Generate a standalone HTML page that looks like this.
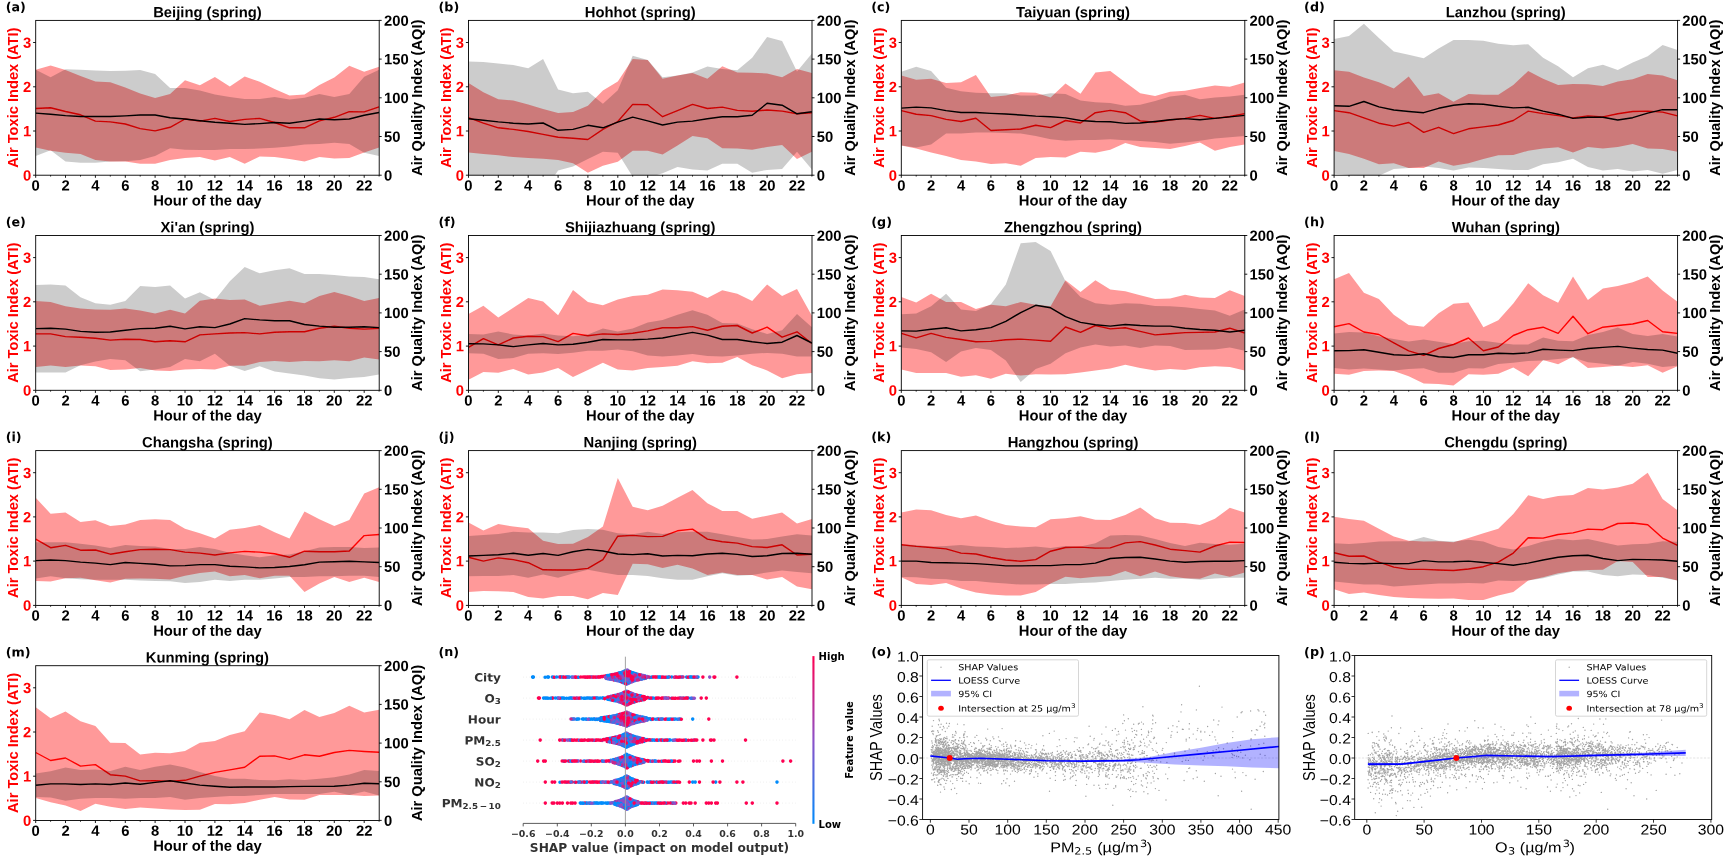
<!DOCTYPE html><html><head><meta charset="utf-8"><title>Figure</title><style>
html,body{margin:0;padding:0;background:#fff}svg{display:block}
.b{font-family:"Liberation Sans",Arial,sans-serif;font-weight:bold}
.r{font-family:"Liberation Sans",Arial,sans-serif}
.d{font-family:"DejaVu Sans",sans-serif}
.db{font-family:"DejaVu Sans",sans-serif;font-weight:bold}
</style></head><body>
<svg width="1731" height="862" viewBox="0 0 1731 862">
<rect width="1731" height="862" fill="#fff"/>
<filter id="soft" x="0" y="0" width="100%" height="100%"><feGaussianBlur stdDeviation="0.4"/></filter>
<g filter="url(#soft)">
<rect width="1731" height="862" fill="#fff"/>
<clipPath id="ca"><rect x="35.7" y="20.4" width="343.5" height="154.8"/></clipPath>
<g clip-path="url(#ca)">
<polygon points="35.7,69.7 50.6,65.5 65.5,70.1 80.5,76 95.4,81.4 110.3,82.2 125.3,87.5 140.2,93.5 155.1,98.1 170.1,93.9 185,80.2 199.9,85.2 214.9,77 229.8,86.4 244.7,76.6 259.7,81.8 274.6,89.1 289.5,95.6 304.5,94.4 319.4,85 334.3,77.6 349.3,65.7 364.2,71.8 379.1,66.8 379.1,147.6 364.2,152.4 349.3,158 334.3,158.5 319.4,157 304.5,161.6 289.5,159.1 274.6,157 259.7,156.4 244.7,163.7 229.8,157 214.9,160.5 199.9,157 185,158 170.1,160.1 155.1,163.7 140.2,163.7 125.3,161.6 110.3,161.6 95.4,160.1 80.5,153.9 65.5,152.8 50.6,150.7 35.7,147.6" fill="#f00" fill-opacity="0.4"/>
<polyline points="35.7,108.5 50.6,107.7 65.5,111.5 80.5,114.8 95.4,121.1 110.3,121.9 125.3,124 140.2,128.6 155.1,130.9 170.1,127.3 185,119 199.9,121.1 214.9,118.4 229.8,121.5 244.7,119.4 259.7,118.4 274.6,122.5 289.5,127.8 304.5,127.8 319.4,120.9 334.3,117.3 349.3,111.7 364.2,111.9 379.1,106.9" fill="none" stroke="#f00" stroke-width="1.4" stroke-linejoin="round"/>
<polygon points="35.7,69.7 50.6,77.2 65.5,69.3 80.5,69.7 95.4,70.5 110.3,71 125.3,70.8 140.2,69.9 155.1,74.1 170.1,88.1 185,88.1 199.9,90.6 214.9,94.4 229.8,96.9 244.7,98.9 259.7,98.9 274.6,96.9 289.5,99.6 304.5,97.7 319.4,93.9 334.3,96.9 349.3,93.9 364.2,76.8 379.1,69.7 379.1,156 364.2,152.8 349.3,144 334.3,142.8 319.4,144 304.5,144.5 289.5,146.6 274.6,147.8 259.7,148.6 244.7,149.1 229.8,149.1 214.9,149.9 199.9,149.9 185,149.7 170.1,148.2 155.1,156 140.2,160.1 125.3,161.2 110.3,161.6 95.4,162.8 80.5,162.8 65.5,161.6 50.6,150.3 35.7,156" fill="#000" fill-opacity="0.2"/>
<polyline points="35.7,113.1 50.6,114.2 65.5,115.6 80.5,116.5 95.4,116.5 110.3,116.5 125.3,115.9 140.2,115 155.1,115 170.1,117.7 185,119 199.9,120.7 214.9,122.3 229.8,123.2 244.7,124.4 259.7,123.6 274.6,122.5 289.5,123.2 304.5,121.1 319.4,119 334.3,119.8 349.3,119 364.2,115.2 379.1,112.5" fill="none" stroke="#000" stroke-width="1.4" stroke-linejoin="round"/>
</g>
<rect x="35.7" y="20.4" width="343.5" height="154.8" fill="none" stroke="#000" stroke-width="0.9"/>
<path d="M35.7,175.2v2.6M50.6,175.2v1.3M65.5,175.2v2.6M80.5,175.2v1.3M95.4,175.2v2.6M110.3,175.2v1.3M125.3,175.2v2.6M140.2,175.2v1.3M155.1,175.2v2.6M170.1,175.2v1.3M185,175.2v2.6M199.9,175.2v1.3M214.9,175.2v2.6M229.8,175.2v1.3M244.7,175.2v2.6M259.7,175.2v1.3M274.6,175.2v2.6M289.5,175.2v1.3M304.5,175.2v2.6M319.4,175.2v1.3M334.3,175.2v2.6M349.3,175.2v1.3M364.2,175.2v2.6M379.1,175.2v1.3M35.7,175.2h-2.6M35.7,131h-2.6M35.7,86.8h-2.6M35.7,42.5h-2.6M379.1,175.2h2.6M379.1,136.5h2.6M379.1,97.8h2.6M379.1,59.1h2.6M379.1,20.4h2.6" stroke="#000" stroke-width="0.9" fill="none"/>
<g class="b" font-size="14.8">
<text transform="translate(35.66,190.4) rotate(0.03)" text-anchor="middle">0</text>
<text transform="translate(65.53,190.4) rotate(0.03)" text-anchor="middle">2</text>
<text transform="translate(95.4,190.4) rotate(0.03)" text-anchor="middle">4</text>
<text transform="translate(125.26,190.4) rotate(0.03)" text-anchor="middle">6</text>
<text transform="translate(155.13,190.4) rotate(0.03)" text-anchor="middle">8</text>
<text transform="translate(185,190.4) rotate(0.03)" text-anchor="middle">10</text>
<text transform="translate(214.87,190.4) rotate(0.03)" text-anchor="middle">12</text>
<text transform="translate(244.73,190.4) rotate(0.03)" text-anchor="middle">14</text>
<text transform="translate(274.6,190.4) rotate(0.03)" text-anchor="middle">16</text>
<text transform="translate(304.47,190.4) rotate(0.03)" text-anchor="middle">18</text>
<text transform="translate(334.34,190.4) rotate(0.03)" text-anchor="middle">20</text>
<text transform="translate(364.21,190.4) rotate(0.03)" text-anchor="middle">22</text>
<text transform="translate(31.26,180.4) rotate(0.03)" text-anchor="end" fill="#f00">0</text>
<text transform="translate(31.26,136.18) rotate(0.03)" text-anchor="end" fill="#f00">1</text>
<text transform="translate(31.26,91.97) rotate(0.03)" text-anchor="end" fill="#f00">2</text>
<text transform="translate(31.26,47.75) rotate(0.03)" text-anchor="end" fill="#f00">3</text>
<text transform="translate(383.94,180.4) rotate(0.03)" text-anchor="start">0</text>
<text transform="translate(383.94,141.71) rotate(0.03)" text-anchor="start">50</text>
<text transform="translate(383.94,103.02) rotate(0.03)" text-anchor="start">100</text>
<text transform="translate(383.94,64.33) rotate(0.03)" text-anchor="start">150</text>
<text transform="translate(383.94,25.64) rotate(0.03)" text-anchor="start">200</text>
<text transform="translate(207.4,205.5) rotate(0.03)" text-anchor="middle">Hour of the day</text>
<text transform="translate(207.4,17.24) rotate(0.03)" text-anchor="middle" font-size="14.8">Beijing (spring)</text>
<text transform="translate(18.1,97.6) rotate(-90)" text-anchor="middle" fill="#f00" font-size="14.65">Air Toxic Index (ATI)</text>
<text transform="translate(421.7,97.7) rotate(-90)" text-anchor="middle" font-size="14.65">Air Quality Index (AQI)</text>
<text transform="translate(5.7,11.2) rotate(0.03)" text-anchor="start" font-size="12.7" class="db">(a)</text>
</g>
<clipPath id="cb"><rect x="468.5" y="20.4" width="343.5" height="154.8"/></clipPath>
<g clip-path="url(#cb)">
<polygon points="468.5,82.9 483.4,92.3 498.3,99.2 513.3,100.6 528.2,104.4 543.1,109 558.1,113.1 573,112.1 587.9,105.8 602.9,90.6 617.8,81.4 632.7,58.9 647.7,59.9 662.6,78.7 677.5,75.6 692.5,73.1 707.4,78.7 722.3,66.2 737.3,72.4 752.2,72.8 767.1,73.5 782.1,77.2 797,68.9 811.9,73.1 811.9,151.8 797,159.1 782.1,144.9 767.1,147 752.2,149.7 737.3,148.6 722.3,148.2 707.4,138.2 692.5,136.1 677.5,145.5 662.6,154.5 647.7,150.7 632.7,150.7 617.8,161.8 602.9,165.8 587.9,172.7 573,163.3 558.1,160.1 543.1,158.7 528.2,158 513.3,157 498.3,155.3 483.4,153.9 468.5,152.4" fill="#f00" fill-opacity="0.4"/>
<polyline points="468.5,117.7 483.4,123.2 498.3,127.8 513.3,129.4 528.2,131.5 543.1,134.4 558.1,137.2 573,138.2 587.9,139.5 602.9,129.4 617.8,121.5 632.7,104.4 647.7,104.8 662.6,116.7 677.5,110.6 692.5,104.4 707.4,108.5 722.3,107.1 737.3,110.4 752.2,111.3 767.1,110 782.1,111.1 797,113.8 811.9,112.7" fill="none" stroke="#f00" stroke-width="1.4" stroke-linejoin="round"/>
<polygon points="468.5,61.4 483.4,62 498.3,63.4 513.3,65.1 528.2,68.2 543.1,58.9 558.1,89.5 573,93.3 587.9,91.8 602.9,103.7 617.8,90.2 632.7,55.7 647.7,59.9 662.6,77.2 677.5,75.6 692.5,72.4 707.4,66.6 722.3,68.9 737.3,70.3 752.2,57.8 767.1,36.9 782.1,41.1 797,71.4 811.9,53.6 811.9,169.5 797,151.8 782.1,169.1 767.1,169.9 752.2,172.7 737.3,163.7 722.3,163.7 707.4,170.6 692.5,169.5 677.5,167 662.6,173.3 647.7,177.9 632.7,176.8 617.8,152.8 602.9,151.8 587.9,159.1 573,166.4 558.1,170.6 543.1,192.5 528.2,190.4 513.3,188.3 498.3,186.2 483.4,184.1 468.5,182.1" fill="#000" fill-opacity="0.2"/>
<polyline points="468.5,118.8 483.4,120.2 498.3,121.9 513.3,123.2 528.2,124 543.1,123 558.1,130.3 573,129.4 587.9,125.3 602.9,127.8 617.8,122.1 632.7,117.1 647.7,120.9 662.6,125 677.5,122.1 692.5,121.1 707.4,118.8 722.3,116.7 737.3,116.7 752.2,115.2 767.1,103.3 782.1,105.2 797,113.8 811.9,111.7" fill="none" stroke="#000" stroke-width="1.4" stroke-linejoin="round"/>
</g>
<rect x="468.5" y="20.4" width="343.5" height="154.8" fill="none" stroke="#000" stroke-width="0.9"/>
<path d="M468.5,175.2v2.6M483.4,175.2v1.3M498.3,175.2v2.6M513.3,175.2v1.3M528.2,175.2v2.6M543.1,175.2v1.3M558.1,175.2v2.6M573,175.2v1.3M587.9,175.2v2.6M602.9,175.2v1.3M617.8,175.2v2.6M632.7,175.2v1.3M647.7,175.2v2.6M662.6,175.2v1.3M677.5,175.2v2.6M692.5,175.2v1.3M707.4,175.2v2.6M722.3,175.2v1.3M737.3,175.2v2.6M752.2,175.2v1.3M767.1,175.2v2.6M782.1,175.2v1.3M797,175.2v2.6M811.9,175.2v1.3M468.5,175.2h-2.6M468.5,131h-2.6M468.5,86.8h-2.6M468.5,42.5h-2.6M811.9,175.2h2.6M811.9,136.5h2.6M811.9,97.8h2.6M811.9,59.1h2.6M811.9,20.4h2.6" stroke="#000" stroke-width="0.9" fill="none"/>
<g class="b" font-size="14.8">
<text transform="translate(468.46,190.4) rotate(0.03)" text-anchor="middle">0</text>
<text transform="translate(498.33,190.4) rotate(0.03)" text-anchor="middle">2</text>
<text transform="translate(528.2,190.4) rotate(0.03)" text-anchor="middle">4</text>
<text transform="translate(558.06,190.4) rotate(0.03)" text-anchor="middle">6</text>
<text transform="translate(587.93,190.4) rotate(0.03)" text-anchor="middle">8</text>
<text transform="translate(617.8,190.4) rotate(0.03)" text-anchor="middle">10</text>
<text transform="translate(647.67,190.4) rotate(0.03)" text-anchor="middle">12</text>
<text transform="translate(677.53,190.4) rotate(0.03)" text-anchor="middle">14</text>
<text transform="translate(707.4,190.4) rotate(0.03)" text-anchor="middle">16</text>
<text transform="translate(737.27,190.4) rotate(0.03)" text-anchor="middle">18</text>
<text transform="translate(767.14,190.4) rotate(0.03)" text-anchor="middle">20</text>
<text transform="translate(797.01,190.4) rotate(0.03)" text-anchor="middle">22</text>
<text transform="translate(464.06,180.4) rotate(0.03)" text-anchor="end" fill="#f00">0</text>
<text transform="translate(464.06,136.18) rotate(0.03)" text-anchor="end" fill="#f00">1</text>
<text transform="translate(464.06,91.97) rotate(0.03)" text-anchor="end" fill="#f00">2</text>
<text transform="translate(464.06,47.75) rotate(0.03)" text-anchor="end" fill="#f00">3</text>
<text transform="translate(816.74,180.4) rotate(0.03)" text-anchor="start">0</text>
<text transform="translate(816.74,141.71) rotate(0.03)" text-anchor="start">50</text>
<text transform="translate(816.74,103.02) rotate(0.03)" text-anchor="start">100</text>
<text transform="translate(816.74,64.33) rotate(0.03)" text-anchor="start">150</text>
<text transform="translate(816.74,25.64) rotate(0.03)" text-anchor="start">200</text>
<text transform="translate(640.2,205.5) rotate(0.03)" text-anchor="middle">Hour of the day</text>
<text transform="translate(640.2,17.24) rotate(0.03)" text-anchor="middle" font-size="14.8">Hohhot (spring)</text>
<text transform="translate(450.9,97.6) rotate(-90)" text-anchor="middle" fill="#f00" font-size="14.65">Air Toxic Index (ATI)</text>
<text transform="translate(854.5,97.7) rotate(-90)" text-anchor="middle" font-size="14.65">Air Quality Index (AQI)</text>
<text transform="translate(438.5,11.2) rotate(0.03)" text-anchor="start" font-size="12.7" class="db">(b)</text>
</g>
<clipPath id="cc"><rect x="901.3" y="20.4" width="343.5" height="154.8"/></clipPath>
<g clip-path="url(#cc)">
<polygon points="901.3,75.6 916.2,79.7 931.1,78.7 946.1,82.9 961,82.2 975.9,74.9 990.9,96.9 1005.8,95.4 1020.7,92.3 1035.7,92.7 1050.6,97.5 1065.5,83.5 1080.5,93.7 1095.4,72.4 1110.3,71 1125.3,82.2 1140.2,93.3 1155.1,96 1170.1,91.8 1185,90.8 1199.9,88.1 1214.9,85.6 1229.8,86.8 1244.7,82.4 1244.7,144.5 1229.8,147 1214.9,150.7 1199.9,142.4 1185,146.1 1170.1,149.1 1155.1,148 1140.2,147 1125.3,143 1110.3,149.7 1095.4,152.8 1080.5,151.8 1065.5,157.6 1050.6,157 1035.7,158 1020.7,165.8 1005.8,163.3 990.9,164.1 975.9,161.6 961,160.1 946.1,156 931.1,152.4 916.2,148.6 901.3,145.5" fill="#f00" fill-opacity="0.4"/>
<polyline points="901.3,110.6 916.2,114.2 931.1,115.6 946.1,119.4 961,121.5 975.9,118.2 990.9,130.5 1005.8,129.8 1020.7,129 1035.7,125.3 1050.6,127.6 1065.5,120.5 1080.5,123 1095.4,112.7 1110.3,110.4 1125.3,112.7 1140.2,120.9 1155.1,122.1 1170.1,120 1185,118.4 1199.9,115.4 1214.9,118.4 1229.8,116.5 1244.7,113.6" fill="none" stroke="#f00" stroke-width="1.4" stroke-linejoin="round"/>
<polygon points="901.3,71.8 916.2,66.8 931.1,71 946.1,87.7 961,91.2 975.9,92.7 990.9,93.3 1005.8,93.3 1020.7,95.4 1035.7,95.4 1050.6,93.3 1065.5,93.9 1080.5,100.6 1095.4,102.3 1110.3,103.1 1125.3,105.8 1140.2,104.8 1155.1,101 1170.1,96.4 1185,94.8 1199.9,99.2 1214.9,97.5 1229.8,96.4 1244.7,94.8 1244.7,136.1 1229.8,137.2 1214.9,138.6 1199.9,140.7 1185,142.4 1170.1,143.8 1155.1,142 1140.2,140.9 1125.3,140.3 1110.3,139.2 1095.4,139.9 1080.5,139.9 1065.5,140.7 1050.6,139.2 1035.7,136.1 1020.7,133.6 1005.8,133 990.9,132.6 975.9,132.6 961,133.6 946.1,133.6 931.1,144.5 916.2,147.6 901.3,145.5" fill="#000" fill-opacity="0.2"/>
<polyline points="901.3,108.1 916.2,107.1 931.1,107.9 946.1,110.6 961,112.5 975.9,112.5 990.9,113.4 1005.8,114 1020.7,115 1035.7,116.1 1050.6,116.7 1065.5,117.9 1080.5,120.5 1095.4,121.5 1110.3,121.7 1125.3,123.4 1140.2,123 1155.1,121.5 1170.1,119.8 1185,118.6 1199.9,119.8 1214.9,118.4 1229.8,116.9 1244.7,115.4" fill="none" stroke="#000" stroke-width="1.4" stroke-linejoin="round"/>
</g>
<rect x="901.3" y="20.4" width="343.5" height="154.8" fill="none" stroke="#000" stroke-width="0.9"/>
<path d="M901.3,175.2v2.6M916.2,175.2v1.3M931.1,175.2v2.6M946.1,175.2v1.3M961,175.2v2.6M975.9,175.2v1.3M990.9,175.2v2.6M1005.8,175.2v1.3M1020.7,175.2v2.6M1035.7,175.2v1.3M1050.6,175.2v2.6M1065.5,175.2v1.3M1080.5,175.2v2.6M1095.4,175.2v1.3M1110.3,175.2v2.6M1125.3,175.2v1.3M1140.2,175.2v2.6M1155.1,175.2v1.3M1170.1,175.2v2.6M1185,175.2v1.3M1199.9,175.2v2.6M1214.9,175.2v1.3M1229.8,175.2v2.6M1244.7,175.2v1.3M901.3,175.2h-2.6M901.3,131h-2.6M901.3,86.8h-2.6M901.3,42.5h-2.6M1244.7,175.2h2.6M1244.7,136.5h2.6M1244.7,97.8h2.6M1244.7,59.1h2.6M1244.7,20.4h2.6" stroke="#000" stroke-width="0.9" fill="none"/>
<g class="b" font-size="14.8">
<text transform="translate(901.26,190.4) rotate(0.03)" text-anchor="middle">0</text>
<text transform="translate(931.13,190.4) rotate(0.03)" text-anchor="middle">2</text>
<text transform="translate(961,190.4) rotate(0.03)" text-anchor="middle">4</text>
<text transform="translate(990.86,190.4) rotate(0.03)" text-anchor="middle">6</text>
<text transform="translate(1020.73,190.4) rotate(0.03)" text-anchor="middle">8</text>
<text transform="translate(1050.6,190.4) rotate(0.03)" text-anchor="middle">10</text>
<text transform="translate(1080.47,190.4) rotate(0.03)" text-anchor="middle">12</text>
<text transform="translate(1110.33,190.4) rotate(0.03)" text-anchor="middle">14</text>
<text transform="translate(1140.2,190.4) rotate(0.03)" text-anchor="middle">16</text>
<text transform="translate(1170.07,190.4) rotate(0.03)" text-anchor="middle">18</text>
<text transform="translate(1199.94,190.4) rotate(0.03)" text-anchor="middle">20</text>
<text transform="translate(1229.81,190.4) rotate(0.03)" text-anchor="middle">22</text>
<text transform="translate(896.86,180.4) rotate(0.03)" text-anchor="end" fill="#f00">0</text>
<text transform="translate(896.86,136.18) rotate(0.03)" text-anchor="end" fill="#f00">1</text>
<text transform="translate(896.86,91.97) rotate(0.03)" text-anchor="end" fill="#f00">2</text>
<text transform="translate(896.86,47.75) rotate(0.03)" text-anchor="end" fill="#f00">3</text>
<text transform="translate(1249.54,180.4) rotate(0.03)" text-anchor="start">0</text>
<text transform="translate(1249.54,141.71) rotate(0.03)" text-anchor="start">50</text>
<text transform="translate(1249.54,103.02) rotate(0.03)" text-anchor="start">100</text>
<text transform="translate(1249.54,64.33) rotate(0.03)" text-anchor="start">150</text>
<text transform="translate(1249.54,25.64) rotate(0.03)" text-anchor="start">200</text>
<text transform="translate(1073,205.5) rotate(0.03)" text-anchor="middle">Hour of the day</text>
<text transform="translate(1073,17.24) rotate(0.03)" text-anchor="middle" font-size="14.8">Taiyuan (spring)</text>
<text transform="translate(883.7,97.6) rotate(-90)" text-anchor="middle" fill="#f00" font-size="14.65">Air Toxic Index (ATI)</text>
<text transform="translate(1287.3,97.7) rotate(-90)" text-anchor="middle" font-size="14.65">Air Quality Index (AQI)</text>
<text transform="translate(871.3,11.2) rotate(0.03)" text-anchor="start" font-size="12.7" class="db">(c)</text>
</g>
<clipPath id="cd"><rect x="1334.1" y="20.4" width="343.5" height="154.8"/></clipPath>
<g clip-path="url(#cd)">
<polygon points="1334.1,70.3 1349,71.8 1363.9,77.6 1378.9,82.2 1393.8,88.5 1408.7,76.6 1423.7,96 1438.6,93.3 1453.5,101.7 1468.5,93.9 1483.4,94.8 1498.3,94.8 1513.3,85 1528.2,71 1543.1,78.7 1558.1,85 1573,83.9 1587.9,84.3 1602.9,86 1617.8,81.4 1632.7,79.3 1647.7,73.9 1662.6,75.6 1677.5,80.2 1677.5,151.8 1662.6,149.1 1647.7,148.6 1632.7,144 1617.8,147 1602.9,148.6 1587.9,147 1573,152.4 1558.1,147.2 1543.1,148.6 1528.2,150.7 1513.3,154.9 1498.3,155.3 1483.4,159.1 1468.5,163.3 1453.5,165.8 1438.6,161.6 1423.7,168.1 1408.7,168.1 1393.8,163.3 1378.9,164.3 1363.9,158.7 1349,153.9 1334.1,151.1" fill="#f00" fill-opacity="0.4"/>
<polyline points="1334.1,110.6 1349,112.7 1363.9,117.9 1378.9,123.2 1393.8,126.1 1408.7,122.5 1423.7,132.4 1438.6,127.3 1453.5,133.6 1468.5,128.8 1483.4,126.9 1498.3,125 1513.3,120.5 1528.2,111.1 1543.1,113.6 1558.1,115.6 1573,117.9 1587.9,115.9 1602.9,116.9 1617.8,113.8 1632.7,111.5 1647.7,111.1 1662.6,112.1 1677.5,115.9" fill="none" stroke="#f00" stroke-width="1.4" stroke-linejoin="round"/>
<polygon points="1334.1,39 1349,35.9 1363.9,23.8 1378.9,38 1393.8,51.5 1408.7,54.7 1423.7,58.2 1438.6,48.4 1453.5,40.1 1468.5,40.1 1483.4,40.7 1498.3,43.8 1513.3,45.3 1528.2,44.2 1543.1,57.8 1558.1,66.2 1573,77.2 1587.9,68.2 1602.9,64.7 1617.8,69.9 1632.7,62.6 1647.7,56.3 1662.6,44.9 1677.5,50.1 1677.5,169.9 1662.6,173.7 1647.7,169.9 1632.7,171.6 1617.8,169.1 1602.9,170.6 1587.9,167 1573,158.7 1558.1,162.2 1543.1,164.3 1528.2,169.9 1513.3,169.9 1498.3,169.1 1483.4,168.1 1468.5,167.4 1453.5,170.6 1438.6,168.1 1423.7,166.4 1408.7,167.9 1393.8,168.9 1378.9,175.8 1363.9,176.8 1349,174.7 1334.1,173.7" fill="#000" fill-opacity="0.2"/>
<polyline points="1334.1,105.8 1349,106.3 1363.9,101.5 1378.9,106.9 1393.8,110 1408.7,111.5 1423.7,112.7 1438.6,108.3 1453.5,105.2 1468.5,103.7 1483.4,104.2 1498.3,106.3 1513.3,107.9 1528.2,107.3 1543.1,111.1 1558.1,114.2 1573,118.4 1587.9,117.3 1602.9,117.3 1617.8,120 1632.7,117.7 1647.7,113.1 1662.6,109.6 1677.5,109.8" fill="none" stroke="#000" stroke-width="1.4" stroke-linejoin="round"/>
</g>
<rect x="1334.1" y="20.4" width="343.5" height="154.8" fill="none" stroke="#000" stroke-width="0.9"/>
<path d="M1334.1,175.2v2.6M1349,175.2v1.3M1363.9,175.2v2.6M1378.9,175.2v1.3M1393.8,175.2v2.6M1408.7,175.2v1.3M1423.7,175.2v2.6M1438.6,175.2v1.3M1453.5,175.2v2.6M1468.5,175.2v1.3M1483.4,175.2v2.6M1498.3,175.2v1.3M1513.3,175.2v2.6M1528.2,175.2v1.3M1543.1,175.2v2.6M1558.1,175.2v1.3M1573,175.2v2.6M1587.9,175.2v1.3M1602.9,175.2v2.6M1617.8,175.2v1.3M1632.7,175.2v2.6M1647.7,175.2v1.3M1662.6,175.2v2.6M1677.5,175.2v1.3M1334.1,175.2h-2.6M1334.1,131h-2.6M1334.1,86.8h-2.6M1334.1,42.5h-2.6M1677.5,175.2h2.6M1677.5,136.5h2.6M1677.5,97.8h2.6M1677.5,59.1h2.6M1677.5,20.4h2.6" stroke="#000" stroke-width="0.9" fill="none"/>
<g class="b" font-size="14.8">
<text transform="translate(1334.06,190.4) rotate(0.03)" text-anchor="middle">0</text>
<text transform="translate(1363.93,190.4) rotate(0.03)" text-anchor="middle">2</text>
<text transform="translate(1393.8,190.4) rotate(0.03)" text-anchor="middle">4</text>
<text transform="translate(1423.66,190.4) rotate(0.03)" text-anchor="middle">6</text>
<text transform="translate(1453.53,190.4) rotate(0.03)" text-anchor="middle">8</text>
<text transform="translate(1483.4,190.4) rotate(0.03)" text-anchor="middle">10</text>
<text transform="translate(1513.27,190.4) rotate(0.03)" text-anchor="middle">12</text>
<text transform="translate(1543.13,190.4) rotate(0.03)" text-anchor="middle">14</text>
<text transform="translate(1573,190.4) rotate(0.03)" text-anchor="middle">16</text>
<text transform="translate(1602.87,190.4) rotate(0.03)" text-anchor="middle">18</text>
<text transform="translate(1632.74,190.4) rotate(0.03)" text-anchor="middle">20</text>
<text transform="translate(1662.61,190.4) rotate(0.03)" text-anchor="middle">22</text>
<text transform="translate(1329.66,180.4) rotate(0.03)" text-anchor="end" fill="#f00">0</text>
<text transform="translate(1329.66,136.18) rotate(0.03)" text-anchor="end" fill="#f00">1</text>
<text transform="translate(1329.66,91.97) rotate(0.03)" text-anchor="end" fill="#f00">2</text>
<text transform="translate(1329.66,47.75) rotate(0.03)" text-anchor="end" fill="#f00">3</text>
<text transform="translate(1682.34,180.4) rotate(0.03)" text-anchor="start">0</text>
<text transform="translate(1682.34,141.71) rotate(0.03)" text-anchor="start">50</text>
<text transform="translate(1682.34,103.02) rotate(0.03)" text-anchor="start">100</text>
<text transform="translate(1682.34,64.33) rotate(0.03)" text-anchor="start">150</text>
<text transform="translate(1682.34,25.64) rotate(0.03)" text-anchor="start">200</text>
<text transform="translate(1505.8,205.5) rotate(0.03)" text-anchor="middle">Hour of the day</text>
<text transform="translate(1505.8,17.24) rotate(0.03)" text-anchor="middle" font-size="14.8">Lanzhou (spring)</text>
<text transform="translate(1316.5,97.6) rotate(-90)" text-anchor="middle" fill="#f00" font-size="14.65">Air Toxic Index (ATI)</text>
<text transform="translate(1720.1,97.7) rotate(-90)" text-anchor="middle" font-size="14.65">Air Quality Index (AQI)</text>
<text transform="translate(1304.1,11.2) rotate(0.03)" text-anchor="start" font-size="12.7" class="db">(d)</text>
</g>
<clipPath id="ce"><rect x="35.7" y="235.5" width="343.5" height="154.8"/></clipPath>
<g clip-path="url(#ce)">
<polygon points="35.7,301.1 50.6,302.1 65.5,306.3 80.5,308.4 95.4,309.4 110.3,309.8 125.3,308.4 140.2,310.5 155.1,313.6 170.1,309.8 185,313.6 199.9,300.7 214.9,298.6 229.8,300 244.7,299.4 259.7,305.7 274.6,303.2 289.5,300.7 304.5,303.2 319.4,295.9 334.3,292.1 349.3,295.9 364.2,301.1 379.1,297.9 379.1,359.5 364.2,357.5 349.3,361.2 334.3,360.2 319.4,361.2 304.5,361 289.5,362.1 274.6,361 259.7,362.1 244.7,365.8 229.8,365.8 214.9,369.4 199.9,368.9 185,369.6 170.1,371 155.1,370.4 140.2,367.9 125.3,369.6 110.3,370 95.4,366.2 80.5,365.4 65.5,366.9 50.6,365.4 35.7,366.9" fill="#f00" fill-opacity="0.4"/>
<polyline points="35.7,333.9 50.6,333.9 65.5,336.6 80.5,337.2 95.4,338.2 110.3,340.1 125.3,339.3 140.2,339.5 155.1,341.8 170.1,340.8 185,341.8 199.9,334.9 214.9,333.9 229.8,333 244.7,332.6 259.7,333.9 274.6,332.2 289.5,331.8 304.5,331.8 319.4,328.2 334.3,326.3 349.3,328.2 364.2,329.1 379.1,328.4" fill="none" stroke="#f00" stroke-width="1.4" stroke-linejoin="round"/>
<polygon points="35.7,285 50.6,284.4 65.5,285.4 80.5,297.3 95.4,303.2 110.3,304.8 125.3,301.1 140.2,286 155.1,286.9 170.1,285.4 185,298.6 199.9,292.3 214.9,300 229.8,281.2 244.7,267 259.7,273.3 274.6,270.2 289.5,268.3 304.5,273.9 319.4,273.9 334.3,275 349.3,276.4 364.2,277.1 379.1,279.2 379.1,374.6 364.2,376.9 349.3,377.9 334.3,379.6 319.4,378.3 304.5,375.6 289.5,373.5 274.6,371.4 259.7,366.2 244.7,371 229.8,365.8 214.9,353.7 199.9,361.2 185,358.9 170.1,366.9 155.1,369.6 140.2,371.2 125.3,360.2 110.3,359.1 95.4,361.6 80.5,365.2 65.5,372.5 50.6,372.5 35.7,372.5" fill="#000" fill-opacity="0.2"/>
<polyline points="35.7,328.6 50.6,328.2 65.5,329.1 80.5,331.4 95.4,332.2 110.3,332 125.3,330.3 140.2,328.6 155.1,328.2 170.1,326.3 185,328.9 199.9,326.8 214.9,327.6 229.8,324 244.7,318.6 259.7,319.9 274.6,320.7 289.5,320.7 304.5,324.5 319.4,326.1 334.3,327.2 349.3,327.2 364.2,326.8 379.1,327.6" fill="none" stroke="#000" stroke-width="1.4" stroke-linejoin="round"/>
</g>
<rect x="35.7" y="235.5" width="343.5" height="154.8" fill="none" stroke="#000" stroke-width="0.9"/>
<path d="M35.7,390.3v2.6M50.6,390.3v1.3M65.5,390.3v2.6M80.5,390.3v1.3M95.4,390.3v2.6M110.3,390.3v1.3M125.3,390.3v2.6M140.2,390.3v1.3M155.1,390.3v2.6M170.1,390.3v1.3M185,390.3v2.6M199.9,390.3v1.3M214.9,390.3v2.6M229.8,390.3v1.3M244.7,390.3v2.6M259.7,390.3v1.3M274.6,390.3v2.6M289.5,390.3v1.3M304.5,390.3v2.6M319.4,390.3v1.3M334.3,390.3v2.6M349.3,390.3v1.3M364.2,390.3v2.6M379.1,390.3v1.3M35.7,390.3h-2.6M35.7,346.1h-2.6M35.7,301.8h-2.6M35.7,257.6h-2.6M379.1,390.3h2.6M379.1,351.6h2.6M379.1,312.9h2.6M379.1,274.2h2.6M379.1,235.5h2.6" stroke="#000" stroke-width="0.9" fill="none"/>
<g class="b" font-size="14.8">
<text transform="translate(35.66,405.48) rotate(0.03)" text-anchor="middle">0</text>
<text transform="translate(65.53,405.48) rotate(0.03)" text-anchor="middle">2</text>
<text transform="translate(95.4,405.48) rotate(0.03)" text-anchor="middle">4</text>
<text transform="translate(125.26,405.48) rotate(0.03)" text-anchor="middle">6</text>
<text transform="translate(155.13,405.48) rotate(0.03)" text-anchor="middle">8</text>
<text transform="translate(185,405.48) rotate(0.03)" text-anchor="middle">10</text>
<text transform="translate(214.87,405.48) rotate(0.03)" text-anchor="middle">12</text>
<text transform="translate(244.73,405.48) rotate(0.03)" text-anchor="middle">14</text>
<text transform="translate(274.6,405.48) rotate(0.03)" text-anchor="middle">16</text>
<text transform="translate(304.47,405.48) rotate(0.03)" text-anchor="middle">18</text>
<text transform="translate(334.34,405.48) rotate(0.03)" text-anchor="middle">20</text>
<text transform="translate(364.21,405.48) rotate(0.03)" text-anchor="middle">22</text>
<text transform="translate(31.26,395.48) rotate(0.03)" text-anchor="end" fill="#f00">0</text>
<text transform="translate(31.26,351.26) rotate(0.03)" text-anchor="end" fill="#f00">1</text>
<text transform="translate(31.26,307.05) rotate(0.03)" text-anchor="end" fill="#f00">2</text>
<text transform="translate(31.26,262.83) rotate(0.03)" text-anchor="end" fill="#f00">3</text>
<text transform="translate(383.94,395.48) rotate(0.03)" text-anchor="start">0</text>
<text transform="translate(383.94,356.79) rotate(0.03)" text-anchor="start">50</text>
<text transform="translate(383.94,318.1) rotate(0.03)" text-anchor="start">100</text>
<text transform="translate(383.94,279.41) rotate(0.03)" text-anchor="start">150</text>
<text transform="translate(383.94,240.72) rotate(0.03)" text-anchor="start">200</text>
<text transform="translate(207.4,420.58) rotate(0.03)" text-anchor="middle">Hour of the day</text>
<text transform="translate(207.4,232.32) rotate(0.03)" text-anchor="middle" font-size="14.8">Xi&#39;an (spring)</text>
<text transform="translate(18.1,312.7) rotate(-90)" text-anchor="middle" fill="#f00" font-size="14.65">Air Toxic Index (ATI)</text>
<text transform="translate(421.7,312.8) rotate(-90)" text-anchor="middle" font-size="14.65">Air Quality Index (AQI)</text>
<text transform="translate(5.7,226.28) rotate(0.03)" text-anchor="start" font-size="12.7" class="db">(e)</text>
</g>
<clipPath id="cf"><rect x="468.5" y="235.5" width="343.5" height="154.8"/></clipPath>
<g clip-path="url(#cf)">
<polygon points="468.5,314 483.4,305.7 498.3,317.4 513.3,307.8 528.2,297.9 543.1,301.5 558.1,315.3 573,290 587.9,302.1 602.9,305.3 617.8,299.6 632.7,295.9 647.7,294.8 662.6,289.6 677.5,290.2 692.5,291.7 707.4,297.9 722.3,290.2 737.3,293.8 752.2,301.1 767.1,284.4 782.1,295.9 797,289 811.9,315.7 811.9,373.1 797,374.2 782.1,378.3 767.1,370.4 752.2,365.2 737.3,357 722.3,362.7 707.4,363.3 692.5,361.2 677.5,365.8 662.6,366.9 647.7,367.9 632.7,370.6 617.8,369.6 602.9,362.7 587.9,370 573,376.9 558.1,367.9 543.1,372.5 528.2,374.6 513.3,368.9 498.3,372.7 483.4,372.1 468.5,379.8" fill="#f00" fill-opacity="0.4"/>
<polyline points="468.5,347.4 483.4,338.7 498.3,344.9 513.3,338 528.2,336.2 543.1,336.6 558.1,341.6 573,333.4 587.9,335.7 602.9,333.9 617.8,334.5 632.7,333.2 647.7,330.9 662.6,327.8 677.5,327.8 692.5,326.6 707.4,330.3 722.3,326.3 737.3,325.5 752.2,333 767.1,327.2 782.1,337.2 797,331.8 811.9,343.5" fill="none" stroke="#f00" stroke-width="1.4" stroke-linejoin="round"/>
<polygon points="468.5,334.1 483.4,334.5 498.3,331.4 513.3,334.5 528.2,335.5 543.1,333.4 558.1,335.5 573,336.2 587.9,334.5 602.9,328.6 617.8,331.4 632.7,328.6 647.7,322.4 662.6,319.9 677.5,314.7 692.5,310.3 707.4,314.7 722.3,323 737.3,323.4 752.2,329.3 767.1,333.9 782.1,330.3 797,314 811.9,327.2 811.9,356.4 797,356.4 782.1,353.7 767.1,352.9 752.2,353.7 737.3,355.4 722.3,356.4 707.4,356 692.5,353.9 677.5,355.4 662.6,356.4 647.7,355.4 632.7,351.2 617.8,349.5 602.9,350.8 587.9,350.8 573,352.7 558.1,353.9 543.1,353.3 528.2,353.7 513.3,358.1 498.3,358.9 483.4,353.7 468.5,353.3" fill="#000" fill-opacity="0.2"/>
<polyline points="468.5,343.7 483.4,343.9 498.3,344.9 513.3,346.6 528.2,344.9 543.1,343.5 558.1,344.9 573,344.3 587.9,342.2 602.9,339.5 617.8,339.9 632.7,339.7 647.7,339.1 662.6,338 677.5,335.1 692.5,332.4 707.4,335.1 722.3,339.5 737.3,339.5 752.2,341.8 767.1,343.5 782.1,342.2 797,335.5 811.9,343" fill="none" stroke="#000" stroke-width="1.4" stroke-linejoin="round"/>
</g>
<rect x="468.5" y="235.5" width="343.5" height="154.8" fill="none" stroke="#000" stroke-width="0.9"/>
<path d="M468.5,390.3v2.6M483.4,390.3v1.3M498.3,390.3v2.6M513.3,390.3v1.3M528.2,390.3v2.6M543.1,390.3v1.3M558.1,390.3v2.6M573,390.3v1.3M587.9,390.3v2.6M602.9,390.3v1.3M617.8,390.3v2.6M632.7,390.3v1.3M647.7,390.3v2.6M662.6,390.3v1.3M677.5,390.3v2.6M692.5,390.3v1.3M707.4,390.3v2.6M722.3,390.3v1.3M737.3,390.3v2.6M752.2,390.3v1.3M767.1,390.3v2.6M782.1,390.3v1.3M797,390.3v2.6M811.9,390.3v1.3M468.5,390.3h-2.6M468.5,346.1h-2.6M468.5,301.8h-2.6M468.5,257.6h-2.6M811.9,390.3h2.6M811.9,351.6h2.6M811.9,312.9h2.6M811.9,274.2h2.6M811.9,235.5h2.6" stroke="#000" stroke-width="0.9" fill="none"/>
<g class="b" font-size="14.8">
<text transform="translate(468.46,405.48) rotate(0.03)" text-anchor="middle">0</text>
<text transform="translate(498.33,405.48) rotate(0.03)" text-anchor="middle">2</text>
<text transform="translate(528.2,405.48) rotate(0.03)" text-anchor="middle">4</text>
<text transform="translate(558.06,405.48) rotate(0.03)" text-anchor="middle">6</text>
<text transform="translate(587.93,405.48) rotate(0.03)" text-anchor="middle">8</text>
<text transform="translate(617.8,405.48) rotate(0.03)" text-anchor="middle">10</text>
<text transform="translate(647.67,405.48) rotate(0.03)" text-anchor="middle">12</text>
<text transform="translate(677.53,405.48) rotate(0.03)" text-anchor="middle">14</text>
<text transform="translate(707.4,405.48) rotate(0.03)" text-anchor="middle">16</text>
<text transform="translate(737.27,405.48) rotate(0.03)" text-anchor="middle">18</text>
<text transform="translate(767.14,405.48) rotate(0.03)" text-anchor="middle">20</text>
<text transform="translate(797.01,405.48) rotate(0.03)" text-anchor="middle">22</text>
<text transform="translate(464.06,395.48) rotate(0.03)" text-anchor="end" fill="#f00">0</text>
<text transform="translate(464.06,351.26) rotate(0.03)" text-anchor="end" fill="#f00">1</text>
<text transform="translate(464.06,307.05) rotate(0.03)" text-anchor="end" fill="#f00">2</text>
<text transform="translate(464.06,262.83) rotate(0.03)" text-anchor="end" fill="#f00">3</text>
<text transform="translate(816.74,395.48) rotate(0.03)" text-anchor="start">0</text>
<text transform="translate(816.74,356.79) rotate(0.03)" text-anchor="start">50</text>
<text transform="translate(816.74,318.1) rotate(0.03)" text-anchor="start">100</text>
<text transform="translate(816.74,279.41) rotate(0.03)" text-anchor="start">150</text>
<text transform="translate(816.74,240.72) rotate(0.03)" text-anchor="start">200</text>
<text transform="translate(640.2,420.58) rotate(0.03)" text-anchor="middle">Hour of the day</text>
<text transform="translate(640.2,232.32) rotate(0.03)" text-anchor="middle" font-size="14.8">Shijiazhuang (spring)</text>
<text transform="translate(450.9,312.7) rotate(-90)" text-anchor="middle" fill="#f00" font-size="14.65">Air Toxic Index (ATI)</text>
<text transform="translate(854.5,312.8) rotate(-90)" text-anchor="middle" font-size="14.65">Air Quality Index (AQI)</text>
<text transform="translate(438.5,226.28) rotate(0.03)" text-anchor="start" font-size="12.7" class="db">(f)</text>
</g>
<clipPath id="cg"><rect x="901.3" y="235.5" width="343.5" height="154.8"/></clipPath>
<g clip-path="url(#cg)">
<polygon points="901.3,296.9 916.2,302.5 931.1,293.8 946.1,302.1 961,302.1 975.9,309 990.9,304.8 1005.8,306.3 1020.7,302.1 1035.7,304.8 1050.6,306.3 1065.5,280.2 1080.5,292.1 1095.4,280.2 1110.3,289.6 1125.3,291.3 1140.2,295.2 1155.1,299 1170.1,298.6 1185,294.8 1199.9,297.5 1214.9,297.9 1229.8,290.2 1244.7,295.9 1244.7,370.4 1229.8,366.9 1214.9,366.2 1199.9,367.3 1185,370 1170.1,368.9 1155.1,370.4 1140.2,367.9 1125.3,364.8 1110.3,368.5 1095.4,370.6 1080.5,372.5 1065.5,374.2 1050.6,374.6 1035.7,374.2 1020.7,375.6 1005.8,373.7 990.9,378.8 975.9,375.2 961,376.7 946.1,373.1 931.1,373.1 916.2,373.1 901.3,369.6" fill="#f00" fill-opacity="0.4"/>
<polyline points="901.3,333.4 916.2,337.8 931.1,333.4 946.1,337.4 961,339.5 975.9,341.8 990.9,341.4 1005.8,339.7 1020.7,339.1 1035.7,340.1 1050.6,341.2 1065.5,327 1080.5,332.4 1095.4,325.5 1110.3,328.9 1125.3,327.8 1140.2,331.4 1155.1,334.9 1170.1,333.7 1185,332.6 1199.9,332.4 1214.9,332 1229.8,328.2 1244.7,333" fill="none" stroke="#f00" stroke-width="1.4" stroke-linejoin="round"/>
<polygon points="901.3,314.2 916.2,313.6 931.1,306.3 946.1,293.8 961,309.4 975.9,311.1 990.9,304.2 1005.8,284.4 1020.7,243.2 1035.7,242 1050.6,251 1065.5,281.2 1080.5,296.9 1095.4,303.2 1110.3,304.8 1125.3,303.2 1140.2,303.8 1155.1,305.9 1170.1,306.3 1185,307.3 1199.9,309 1214.9,310.5 1229.8,315.7 1244.7,309.4 1244.7,350.8 1229.8,347.4 1214.9,349.5 1199.9,349.7 1185,350.1 1170.1,346 1155.1,345.6 1140.2,348.1 1125.3,345.6 1110.3,346.6 1095.4,344.5 1080.5,347.6 1065.5,353.3 1050.6,363.7 1035.7,368.9 1020.7,381.9 1005.8,360.6 990.9,350.1 975.9,348.1 961,351.6 946.1,362.1 931.1,352.2 916.2,349.1 901.3,347.6" fill="#000" fill-opacity="0.2"/>
<polyline points="901.3,330.9 916.2,331.1 931.1,329.3 946.1,327.8 961,330.9 975.9,329.7 990.9,327.6 1005.8,321.3 1020.7,312.6 1035.7,305.3 1050.6,307.8 1065.5,316.7 1080.5,322.4 1095.4,324.7 1110.3,326.1 1125.3,324.5 1140.2,325.5 1155.1,326.1 1170.1,326.1 1185,328.2 1199.9,329.5 1214.9,330.3 1229.8,332 1244.7,330.3" fill="none" stroke="#000" stroke-width="1.4" stroke-linejoin="round"/>
</g>
<rect x="901.3" y="235.5" width="343.5" height="154.8" fill="none" stroke="#000" stroke-width="0.9"/>
<path d="M901.3,390.3v2.6M916.2,390.3v1.3M931.1,390.3v2.6M946.1,390.3v1.3M961,390.3v2.6M975.9,390.3v1.3M990.9,390.3v2.6M1005.8,390.3v1.3M1020.7,390.3v2.6M1035.7,390.3v1.3M1050.6,390.3v2.6M1065.5,390.3v1.3M1080.5,390.3v2.6M1095.4,390.3v1.3M1110.3,390.3v2.6M1125.3,390.3v1.3M1140.2,390.3v2.6M1155.1,390.3v1.3M1170.1,390.3v2.6M1185,390.3v1.3M1199.9,390.3v2.6M1214.9,390.3v1.3M1229.8,390.3v2.6M1244.7,390.3v1.3M901.3,390.3h-2.6M901.3,346.1h-2.6M901.3,301.8h-2.6M901.3,257.6h-2.6M1244.7,390.3h2.6M1244.7,351.6h2.6M1244.7,312.9h2.6M1244.7,274.2h2.6M1244.7,235.5h2.6" stroke="#000" stroke-width="0.9" fill="none"/>
<g class="b" font-size="14.8">
<text transform="translate(901.26,405.48) rotate(0.03)" text-anchor="middle">0</text>
<text transform="translate(931.13,405.48) rotate(0.03)" text-anchor="middle">2</text>
<text transform="translate(961,405.48) rotate(0.03)" text-anchor="middle">4</text>
<text transform="translate(990.86,405.48) rotate(0.03)" text-anchor="middle">6</text>
<text transform="translate(1020.73,405.48) rotate(0.03)" text-anchor="middle">8</text>
<text transform="translate(1050.6,405.48) rotate(0.03)" text-anchor="middle">10</text>
<text transform="translate(1080.47,405.48) rotate(0.03)" text-anchor="middle">12</text>
<text transform="translate(1110.33,405.48) rotate(0.03)" text-anchor="middle">14</text>
<text transform="translate(1140.2,405.48) rotate(0.03)" text-anchor="middle">16</text>
<text transform="translate(1170.07,405.48) rotate(0.03)" text-anchor="middle">18</text>
<text transform="translate(1199.94,405.48) rotate(0.03)" text-anchor="middle">20</text>
<text transform="translate(1229.81,405.48) rotate(0.03)" text-anchor="middle">22</text>
<text transform="translate(896.86,395.48) rotate(0.03)" text-anchor="end" fill="#f00">0</text>
<text transform="translate(896.86,351.26) rotate(0.03)" text-anchor="end" fill="#f00">1</text>
<text transform="translate(896.86,307.05) rotate(0.03)" text-anchor="end" fill="#f00">2</text>
<text transform="translate(896.86,262.83) rotate(0.03)" text-anchor="end" fill="#f00">3</text>
<text transform="translate(1249.54,395.48) rotate(0.03)" text-anchor="start">0</text>
<text transform="translate(1249.54,356.79) rotate(0.03)" text-anchor="start">50</text>
<text transform="translate(1249.54,318.1) rotate(0.03)" text-anchor="start">100</text>
<text transform="translate(1249.54,279.41) rotate(0.03)" text-anchor="start">150</text>
<text transform="translate(1249.54,240.72) rotate(0.03)" text-anchor="start">200</text>
<text transform="translate(1073,420.58) rotate(0.03)" text-anchor="middle">Hour of the day</text>
<text transform="translate(1073,232.32) rotate(0.03)" text-anchor="middle" font-size="14.8">Zhengzhou (spring)</text>
<text transform="translate(883.7,312.7) rotate(-90)" text-anchor="middle" fill="#f00" font-size="14.65">Air Toxic Index (ATI)</text>
<text transform="translate(1287.3,312.8) rotate(-90)" text-anchor="middle" font-size="14.65">Air Quality Index (AQI)</text>
<text transform="translate(871.3,226.28) rotate(0.03)" text-anchor="start" font-size="12.7" class="db">(g)</text>
</g>
<clipPath id="ch"><rect x="1334.1" y="235.5" width="343.5" height="154.8"/></clipPath>
<g clip-path="url(#ch)">
<polygon points="1334.1,279.2 1349,272.9 1363.9,292.7 1378.9,299 1393.8,314.7 1408.7,325.1 1423.7,326.8 1438.6,313.2 1453.5,303.8 1468.5,302.5 1483.4,327.2 1498.3,320.3 1513.3,303.6 1528.2,283.3 1543.1,295.2 1558.1,302.7 1573,276.4 1587.9,300 1602.9,288.5 1617.8,286 1632.7,282.3 1647.7,276.6 1662.6,290.6 1677.5,301.7 1677.5,366.2 1662.6,372.7 1647.7,365.2 1632.7,366.9 1617.8,365.8 1602.9,366.9 1587.9,367.9 1573,356.8 1558.1,364.3 1543.1,360 1528.2,376.3 1513.3,367.5 1498.3,373.7 1483.4,374.8 1468.5,374.2 1453.5,385.6 1438.6,384 1423.7,383.6 1408.7,376.3 1393.8,371 1378.9,370.4 1363.9,371 1349,374.8 1334.1,373.7" fill="#f00" fill-opacity="0.4"/>
<polyline points="1334.1,326.8 1349,323.6 1363.9,332 1378.9,334.5 1393.8,342.8 1408.7,350.8 1423.7,355.4 1438.6,348.5 1453.5,344.5 1468.5,338 1483.4,350.8 1498.3,347 1513.3,335.5 1528.2,329.7 1543.1,327.2 1558.1,333.4 1573,316.3 1587.9,333.7 1602.9,327.2 1617.8,325.5 1632.7,324 1647.7,320.5 1662.6,331.8 1677.5,333.4" fill="none" stroke="#f00" stroke-width="1.4" stroke-linejoin="round"/>
<polygon points="1334.1,333.4 1349,332 1363.9,332.4 1378.9,336.2 1393.8,339.1 1408.7,341.4 1423.7,339.5 1438.6,341.8 1453.5,343.9 1468.5,341.2 1483.4,340.8 1498.3,342.8 1513.3,344.5 1528.2,344.5 1543.1,337.6 1558.1,340.8 1573,341.2 1587.9,335.1 1602.9,332 1617.8,327.6 1632.7,333.9 1647.7,336 1662.6,333.9 1677.5,336.6 1677.5,365.8 1662.6,366.9 1647.7,363.7 1632.7,362.1 1617.8,365.8 1602.9,363.7 1587.9,362.3 1573,357.5 1558.1,359.1 1543.1,360.6 1528.2,361 1513.3,362.7 1498.3,364.1 1483.4,368.5 1468.5,368.3 1453.5,372.7 1438.6,372.7 1423.7,368.3 1408.7,368.9 1393.8,370.4 1378.9,369.6 1363.9,368.5 1349,369.4 1334.1,367.9" fill="#000" fill-opacity="0.2"/>
<polyline points="1334.1,350.8 1349,350.6 1363.9,349.7 1378.9,352.2 1393.8,354.7 1408.7,355.4 1423.7,353.7 1438.6,356.8 1453.5,357.5 1468.5,354.7 1483.4,354.7 1498.3,353.3 1513.3,353.7 1528.2,352.9 1543.1,349.3 1558.1,350.1 1573,350.6 1587.9,348.5 1602.9,347.4 1617.8,346.4 1632.7,348.1 1647.7,349.5 1662.6,350.1 1677.5,353.3" fill="none" stroke="#000" stroke-width="1.4" stroke-linejoin="round"/>
</g>
<rect x="1334.1" y="235.5" width="343.5" height="154.8" fill="none" stroke="#000" stroke-width="0.9"/>
<path d="M1334.1,390.3v2.6M1349,390.3v1.3M1363.9,390.3v2.6M1378.9,390.3v1.3M1393.8,390.3v2.6M1408.7,390.3v1.3M1423.7,390.3v2.6M1438.6,390.3v1.3M1453.5,390.3v2.6M1468.5,390.3v1.3M1483.4,390.3v2.6M1498.3,390.3v1.3M1513.3,390.3v2.6M1528.2,390.3v1.3M1543.1,390.3v2.6M1558.1,390.3v1.3M1573,390.3v2.6M1587.9,390.3v1.3M1602.9,390.3v2.6M1617.8,390.3v1.3M1632.7,390.3v2.6M1647.7,390.3v1.3M1662.6,390.3v2.6M1677.5,390.3v1.3M1334.1,390.3h-2.6M1334.1,346.1h-2.6M1334.1,301.8h-2.6M1334.1,257.6h-2.6M1677.5,390.3h2.6M1677.5,351.6h2.6M1677.5,312.9h2.6M1677.5,274.2h2.6M1677.5,235.5h2.6" stroke="#000" stroke-width="0.9" fill="none"/>
<g class="b" font-size="14.8">
<text transform="translate(1334.06,405.48) rotate(0.03)" text-anchor="middle">0</text>
<text transform="translate(1363.93,405.48) rotate(0.03)" text-anchor="middle">2</text>
<text transform="translate(1393.8,405.48) rotate(0.03)" text-anchor="middle">4</text>
<text transform="translate(1423.66,405.48) rotate(0.03)" text-anchor="middle">6</text>
<text transform="translate(1453.53,405.48) rotate(0.03)" text-anchor="middle">8</text>
<text transform="translate(1483.4,405.48) rotate(0.03)" text-anchor="middle">10</text>
<text transform="translate(1513.27,405.48) rotate(0.03)" text-anchor="middle">12</text>
<text transform="translate(1543.13,405.48) rotate(0.03)" text-anchor="middle">14</text>
<text transform="translate(1573,405.48) rotate(0.03)" text-anchor="middle">16</text>
<text transform="translate(1602.87,405.48) rotate(0.03)" text-anchor="middle">18</text>
<text transform="translate(1632.74,405.48) rotate(0.03)" text-anchor="middle">20</text>
<text transform="translate(1662.61,405.48) rotate(0.03)" text-anchor="middle">22</text>
<text transform="translate(1329.66,395.48) rotate(0.03)" text-anchor="end" fill="#f00">0</text>
<text transform="translate(1329.66,351.26) rotate(0.03)" text-anchor="end" fill="#f00">1</text>
<text transform="translate(1329.66,307.05) rotate(0.03)" text-anchor="end" fill="#f00">2</text>
<text transform="translate(1329.66,262.83) rotate(0.03)" text-anchor="end" fill="#f00">3</text>
<text transform="translate(1682.34,395.48) rotate(0.03)" text-anchor="start">0</text>
<text transform="translate(1682.34,356.79) rotate(0.03)" text-anchor="start">50</text>
<text transform="translate(1682.34,318.1) rotate(0.03)" text-anchor="start">100</text>
<text transform="translate(1682.34,279.41) rotate(0.03)" text-anchor="start">150</text>
<text transform="translate(1682.34,240.72) rotate(0.03)" text-anchor="start">200</text>
<text transform="translate(1505.8,420.58) rotate(0.03)" text-anchor="middle">Hour of the day</text>
<text transform="translate(1505.8,232.32) rotate(0.03)" text-anchor="middle" font-size="14.8">Wuhan (spring)</text>
<text transform="translate(1316.5,312.7) rotate(-90)" text-anchor="middle" fill="#f00" font-size="14.65">Air Toxic Index (ATI)</text>
<text transform="translate(1720.1,312.8) rotate(-90)" text-anchor="middle" font-size="14.65">Air Quality Index (AQI)</text>
<text transform="translate(1304.1,226.28) rotate(0.03)" text-anchor="start" font-size="12.7" class="db">(h)</text>
</g>
<clipPath id="ci"><rect x="35.7" y="450.6" width="343.5" height="154.8"/></clipPath>
<g clip-path="url(#ci)">
<polygon points="35.7,497.8 50.6,513.7 65.5,512.6 80.5,522 95.4,520.3 110.3,526 125.3,524.5 140.2,519.9 155.1,519.3 170.1,519.9 185,528.7 199.9,533.3 214.9,538.5 229.8,529.7 244.7,528.1 259.7,525.1 274.6,532.2 289.5,538.5 304.5,511.4 319.4,519.3 334.3,526 349.3,519.9 364.2,493.6 379.1,487.3 379.1,581.9 364.2,577.8 349.3,581.9 334.3,577.1 319.4,583.4 304.5,592 289.5,575.7 274.6,575.7 259.7,578.2 244.7,575 229.8,576.3 214.9,571.5 199.9,573 185,575.7 170.1,579.4 155.1,578.8 140.2,578.4 125.3,578.8 110.3,582.6 95.4,580.3 80.5,577.8 65.5,578.2 50.6,581.5 35.7,580.9" fill="#f00" fill-opacity="0.4"/>
<polyline points="35.7,539.1 50.6,547.7 65.5,545.4 80.5,550.2 95.4,550 110.3,554.2 125.3,551.7 140.2,549.6 155.1,549.2 170.1,549.6 185,552.1 199.9,553.1 214.9,555 229.8,552.9 244.7,551.4 259.7,552.1 274.6,553.7 289.5,557.3 304.5,551.2 319.4,551.7 334.3,551.7 349.3,551 364.2,535.6 379.1,534.5" fill="none" stroke="#f00" stroke-width="1.4" stroke-linejoin="round"/>
<polygon points="35.7,542.3 50.6,542.3 65.5,542.3 80.5,543.7 95.4,545.4 110.3,547.9 125.3,545 140.2,546 155.1,546.4 170.1,548.9 185,548.9 199.9,546.9 214.9,548.9 229.8,552.7 244.7,555.2 259.7,557.3 274.6,555.2 289.5,554.4 304.5,551.2 319.4,547.5 334.3,546.9 349.3,547.1 364.2,547.9 379.1,547.5 379.1,577.1 364.2,575.7 349.3,575.7 334.3,576.3 319.4,576.3 304.5,577.1 289.5,577.1 274.6,578.4 259.7,579.8 244.7,579.8 229.8,580.9 214.9,579.8 199.9,581.9 185,583 170.1,581.3 155.1,580.9 140.2,580.5 125.3,579.8 110.3,579.8 95.4,579.8 80.5,579.2 65.5,578.2 50.6,576.3 35.7,578.4" fill="#000" fill-opacity="0.2"/>
<polyline points="35.7,560.6 50.6,560 65.5,560.6 80.5,562.1 95.4,563.1 110.3,564.6 125.3,562.5 140.2,563.4 155.1,564.2 170.1,565.9 185,565.6 199.9,564.6 214.9,564.6 229.8,566.3 244.7,566.9 259.7,567.9 274.6,567.5 289.5,566.5 304.5,564.8 319.4,562.1 334.3,561.7 349.3,561.3 364.2,561.9 379.1,562.5" fill="none" stroke="#000" stroke-width="1.4" stroke-linejoin="round"/>
</g>
<rect x="35.7" y="450.6" width="343.5" height="154.8" fill="none" stroke="#000" stroke-width="0.9"/>
<path d="M35.7,605.4v2.6M50.6,605.4v1.3M65.5,605.4v2.6M80.5,605.4v1.3M95.4,605.4v2.6M110.3,605.4v1.3M125.3,605.4v2.6M140.2,605.4v1.3M155.1,605.4v2.6M170.1,605.4v1.3M185,605.4v2.6M199.9,605.4v1.3M214.9,605.4v2.6M229.8,605.4v1.3M244.7,605.4v2.6M259.7,605.4v1.3M274.6,605.4v2.6M289.5,605.4v1.3M304.5,605.4v2.6M319.4,605.4v1.3M334.3,605.4v2.6M349.3,605.4v1.3M364.2,605.4v2.6M379.1,605.4v1.3M35.7,605.4h-2.6M35.7,561.1h-2.6M35.7,516.9h-2.6M35.7,472.7h-2.6M379.1,605.4h2.6M379.1,566.7h2.6M379.1,528h2.6M379.1,489.3h2.6M379.1,450.6h2.6" stroke="#000" stroke-width="0.9" fill="none"/>
<g class="b" font-size="14.8">
<text transform="translate(35.66,620.56) rotate(0.03)" text-anchor="middle">0</text>
<text transform="translate(65.53,620.56) rotate(0.03)" text-anchor="middle">2</text>
<text transform="translate(95.4,620.56) rotate(0.03)" text-anchor="middle">4</text>
<text transform="translate(125.26,620.56) rotate(0.03)" text-anchor="middle">6</text>
<text transform="translate(155.13,620.56) rotate(0.03)" text-anchor="middle">8</text>
<text transform="translate(185,620.56) rotate(0.03)" text-anchor="middle">10</text>
<text transform="translate(214.87,620.56) rotate(0.03)" text-anchor="middle">12</text>
<text transform="translate(244.73,620.56) rotate(0.03)" text-anchor="middle">14</text>
<text transform="translate(274.6,620.56) rotate(0.03)" text-anchor="middle">16</text>
<text transform="translate(304.47,620.56) rotate(0.03)" text-anchor="middle">18</text>
<text transform="translate(334.34,620.56) rotate(0.03)" text-anchor="middle">20</text>
<text transform="translate(364.21,620.56) rotate(0.03)" text-anchor="middle">22</text>
<text transform="translate(31.26,610.56) rotate(0.03)" text-anchor="end" fill="#f00">0</text>
<text transform="translate(31.26,566.34) rotate(0.03)" text-anchor="end" fill="#f00">1</text>
<text transform="translate(31.26,522.13) rotate(0.03)" text-anchor="end" fill="#f00">2</text>
<text transform="translate(31.26,477.91) rotate(0.03)" text-anchor="end" fill="#f00">3</text>
<text transform="translate(383.94,610.56) rotate(0.03)" text-anchor="start">0</text>
<text transform="translate(383.94,571.87) rotate(0.03)" text-anchor="start">50</text>
<text transform="translate(383.94,533.18) rotate(0.03)" text-anchor="start">100</text>
<text transform="translate(383.94,494.49) rotate(0.03)" text-anchor="start">150</text>
<text transform="translate(383.94,455.8) rotate(0.03)" text-anchor="start">200</text>
<text transform="translate(207.4,635.66) rotate(0.03)" text-anchor="middle">Hour of the day</text>
<text transform="translate(207.4,447.4) rotate(0.03)" text-anchor="middle" font-size="14.8">Changsha (spring)</text>
<text transform="translate(18.1,527.8) rotate(-90)" text-anchor="middle" fill="#f00" font-size="14.65">Air Toxic Index (ATI)</text>
<text transform="translate(421.7,527.9) rotate(-90)" text-anchor="middle" font-size="14.65">Air Quality Index (AQI)</text>
<text transform="translate(5.7,441.36) rotate(0.03)" text-anchor="start" font-size="12.7" class="db">(i)</text>
</g>
<clipPath id="cj"><rect x="468.5" y="450.6" width="343.5" height="154.8"/></clipPath>
<g clip-path="url(#cj)">
<polygon points="468.5,522.4 483.4,530.4 498.3,524.1 513.3,526.6 528.2,528.3 543.1,540.8 558.1,543.9 573,543.7 587.9,537 602.9,526.6 617.8,477.9 632.7,506.8 647.7,510.3 662.6,505.7 677.5,497.8 692.5,490.1 707.4,503.2 722.3,510.9 737.3,510.9 752.2,518.7 767.1,515.7 782.1,512.6 797,523.5 811.9,518.9 811.9,589.2 797,586.5 782.1,577.1 767.1,579.4 752.2,575 737.3,575 722.3,572.5 707.4,575 692.5,568.4 677.5,564.8 662.6,567.9 647.7,564.2 632.7,563.8 617.8,594.9 602.9,593 587.9,599.3 573,595.9 558.1,596.1 543.1,598.6 528.2,597 513.3,592 498.3,591.3 483.4,590.9 468.5,592" fill="#f00" fill-opacity="0.4"/>
<polyline points="468.5,557.3 483.4,561.1 498.3,557.9 513.3,559.6 528.2,562.7 543.1,569.8 558.1,570 573,570 587.9,568.4 602.9,559.6 617.8,536.2 632.7,535.4 647.7,536.6 662.6,536.4 677.5,530.8 692.5,529.1 707.4,539.1 722.3,541.8 737.3,543.1 752.2,546.6 767.1,547.5 782.1,544.8 797,555 811.9,554.2" fill="none" stroke="#f00" stroke-width="1.4" stroke-linejoin="round"/>
<polygon points="468.5,536 483.4,535 498.3,533.9 513.3,531.8 528.2,532.4 543.1,532.4 558.1,533.3 573,530.1 587.9,529.1 602.9,529.7 617.8,533.3 632.7,534.3 647.7,531.8 662.6,533.9 677.5,532.2 692.5,531.8 707.4,531.8 722.3,534.3 737.3,537 752.2,539.5 767.1,539.1 782.1,536.4 797,534.3 811.9,535.4 811.9,573.2 797,571.9 782.1,570.5 767.1,572.5 752.2,575 737.3,575.7 722.3,573.2 707.4,576.3 692.5,579.8 677.5,579.8 662.6,578.2 647.7,576.1 632.7,575 617.8,575 602.9,572.5 587.9,569.8 573,573.6 558.1,577.8 543.1,574.6 528.2,577.8 513.3,575 498.3,576.1 483.4,576.1 468.5,576.3" fill="#000" fill-opacity="0.2"/>
<polyline points="468.5,556 483.4,555.4 498.3,554.8 513.3,553.3 528.2,555.2 543.1,553.5 558.1,555.4 573,551.7 587.9,549.4 602.9,551 617.8,554 632.7,554.6 647.7,553.7 662.6,556 677.5,555.4 692.5,555.8 707.4,554 722.3,553.3 737.3,554.4 752.2,556.5 767.1,555.8 782.1,553.5 797,553.3 811.9,554.2" fill="none" stroke="#000" stroke-width="1.4" stroke-linejoin="round"/>
</g>
<rect x="468.5" y="450.6" width="343.5" height="154.8" fill="none" stroke="#000" stroke-width="0.9"/>
<path d="M468.5,605.4v2.6M483.4,605.4v1.3M498.3,605.4v2.6M513.3,605.4v1.3M528.2,605.4v2.6M543.1,605.4v1.3M558.1,605.4v2.6M573,605.4v1.3M587.9,605.4v2.6M602.9,605.4v1.3M617.8,605.4v2.6M632.7,605.4v1.3M647.7,605.4v2.6M662.6,605.4v1.3M677.5,605.4v2.6M692.5,605.4v1.3M707.4,605.4v2.6M722.3,605.4v1.3M737.3,605.4v2.6M752.2,605.4v1.3M767.1,605.4v2.6M782.1,605.4v1.3M797,605.4v2.6M811.9,605.4v1.3M468.5,605.4h-2.6M468.5,561.1h-2.6M468.5,516.9h-2.6M468.5,472.7h-2.6M811.9,605.4h2.6M811.9,566.7h2.6M811.9,528h2.6M811.9,489.3h2.6M811.9,450.6h2.6" stroke="#000" stroke-width="0.9" fill="none"/>
<g class="b" font-size="14.8">
<text transform="translate(468.46,620.56) rotate(0.03)" text-anchor="middle">0</text>
<text transform="translate(498.33,620.56) rotate(0.03)" text-anchor="middle">2</text>
<text transform="translate(528.2,620.56) rotate(0.03)" text-anchor="middle">4</text>
<text transform="translate(558.06,620.56) rotate(0.03)" text-anchor="middle">6</text>
<text transform="translate(587.93,620.56) rotate(0.03)" text-anchor="middle">8</text>
<text transform="translate(617.8,620.56) rotate(0.03)" text-anchor="middle">10</text>
<text transform="translate(647.67,620.56) rotate(0.03)" text-anchor="middle">12</text>
<text transform="translate(677.53,620.56) rotate(0.03)" text-anchor="middle">14</text>
<text transform="translate(707.4,620.56) rotate(0.03)" text-anchor="middle">16</text>
<text transform="translate(737.27,620.56) rotate(0.03)" text-anchor="middle">18</text>
<text transform="translate(767.14,620.56) rotate(0.03)" text-anchor="middle">20</text>
<text transform="translate(797.01,620.56) rotate(0.03)" text-anchor="middle">22</text>
<text transform="translate(464.06,610.56) rotate(0.03)" text-anchor="end" fill="#f00">0</text>
<text transform="translate(464.06,566.34) rotate(0.03)" text-anchor="end" fill="#f00">1</text>
<text transform="translate(464.06,522.13) rotate(0.03)" text-anchor="end" fill="#f00">2</text>
<text transform="translate(464.06,477.91) rotate(0.03)" text-anchor="end" fill="#f00">3</text>
<text transform="translate(816.74,610.56) rotate(0.03)" text-anchor="start">0</text>
<text transform="translate(816.74,571.87) rotate(0.03)" text-anchor="start">50</text>
<text transform="translate(816.74,533.18) rotate(0.03)" text-anchor="start">100</text>
<text transform="translate(816.74,494.49) rotate(0.03)" text-anchor="start">150</text>
<text transform="translate(816.74,455.8) rotate(0.03)" text-anchor="start">200</text>
<text transform="translate(640.2,635.66) rotate(0.03)" text-anchor="middle">Hour of the day</text>
<text transform="translate(640.2,447.4) rotate(0.03)" text-anchor="middle" font-size="14.8">Nanjing (spring)</text>
<text transform="translate(450.9,527.8) rotate(-90)" text-anchor="middle" fill="#f00" font-size="14.65">Air Toxic Index (ATI)</text>
<text transform="translate(854.5,527.9) rotate(-90)" text-anchor="middle" font-size="14.65">Air Quality Index (AQI)</text>
<text transform="translate(438.5,441.36) rotate(0.03)" text-anchor="start" font-size="12.7" class="db">(j)</text>
</g>
<clipPath id="ck"><rect x="901.3" y="450.6" width="343.5" height="154.8"/></clipPath>
<g clip-path="url(#ck)">
<polygon points="901.3,512.4 916.2,509.5 931.1,510.3 946.1,515.1 961,518.2 975.9,515.5 990.9,520.8 1005.8,524.9 1020.7,526.6 1035.7,527.2 1050.6,519.3 1065.5,518.2 1080.5,516.2 1095.4,519.7 1110.3,519.9 1125.3,515.1 1140.2,507.4 1155.1,518.2 1170.1,522.8 1185,523 1199.9,524.9 1214.9,518.7 1229.8,507.8 1244.7,512.6 1244.7,572.5 1229.8,576.7 1214.9,573.6 1199.9,578.8 1185,578.2 1170.1,576.3 1155.1,571.5 1140.2,576.3 1125.3,571.1 1110.3,576.1 1095.4,576.7 1080.5,578.2 1065.5,576.7 1050.6,583.4 1035.7,592 1020.7,595.5 1005.8,595.5 990.9,594.5 975.9,592.4 961,588.6 946.1,583 931.1,585.1 916.2,584 901.3,577.3" fill="#f00" fill-opacity="0.4"/>
<polyline points="901.3,544.8 916.2,546.4 931.1,547.5 946.1,548.9 961,553.1 975.9,554 990.9,557.5 1005.8,560 1020.7,561.3 1035.7,559.6 1050.6,551.2 1065.5,547.5 1080.5,547.1 1095.4,548.1 1110.3,547.9 1125.3,542.9 1140.2,541.6 1155.1,545 1170.1,549.2 1185,550.6 1199.9,552.1 1214.9,546 1229.8,542.1 1244.7,542.5" fill="none" stroke="#f00" stroke-width="1.4" stroke-linejoin="round"/>
<polygon points="901.3,544.3 916.2,545 931.1,546.4 946.1,546 961,545 975.9,546.4 990.9,546.9 1005.8,547.9 1020.7,547.5 1035.7,546.4 1050.6,547.9 1065.5,546 1080.5,546.4 1095.4,543.3 1110.3,535.4 1125.3,535 1140.2,535.4 1155.1,539.1 1170.1,542.9 1185,546 1199.9,542.7 1214.9,543.9 1229.8,544.8 1244.7,543.7 1244.7,577.8 1229.8,577.8 1214.9,578.4 1199.9,579.8 1185,578.4 1170.1,578.8 1155.1,577.8 1140.2,578.8 1125.3,579.8 1110.3,580.9 1095.4,582.6 1080.5,583 1065.5,584 1050.6,584 1035.7,584.6 1020.7,584.6 1005.8,583.6 990.9,582.4 975.9,580.9 961,580.9 946.1,579.2 931.1,578.8 916.2,577.3 901.3,577.1" fill="#000" fill-opacity="0.2"/>
<polyline points="901.3,561.1 916.2,561.1 931.1,562.5 946.1,562.7 961,563.1 975.9,563.6 990.9,564.6 1005.8,565.9 1020.7,565.9 1035.7,565.6 1050.6,565.6 1065.5,564.6 1080.5,564.6 1095.4,563.1 1110.3,558.5 1125.3,557.5 1140.2,557.3 1155.1,559 1170.1,561.1 1185,562.3 1199.9,561.5 1214.9,561.3 1229.8,561.3 1244.7,560.6" fill="none" stroke="#000" stroke-width="1.4" stroke-linejoin="round"/>
</g>
<rect x="901.3" y="450.6" width="343.5" height="154.8" fill="none" stroke="#000" stroke-width="0.9"/>
<path d="M901.3,605.4v2.6M916.2,605.4v1.3M931.1,605.4v2.6M946.1,605.4v1.3M961,605.4v2.6M975.9,605.4v1.3M990.9,605.4v2.6M1005.8,605.4v1.3M1020.7,605.4v2.6M1035.7,605.4v1.3M1050.6,605.4v2.6M1065.5,605.4v1.3M1080.5,605.4v2.6M1095.4,605.4v1.3M1110.3,605.4v2.6M1125.3,605.4v1.3M1140.2,605.4v2.6M1155.1,605.4v1.3M1170.1,605.4v2.6M1185,605.4v1.3M1199.9,605.4v2.6M1214.9,605.4v1.3M1229.8,605.4v2.6M1244.7,605.4v1.3M901.3,605.4h-2.6M901.3,561.1h-2.6M901.3,516.9h-2.6M901.3,472.7h-2.6M1244.7,605.4h2.6M1244.7,566.7h2.6M1244.7,528h2.6M1244.7,489.3h2.6M1244.7,450.6h2.6" stroke="#000" stroke-width="0.9" fill="none"/>
<g class="b" font-size="14.8">
<text transform="translate(901.26,620.56) rotate(0.03)" text-anchor="middle">0</text>
<text transform="translate(931.13,620.56) rotate(0.03)" text-anchor="middle">2</text>
<text transform="translate(961,620.56) rotate(0.03)" text-anchor="middle">4</text>
<text transform="translate(990.86,620.56) rotate(0.03)" text-anchor="middle">6</text>
<text transform="translate(1020.73,620.56) rotate(0.03)" text-anchor="middle">8</text>
<text transform="translate(1050.6,620.56) rotate(0.03)" text-anchor="middle">10</text>
<text transform="translate(1080.47,620.56) rotate(0.03)" text-anchor="middle">12</text>
<text transform="translate(1110.33,620.56) rotate(0.03)" text-anchor="middle">14</text>
<text transform="translate(1140.2,620.56) rotate(0.03)" text-anchor="middle">16</text>
<text transform="translate(1170.07,620.56) rotate(0.03)" text-anchor="middle">18</text>
<text transform="translate(1199.94,620.56) rotate(0.03)" text-anchor="middle">20</text>
<text transform="translate(1229.81,620.56) rotate(0.03)" text-anchor="middle">22</text>
<text transform="translate(896.86,610.56) rotate(0.03)" text-anchor="end" fill="#f00">0</text>
<text transform="translate(896.86,566.34) rotate(0.03)" text-anchor="end" fill="#f00">1</text>
<text transform="translate(896.86,522.13) rotate(0.03)" text-anchor="end" fill="#f00">2</text>
<text transform="translate(896.86,477.91) rotate(0.03)" text-anchor="end" fill="#f00">3</text>
<text transform="translate(1249.54,610.56) rotate(0.03)" text-anchor="start">0</text>
<text transform="translate(1249.54,571.87) rotate(0.03)" text-anchor="start">50</text>
<text transform="translate(1249.54,533.18) rotate(0.03)" text-anchor="start">100</text>
<text transform="translate(1249.54,494.49) rotate(0.03)" text-anchor="start">150</text>
<text transform="translate(1249.54,455.8) rotate(0.03)" text-anchor="start">200</text>
<text transform="translate(1073,635.66) rotate(0.03)" text-anchor="middle">Hour of the day</text>
<text transform="translate(1073,447.4) rotate(0.03)" text-anchor="middle" font-size="14.8">Hangzhou (spring)</text>
<text transform="translate(883.7,527.8) rotate(-90)" text-anchor="middle" fill="#f00" font-size="14.65">Air Toxic Index (ATI)</text>
<text transform="translate(1287.3,527.9) rotate(-90)" text-anchor="middle" font-size="14.65">Air Quality Index (AQI)</text>
<text transform="translate(871.3,441.36) rotate(0.03)" text-anchor="start" font-size="12.7" class="db">(k)</text>
</g>
<clipPath id="cl"><rect x="1334.1" y="450.6" width="343.5" height="154.8"/></clipPath>
<g clip-path="url(#cl)">
<polygon points="1334.1,516.8 1349,518.9 1363.9,520.8 1378.9,528.7 1393.8,536.6 1408.7,540.8 1423.7,541.6 1438.6,541.2 1453.5,542.3 1468.5,538.1 1483.4,533.3 1498.3,528.7 1513.3,514.1 1528.2,495.3 1543.1,499 1558.1,495.9 1573,494.9 1587.9,488 1602.9,489.4 1617.8,487.5 1632.7,483.8 1647.7,472.7 1662.6,499 1677.5,510.3 1677.5,580.5 1662.6,577.1 1647.7,577.1 1632.7,562.1 1617.8,561.1 1602.9,569.8 1587.9,570 1573,570.9 1558.1,573.2 1543.1,577.3 1528.2,580.5 1513.3,592 1498.3,595.5 1483.4,600.1 1468.5,600.1 1453.5,598.6 1438.6,598.8 1423.7,598.6 1408.7,598 1393.8,597 1378.9,594.9 1363.9,592.4 1349,594 1334.1,589.2" fill="#f00" fill-opacity="0.4"/>
<polyline points="1334.1,552.7 1349,556.3 1363.9,556 1378.9,562.1 1393.8,567.1 1408.7,569.4 1423.7,569.4 1438.6,570 1453.5,570.5 1468.5,569 1483.4,566.7 1498.3,562.1 1513.3,553.1 1528.2,537.7 1543.1,538.1 1558.1,534.5 1573,532.9 1587.9,529.1 1602.9,529.7 1617.8,523.5 1632.7,523 1647.7,524.7 1662.6,538.1 1677.5,545.4" fill="none" stroke="#f00" stroke-width="1.4" stroke-linejoin="round"/>
<polygon points="1334.1,543.3 1349,543.9 1363.9,542.9 1378.9,541.6 1393.8,541.2 1408.7,541.2 1423.7,537 1438.6,540.8 1453.5,541.6 1468.5,539.8 1483.4,541.6 1498.3,546.9 1513.3,549.6 1528.2,546 1543.1,541.6 1558.1,539.1 1573,540.2 1587.9,539.1 1602.9,542.3 1617.8,545.4 1632.7,544.3 1647.7,543.7 1662.6,541.2 1677.5,541.8 1677.5,580.5 1662.6,577.8 1647.7,575 1632.7,574.6 1617.8,576.3 1602.9,575 1587.9,571.5 1573,571.5 1558.1,574.6 1543.1,578.2 1528.2,580.5 1513.3,580.9 1498.3,580.5 1483.4,583.6 1468.5,583 1453.5,583.4 1438.6,583.6 1423.7,584.6 1408.7,585.5 1393.8,586.5 1378.9,584.6 1363.9,584.4 1349,583 1334.1,581.5" fill="#000" fill-opacity="0.2"/>
<polyline points="1334.1,562.3 1349,563.4 1363.9,563.8 1378.9,563.1 1393.8,563.8 1408.7,563.6 1423.7,560.6 1438.6,561.9 1453.5,561.7 1468.5,561.1 1483.4,562.5 1498.3,563.6 1513.3,565.2 1528.2,563.1 1543.1,560 1558.1,557.3 1573,555.8 1587.9,555.2 1602.9,558.5 1617.8,560.6 1632.7,559.4 1647.7,559.6 1662.6,560 1677.5,561.3" fill="none" stroke="#000" stroke-width="1.4" stroke-linejoin="round"/>
</g>
<rect x="1334.1" y="450.6" width="343.5" height="154.8" fill="none" stroke="#000" stroke-width="0.9"/>
<path d="M1334.1,605.4v2.6M1349,605.4v1.3M1363.9,605.4v2.6M1378.9,605.4v1.3M1393.8,605.4v2.6M1408.7,605.4v1.3M1423.7,605.4v2.6M1438.6,605.4v1.3M1453.5,605.4v2.6M1468.5,605.4v1.3M1483.4,605.4v2.6M1498.3,605.4v1.3M1513.3,605.4v2.6M1528.2,605.4v1.3M1543.1,605.4v2.6M1558.1,605.4v1.3M1573,605.4v2.6M1587.9,605.4v1.3M1602.9,605.4v2.6M1617.8,605.4v1.3M1632.7,605.4v2.6M1647.7,605.4v1.3M1662.6,605.4v2.6M1677.5,605.4v1.3M1334.1,605.4h-2.6M1334.1,561.1h-2.6M1334.1,516.9h-2.6M1334.1,472.7h-2.6M1677.5,605.4h2.6M1677.5,566.7h2.6M1677.5,528h2.6M1677.5,489.3h2.6M1677.5,450.6h2.6" stroke="#000" stroke-width="0.9" fill="none"/>
<g class="b" font-size="14.8">
<text transform="translate(1334.06,620.56) rotate(0.03)" text-anchor="middle">0</text>
<text transform="translate(1363.93,620.56) rotate(0.03)" text-anchor="middle">2</text>
<text transform="translate(1393.8,620.56) rotate(0.03)" text-anchor="middle">4</text>
<text transform="translate(1423.66,620.56) rotate(0.03)" text-anchor="middle">6</text>
<text transform="translate(1453.53,620.56) rotate(0.03)" text-anchor="middle">8</text>
<text transform="translate(1483.4,620.56) rotate(0.03)" text-anchor="middle">10</text>
<text transform="translate(1513.27,620.56) rotate(0.03)" text-anchor="middle">12</text>
<text transform="translate(1543.13,620.56) rotate(0.03)" text-anchor="middle">14</text>
<text transform="translate(1573,620.56) rotate(0.03)" text-anchor="middle">16</text>
<text transform="translate(1602.87,620.56) rotate(0.03)" text-anchor="middle">18</text>
<text transform="translate(1632.74,620.56) rotate(0.03)" text-anchor="middle">20</text>
<text transform="translate(1662.61,620.56) rotate(0.03)" text-anchor="middle">22</text>
<text transform="translate(1329.66,610.56) rotate(0.03)" text-anchor="end" fill="#f00">0</text>
<text transform="translate(1329.66,566.34) rotate(0.03)" text-anchor="end" fill="#f00">1</text>
<text transform="translate(1329.66,522.13) rotate(0.03)" text-anchor="end" fill="#f00">2</text>
<text transform="translate(1329.66,477.91) rotate(0.03)" text-anchor="end" fill="#f00">3</text>
<text transform="translate(1682.34,610.56) rotate(0.03)" text-anchor="start">0</text>
<text transform="translate(1682.34,571.87) rotate(0.03)" text-anchor="start">50</text>
<text transform="translate(1682.34,533.18) rotate(0.03)" text-anchor="start">100</text>
<text transform="translate(1682.34,494.49) rotate(0.03)" text-anchor="start">150</text>
<text transform="translate(1682.34,455.8) rotate(0.03)" text-anchor="start">200</text>
<text transform="translate(1505.8,635.66) rotate(0.03)" text-anchor="middle">Hour of the day</text>
<text transform="translate(1505.8,447.4) rotate(0.03)" text-anchor="middle" font-size="14.8">Chengdu (spring)</text>
<text transform="translate(1316.5,527.8) rotate(-90)" text-anchor="middle" fill="#f00" font-size="14.65">Air Toxic Index (ATI)</text>
<text transform="translate(1720.1,527.9) rotate(-90)" text-anchor="middle" font-size="14.65">Air Quality Index (AQI)</text>
<text transform="translate(1304.1,441.36) rotate(0.03)" text-anchor="start" font-size="12.7" class="db">(l)</text>
</g>
<clipPath id="cm"><rect x="35.7" y="665.7" width="343.5" height="154.8"/></clipPath>
<g clip-path="url(#cm)">
<polygon points="35.7,707.2 50.6,718.3 65.5,711.4 80.5,721.2 95.4,726 110.3,742.7 125.3,743.1 140.2,754.6 155.1,752.7 170.1,753.2 185,751.1 199.9,742.7 214.9,741.1 229.8,735 244.7,731.2 259.7,712.4 274.6,714.9 289.5,719.3 304.5,709.9 319.4,717 334.3,713.1 349.3,705.8 364.2,712.4 379.1,709.7 379.1,795.6 364.2,796 349.3,794.9 334.3,794.9 319.4,794.9 304.5,799.7 289.5,799.5 274.6,797 259.7,799.7 244.7,802.9 229.8,804.3 214.9,803.9 199.9,809.8 185,810 170.1,809.5 155.1,808.5 140.2,807.5 125.3,809.1 110.3,806.8 95.4,803.7 80.5,811 65.5,805.4 50.6,802.2 35.7,798.1" fill="#f00" fill-opacity="0.4"/>
<polyline points="35.7,752.5 50.6,760.5 65.5,758 80.5,766.1 95.4,764.6 110.3,774.7 125.3,776.1 140.2,780.9 155.1,780.7 170.1,781.4 185,780.3 199.9,776.1 214.9,772.4 229.8,769.9 244.7,767.2 259.7,756.3 274.6,755.9 289.5,759.4 304.5,754.8 319.4,756.3 334.3,752.5 349.3,750.4 364.2,751.5 379.1,752.3" fill="none" stroke="#f00" stroke-width="1.4" stroke-linejoin="round"/>
<polygon points="35.7,773.6 50.6,771.3 65.5,767.4 80.5,769.9 95.4,769.5 110.3,770.9 125.3,766.7 140.2,769.9 155.1,766.7 170.1,764.6 185,767.4 199.9,772 214.9,776.1 229.8,778.8 244.7,778.8 259.7,779.9 274.6,780.3 289.5,779.3 304.5,779.9 319.4,778.8 334.3,777.2 349.3,774.5 364.2,769.9 379.1,770.9 379.1,795.6 364.2,791.4 349.3,794.9 334.3,791.8 319.4,793.9 304.5,793.9 289.5,793.9 274.6,793.9 259.7,794.9 244.7,796 229.8,796 214.9,797 199.9,798.1 185,799.7 170.1,797 155.1,798.1 140.2,798.1 125.3,798.7 110.3,798.1 95.4,798.1 80.5,798.7 65.5,800.8 50.6,797.4 35.7,797" fill="#000" fill-opacity="0.2"/>
<polyline points="35.7,785.3 50.6,783.9 65.5,783.9 80.5,784.5 95.4,783.9 110.3,784.5 125.3,783 140.2,784.3 155.1,782.4 170.1,780.7 185,783 199.9,785.1 214.9,786.2 229.8,787.2 244.7,787 259.7,787 274.6,787 289.5,786.6 304.5,786.4 319.4,786.4 334.3,786.2 349.3,785.1 364.2,783.2 379.1,783.7" fill="none" stroke="#000" stroke-width="1.4" stroke-linejoin="round"/>
</g>
<rect x="35.7" y="665.7" width="343.5" height="154.8" fill="none" stroke="#000" stroke-width="0.9"/>
<path d="M35.7,820.4v2.6M50.6,820.4v1.3M65.5,820.4v2.6M80.5,820.4v1.3M95.4,820.4v2.6M110.3,820.4v1.3M125.3,820.4v2.6M140.2,820.4v1.3M155.1,820.4v2.6M170.1,820.4v1.3M185,820.4v2.6M199.9,820.4v1.3M214.9,820.4v2.6M229.8,820.4v1.3M244.7,820.4v2.6M259.7,820.4v1.3M274.6,820.4v2.6M289.5,820.4v1.3M304.5,820.4v2.6M319.4,820.4v1.3M334.3,820.4v2.6M349.3,820.4v1.3M364.2,820.4v2.6M379.1,820.4v1.3M35.7,820.4h-2.6M35.7,776.2h-2.6M35.7,732h-2.6M35.7,687.8h-2.6M379.1,820.4h2.6M379.1,781.8h2.6M379.1,743.1h2.6M379.1,704.4h2.6M379.1,665.7h2.6" stroke="#000" stroke-width="0.9" fill="none"/>
<g class="b" font-size="14.8">
<text transform="translate(35.66,835.64) rotate(0.03)" text-anchor="middle">0</text>
<text transform="translate(65.53,835.64) rotate(0.03)" text-anchor="middle">2</text>
<text transform="translate(95.4,835.64) rotate(0.03)" text-anchor="middle">4</text>
<text transform="translate(125.26,835.64) rotate(0.03)" text-anchor="middle">6</text>
<text transform="translate(155.13,835.64) rotate(0.03)" text-anchor="middle">8</text>
<text transform="translate(185,835.64) rotate(0.03)" text-anchor="middle">10</text>
<text transform="translate(214.87,835.64) rotate(0.03)" text-anchor="middle">12</text>
<text transform="translate(244.73,835.64) rotate(0.03)" text-anchor="middle">14</text>
<text transform="translate(274.6,835.64) rotate(0.03)" text-anchor="middle">16</text>
<text transform="translate(304.47,835.64) rotate(0.03)" text-anchor="middle">18</text>
<text transform="translate(334.34,835.64) rotate(0.03)" text-anchor="middle">20</text>
<text transform="translate(364.21,835.64) rotate(0.03)" text-anchor="middle">22</text>
<text transform="translate(31.26,825.64) rotate(0.03)" text-anchor="end" fill="#f00">0</text>
<text transform="translate(31.26,781.42) rotate(0.03)" text-anchor="end" fill="#f00">1</text>
<text transform="translate(31.26,737.21) rotate(0.03)" text-anchor="end" fill="#f00">2</text>
<text transform="translate(31.26,692.99) rotate(0.03)" text-anchor="end" fill="#f00">3</text>
<text transform="translate(383.94,825.64) rotate(0.03)" text-anchor="start">0</text>
<text transform="translate(383.94,786.95) rotate(0.03)" text-anchor="start">50</text>
<text transform="translate(383.94,748.26) rotate(0.03)" text-anchor="start">100</text>
<text transform="translate(383.94,709.57) rotate(0.03)" text-anchor="start">150</text>
<text transform="translate(383.94,670.88) rotate(0.03)" text-anchor="start">200</text>
<text transform="translate(207.4,850.74) rotate(0.03)" text-anchor="middle">Hour of the day</text>
<text transform="translate(207.4,662.48) rotate(0.03)" text-anchor="middle" font-size="14.8">Kunming (spring)</text>
<text transform="translate(18.1,742.9) rotate(-90)" text-anchor="middle" fill="#f00" font-size="14.65">Air Toxic Index (ATI)</text>
<text transform="translate(421.7,743) rotate(-90)" text-anchor="middle" font-size="14.65">Air Quality Index (AQI)</text>
<text transform="translate(5.7,656.44) rotate(0.03)" text-anchor="start" font-size="12.7" class="db">(m)</text>
</g>
<g class="db">
<text x="438.5" y="656.4" font-size="12.7">(n)</text>
<path d="M523.2,677.1H795.7" stroke="#ccc" stroke-width="0.5" stroke-dasharray="0.6,2.6"/>
<path d="M523.2,698.1H795.7" stroke="#ccc" stroke-width="0.5" stroke-dasharray="0.6,2.6"/>
<path d="M523.2,719.1H795.7" stroke="#ccc" stroke-width="0.5" stroke-dasharray="0.6,2.6"/>
<path d="M523.2,740.1H795.7" stroke="#ccc" stroke-width="0.5" stroke-dasharray="0.6,2.6"/>
<path d="M523.2,761.1H795.7" stroke="#ccc" stroke-width="0.5" stroke-dasharray="0.6,2.6"/>
<path d="M523.2,782.1H795.7" stroke="#ccc" stroke-width="0.5" stroke-dasharray="0.6,2.6"/>
<path d="M523.2,803.1H795.7" stroke="#ccc" stroke-width="0.5" stroke-dasharray="0.6,2.6"/>
<path d="M591.2,676.9h0M628.1,670.8h0M636.4,677.1h0M606.1,677.1h0M692.8,677.2h0M619.9,674.2h0M637.2,675.7h0M629.3,680h0M637.2,678.5h0M620.9,678.7h0M617.5,678.3h0M547.6,676.9h0M651.2,677.3h0M629.5,678.5h0M657.9,677h0M622.4,674.5h0M626.9,671.5h0M569.3,677.1h0M552.4,676.9h0M636.5,675.5h0M610.7,675h0M566.1,677.1h0M686.6,677.1h0M623.3,678.5h0M532.6,677.1h0M609.6,679h0M545.1,677.2h0M645.2,675.9h0M618.8,673.1h0M671.7,676.9h0M618.9,677.1h0M644.5,677.1h0" stroke="#008bfb" stroke-width="3.55" stroke-linecap="round" fill="none"/>
<path d="M612.9,677.1h0M616.9,678.8h0M626.7,684.1h0M634.2,675.8h0M615.7,677.1h0M553.5,677.3h0M634,678.4h0M617.5,679.5h0M641.1,675h0M619.3,679.7h0M625.7,678.4h0M622.3,682.2h0M623.8,679.9h0M615.7,674.1h0" stroke="#466ee2" stroke-width="3.55" stroke-linecap="round" fill="none"/>
<path d="M635.4,678.9h0M633.6,681h0M559.3,676.9h0M628.2,683.4h0M643.3,675.5h0M638.5,675.8h0M609.5,677.1h0M613.2,675.8h0M644.2,675.7h0M606.2,678.4h0M636.1,680.3h0M628.4,674.6h0M628,680.9h0M608.6,677.1h0M627.3,678.5h0M638.4,677.1h0M681,677.1h0M624.9,671h0" stroke="#8c50c8" stroke-width="3.55" stroke-linecap="round" fill="none"/>
<path d="M641.6,679h0M618,673.5h0M614.1,679.9h0M689.3,677h0M613.2,678.4h0M615.5,675.6h0M638.4,679.7h0M626.1,673.1h0" stroke="#c6288c" stroke-width="3.55" stroke-linecap="round" fill="none"/>
<path d="M628.2,682.1h0M622.3,678.4h0M603.9,676.3h0M606,675.8h0M599.1,676.9h0M661.2,677.2h0M607.2,677.1h0M636.2,673.9h0M666.1,677.2h0M646.6,677.4h0M590,677.1h0M630.4,673.2h0M638.2,678.4h0M639.3,679.4h0M596.1,677.3h0M634.8,677.1h0M613.5,679.6h0M641.8,677.1h0M697.3,677.2h0M624.7,675.9h0M655.8,677h0M644.5,678.5h0M625.8,682.4h0M669.3,676.9h0M601.4,676.5h0M617.7,677.1h0M630.4,682.3h0M656.7,676.9h0" stroke="#ff0051" stroke-width="3.55" stroke-linecap="round" fill="none"/>
<path d="M623.5,671.5h0M678.6,677.3h0M634,673.2h0M619.9,675.7h0M614.2,677.1h0M632.4,678.5h0M632.4,681.4h0M663.6,677.3h0M619.2,678.4h0M630.7,671.9h0M625.8,670.5h0M698,676.9h0M561.2,676.9h0M622.6,672h0M652.5,676.9h0M607.7,678.6h0M620.4,681.4h0M567.3,677h0M691.5,676.9h0M660.2,676.9h0M694.8,677.3h0M631.7,674h0M616.9,680.4h0M624.4,677.1h0" stroke="#008bfb" stroke-width="3.55" stroke-linecap="round" fill="none"/>
<path d="M634,679.7h0M621.4,680.2h0M632.5,675.7h0M621.5,672.4h0M635,680.6h0M641,677.1h0M623.3,682.7h0M631.6,680.2h0M624.8,680.7h0M668.5,677.1h0M568.1,677.1h0M629.5,682.8h0M627,681.3h0M645.7,678.3h0M637.4,674.2h0M628.2,679.6h0M630.4,679.7h0M630.5,674.5h0" stroke="#466ee2" stroke-width="3.55" stroke-linecap="round" fill="none"/>
<path d="M574.1,677.1h0M614.2,678.5h0M636,678.7h0M625.9,679.7h0M623.3,675.7h0M624.7,682h0M632.5,674.3h0M621.5,677.1h0M622.6,673.3h0M631.9,675.5h0M631.9,681.8h0M608.9,675.4h0M624.6,674.7h0M625.7,681.1h0M617.6,680.7h0M597,677h0M709.7,677.1h0M625.7,677.1h0M626.9,677.1h0M630.6,678.4h0M696.2,677.1h0M627.3,670.1h0M622.6,679.7h0M608.6,678.8h0M611.1,677.1h0M627.9,672.1h0M639.6,677.1h0" stroke="#8c50c8" stroke-width="3.55" stroke-linecap="round" fill="none"/>
<path d="M630.5,681h0M627.8,673.3h0M615.4,678.6h0M620.2,680h0M633.6,677.1h0M585.6,677.3h0M592.4,677.1h0" stroke="#c6288c" stroke-width="3.55" stroke-linecap="round" fill="none"/>
<path d="M645.1,677.1h0M577.8,677.3h0M587,677h0M594.9,676.9h0M674.4,677.2h0M693.9,676.9h0M714.8,677.1h0M631.9,677.1h0M653.4,677h0M702.9,677.1h0M576.1,677.2h0M622.2,675.8h0M688.1,677.2h0M714,677.1h0M632.6,679.9h0M602.6,676.6h0M593.8,677.1h0M625,679.5h0M554.5,677.3h0M621.5,681.8h0M662.5,677.1h0M560.4,677h0M619.9,678.5h0M654.8,677h0" stroke="#ff0051" stroke-width="3.55" stroke-linecap="round" fill="none"/>
<path d="M617.6,674.7h0M682.2,676.9h0M667.1,677.3h0M633,672.8h0M533.4,677.1h0M578.6,677.2h0M609.5,675.2h0M628.3,678.4h0M571.9,677.1h0M620,672.8h0M625,683.2h0M690.5,676.9h0M607.3,675.6h0M659.1,677.1h0M562.7,677.1h0M622.7,680.9h0M623.7,674.3h0M635.3,673.6h0M556.7,676.9h0M548.5,677.1h0M614.5,675.7h0M649.7,677.5h0M621.2,674h0M619.1,674.5h0M642.8,678.7h0M627,682.7h0M631.9,672.4h0M628.1,677.1h0" stroke="#008bfb" stroke-width="3.55" stroke-linecap="round" fill="none"/>
<path d="M638.2,674.5h0M629.3,681.4h0M623.8,681.3h0M610.7,679.2h0M619.3,681.1h0M637.1,677.1h0M630.4,677.1h0M615.3,680.1h0M641.1,679.2h0M624.4,678.3h0M623.9,672.9h0M621.3,675.5h0" stroke="#466ee2" stroke-width="3.55" stroke-linecap="round" fill="none"/>
<path d="M627,679.9h0M629.1,677.1h0M619.3,675.8h0M627,672.9h0M641.7,675.2h0M623.3,677.1h0M675.1,677h0M605.4,677.3h0M612.9,674.6h0M622.6,677.1h0M612.1,679.4h0M616.9,677.1h0M647.4,676.5h0M634.1,674.5h0M572.8,677.2h0" stroke="#8c50c8" stroke-width="3.55" stroke-linecap="round" fill="none"/>
<path d="M642.9,677.1h0M612.4,677.1h0M649,677h0M619.9,677.1h0M635.4,675.3h0M627,674.3h0M617,675.4h0M637.5,680h0M683.1,677h0M625,672.2h0" stroke="#c6288c" stroke-width="3.55" stroke-linecap="round" fill="none"/>
<path d="M627.9,675.8h0M629.5,671.4h0M629.1,675.7h0M616.9,673.8h0M630.4,675.8h0M587.8,677.3h0M629,672.8h0M736.9,677.1h0M629.3,674.2h0M583.1,677h0M588.8,676.9h0M625.7,675.8h0M614.6,674.3h0M617.8,675.9h0M575.5,677.1h0M631.4,678.7h0M627.3,675.7h0M626.1,671.8h0M584.7,676.9h0M611.7,674.8h0M625.6,674.5h0M600.3,677h0M639.7,674.8h0M625.6,683.7h0M563.8,677.1h0M679.8,676.9h0M565.1,677.2h0M624.8,673.5h0M598.3,676.9h0M677.9,677.3h0M676.2,677.1h0M632.7,677.1h0M664.9,677.3h0M580.8,676.9h0" stroke="#ff0051" stroke-width="3.55" stroke-linecap="round" fill="none"/>
<path d="M603.2,697.9h0M561,698.1h0M561.9,698h0M627.7,692.8h0M624.2,700.9h0M627.3,694.1h0M566.7,698.2h0M628.5,696.9h0M635.3,698.1h0M638.1,696.7h0M597.6,697.9h0M568.9,698.3h0M564.4,698.3h0M623.1,693h0M633.2,700.8h0M545.3,698.1h0M612.7,698.1h0M641,696.1h0M622.8,701.9h0M683.6,697.9h0M600.2,698h0M592.1,698.2h0M598.8,698.2h0M557.6,698.1h0M607.7,699.3h0M626.3,700.9h0M571.3,698h0M649.4,698.2h0M548.1,698.2h0M605.5,697.9h0M655.2,698.3h0M625.2,699.3h0M584.7,698.3h0" stroke="#008bfb" stroke-width="3.55" stroke-linecap="round" fill="none"/>
<path d="M632.3,696.6h0M615,699.4h0M639,695.6h0M671.4,698.2h0M619.6,696.8h0M609.3,696.7h0M596.6,697.9h0M624.1,693.9h0M610.3,698.1h0M591,698.2h0M615.8,695.3h0M626.7,694h0M617.5,695h0M630.7,701.8h0M625.1,693.1h0M619.7,699.4h0" stroke="#466ee2" stroke-width="3.55" stroke-linecap="round" fill="none"/>
<path d="M632.2,698.1h0M624.4,696.7h0M631.2,696.9h0M633.6,702.2h0M623.2,699.4h0M625.3,704.3h0M651.9,698.2h0M636.7,696.6h0M648,697.5h0M611.2,696.3h0M640.5,698.1h0M620.7,695.3h0" stroke="#8c50c8" stroke-width="3.55" stroke-linecap="round" fill="none"/>
<path d="M629.5,700.8h0M627.5,702.1h0M631,695.6h0M629.6,695.4h0M620.8,693.9h0" stroke="#c6288c" stroke-width="3.55" stroke-linecap="round" fill="none"/>
<path d="M626.1,695.3h0M673.7,698.2h0M622.7,698.1h0M626.5,699.5h0M539.4,698.1h0M625.2,703.1h0M627.5,699.4h0M663.2,698.1h0M634.6,701.8h0M625.3,695.6h0M656.1,698.2h0M641.4,700.1h0M626.1,705h0M637.6,695.4h0M637.6,700.8h0M628.6,701.7h0M629.9,698.1h0M675,698.2h0M645.8,698.5h0M635.9,696.4h0M686.1,698h0M685.1,698.3h0M620.5,700.9h0M559.5,698.3h0M666.5,698.1h0M675.6,698.3h0M636.8,695.1h0M642.6,698.1h0M623.8,692.4h0" stroke="#ff0051" stroke-width="3.55" stroke-linecap="round" fill="none"/>
<path d="M602.5,697.9h0M624,695.3h0M641.4,698.1h0M642.8,699.8h0M618.5,701.6h0M546.9,698.1h0M626.5,691.2h0M576.1,698.2h0M609,699.5h0M624.1,698.1h0M640.3,695.9h0M633.1,696.7h0M653,698.1h0M607.1,698h0M635.5,701.4h0M610.6,699.7h0M633.3,699.5h0M634.3,695.6h0M612.8,696h0M624.2,702.3h0M629.7,696.7h0M622.1,695h0M623,696.8h0M608,698.1h0M634.2,700.6h0M592.9,697.9h0M551.9,698.1h0M618.1,698.1h0" stroke="#008bfb" stroke-width="3.55" stroke-linecap="round" fill="none"/>
<path d="M621.7,702.8h0M626.5,692.6h0M588.1,698h0M620.8,699.5h0M615.2,696.8h0M628.7,702.9h0M633.2,698.1h0M617,699.7h0M618.6,696.4h0M688.4,698h0M625,701.8h0M627.6,700.8h0M619.8,701.9h0M609.1,698.1h0M616.4,699.5h0M621.9,693.4h0M626.2,703.6h0M680.6,698h0M625.5,696.9h0" stroke="#466ee2" stroke-width="3.55" stroke-linecap="round" fill="none"/>
<path d="M617.5,701.2h0M622.8,694.3h0M617.5,696.5h0M627.8,703.4h0M628.5,693.3h0M616.4,700.9h0M627.8,691.5h0M636.8,698.1h0M627.3,695.4h0M630.7,698.1h0M622.7,700.7h0M619.7,698.1h0M622.9,703.2h0M636.7,699.6h0M639.2,700.6h0" stroke="#8c50c8" stroke-width="3.55" stroke-linecap="round" fill="none"/>
<path d="M580.2,697.9h0M628.7,700.5h0M679.5,698.1h0M576.9,698h0M628.8,699.3h0M619.4,700.7h0" stroke="#c6288c" stroke-width="3.55" stroke-linecap="round" fill="none"/>
<path d="M538.5,698.1h0M624.9,691.9h0M647.3,697.6h0M632.3,693.6h0M611.5,698.1h0M682.8,698.3h0M644.5,696.8h0M552.8,698.1h0M627.5,696.8h0M644.5,699.4h0M630.9,700.6h0M650.8,698.1h0M692.9,698.3h0M668.7,697.9h0M630.2,692.7h0M630.7,694.4h0M642.3,696.4h0M632,702.6h0M639.9,700.3h0M645.1,698.1h0M636.5,701.1h0M677.9,698.3h0M634.2,696.9h0M635.3,694.8h0M628.6,704.1h0M619.2,695.5h0M701.2,698.1h0" stroke="#ff0051" stroke-width="3.55" stroke-linecap="round" fill="none"/>
<path d="M570.1,698h0M614.6,695.5h0M550.3,698.2h0M634.4,698.1h0M614.9,700.7h0M638.8,699.3h0M583.7,698.3h0M628.9,695.7h0M595.6,698h0M581.4,698h0M543.6,698.1h0M555.4,698h0M586,698.3h0M572.2,698.2h0M613.4,700.4h0M627.8,698.1h0M615,698.1h0M629.5,699.5h0M691,698.2h0M626.4,702.2h0M613.7,698.1h0M589.7,698.1h0M587,698h0M563.2,697.9h0M628.8,694.5h0" stroke="#008bfb" stroke-width="3.55" stroke-linecap="round" fill="none"/>
<path d="M619.7,694.3h0M633,695.4h0M631.2,693.2h0M630,694h0M611.7,699.9h0M618.4,699.8h0M617.2,698.1h0M630.7,703h0M665.6,697.9h0M616,698.1h0M624,699.5h0M621.8,698.1h0M691.7,698.3h0M634.7,694.4h0" stroke="#466ee2" stroke-width="3.55" stroke-linecap="round" fill="none"/>
<path d="M664.6,698h0M630,702.2h0M573.5,698h0M639.1,696.9h0M637.9,698.1h0M633.1,694h0M622.9,695.5h0M667.9,698.3h0M638.1,699.5h0M620.8,696.7h0M694.3,698.2h0M558.6,697.9h0M643.4,698.1h0M625.4,700.6h0M577.9,698.3h0" stroke="#8c50c8" stroke-width="3.55" stroke-linecap="round" fill="none"/>
<path d="M625.3,694.4h0M681.7,698.2h0M625,698.1h0M618,694.6h0M626.7,696.7h0M610.5,696.5h0M620.6,698.1h0M622,701.2h0M639,698.1h0M620.8,702.3h0M627.7,704.7h0M628.6,698.1h0" stroke="#c6288c" stroke-width="3.55" stroke-linecap="round" fill="none"/>
<path d="M621.9,696.5h0M658.7,698.1h0M630.8,699.3h0M607.8,696.9h0M661.2,698.3h0M604.7,698.6h0M628.5,692.1h0M657.2,698.1h0M594.2,698h0M632.4,699.6h0M635.9,699.8h0M632,701.1h0M574.8,698.2h0M632,695.1h0M643.6,696.6h0M615.9,696.7h0M630.2,703.5h0M622,699.7h0M643.9,699.6h0M634.2,699.3h0M626.4,698.1h0M579,698.2h0M613.6,695.8h0M612.7,700.2h0M687.2,698.1h0M672.3,698.2h0M661.8,698.1h0M706.3,698.1h0M623.9,703.8h0" stroke="#ff0051" stroke-width="3.55" stroke-linecap="round" fill="none"/>
<path d="M630.7,720.4h0M622.8,721.9h0M605.4,719.1h0M622.3,715h0M610.2,720.4h0M605.1,720.9h0M614.6,719.1h0M651.1,719.4h0M592.8,719.3h0M582.5,718.9h0M621.2,724.2h0M653.6,718.9h0M677.6,719.2h0M643.5,720.9h0M600.5,720.4h0M658.3,718.9h0M606.5,721.1h0M645.6,719.1h0M586.7,719.3h0M670.8,718.9h0M576.5,719.2h0M621.5,715.2h0M645.7,717.7h0M603.4,719.1h0M624.6,714h0M615.4,721.5h0M607.4,721.3h0M628.1,724.1h0M605.2,717.3h0M631.6,714.4h0M668.8,719.3h0M600.6,719.1h0M655.9,719.2h0M595.2,719.4h0M594.1,718.8h0M606.7,717.1h0M621.3,717.8h0" stroke="#008bfb" stroke-width="3.55" stroke-linecap="round" fill="none"/>
<path d="M617.2,719.1h0M623.7,717.6h0M574.3,719h0M627.4,715h0M637.4,720.6h0M602,717.7h0M606.3,719.1h0M616.7,716.5h0M610.2,717.8h0M632.8,722h0M633.1,717.7h0M627.3,720.5h0M635.2,715.5h0M627.6,716.4h0M630.4,719.1h0M616.7,723h0M628.5,714.1h0" stroke="#466ee2" stroke-width="3.55" stroke-linecap="round" fill="none"/>
<path d="M625.2,725.4h0M624,723.5h0M636.2,720.7h0M631,715.2h0M626,721.8h0M611.1,719.1h0M610.2,719.1h0M614.9,722.5h0M640.9,716.9h0M642.3,721.1h0M630.9,713.9h0M679,719.1h0M640.1,716.6h0M612.1,722h0M612.6,720.6h0M633.2,716.2h0M661.5,719.1h0M623.5,714.7h0M615.9,722.7h0" stroke="#8c50c8" stroke-width="3.55" stroke-linecap="round" fill="none"/>
<path d="M627,712.3h0M632.1,723.8h0M621.5,723h0M620.4,723.9h0M626.9,719.1h0M599.7,718.9h0M648.9,718.7h0" stroke="#c6288c" stroke-width="3.55" stroke-linecap="round" fill="none"/>
<path d="M629.3,720.5h0M640,721.6h0M624.8,715.3h0M644.4,720.7h0M620.1,714.3h0M629.6,723.4h0M632.1,715.9h0M630.9,721.7h0M620.1,719.1h0M666.3,719h0M626.3,717.7h0M635,722.7h0M636.1,719.1h0M620.6,720.3h0M616,720.3h0M638.4,720.5h0M626.2,724.6h0" stroke="#ff0051" stroke-width="3.55" stroke-linecap="round" fill="none"/>
<path d="M640.9,719.1h0M602.2,720.5h0M613.4,717.5h0M591.5,718.9h0M637.4,716.1h0M638.8,721.8h0M611.3,717.7h0M623.8,722.1h0M636.4,715.8h0M602,719.1h0M643.5,719.1h0M626.1,715h0M627.3,723.2h0M624,716.1h0M646.7,719.1h0M680.1,718.9h0M612.2,716.2h0M644.6,719.1h0M634.1,723h0M598.4,718.9h0M608,716.9h0M629.7,724.8h0M608.6,719.1h0M646.7,717.9h0M614.9,720.8h0M674.5,719.2h0M629.6,714.8h0M572.1,719.1h0M619.2,722.1h0M662.8,719h0M613.3,720.7h0M632.7,719.1h0M625.9,719.1h0M590.2,719.2h0M642.4,717.1h0M607.4,719.1h0M620.2,721.5h0M585.8,718.9h0M643.2,717.3h0M675.6,719h0M577.6,719h0M692.7,719.1h0M618.2,720.5h0" stroke="#008bfb" stroke-width="3.55" stroke-linecap="round" fill="none"/>
<path d="M596.3,718.9h0M640.1,719.1h0M617.8,719.1h0M612.4,717.6h0M635.3,719.1h0M629.3,713.4h0M619.2,717.6h0M657.4,719h0M611,721.8h0M615.8,719.1h0M612.5,719.1h0M639.1,717.7h0M633.8,716.5h0M673.5,719h0M629.5,719.1h0M644.5,717.5h0M631.6,722.3h0M621.5,719.1h0M616,715.5h0M617.9,714.9h0M622.4,723.2h0" stroke="#466ee2" stroke-width="3.55" stroke-linecap="round" fill="none"/>
<path d="M621.3,714h0M641.2,721.3h0M619.1,719.1h0M616.1,716.7h0M628.6,725.3h0M611.1,720.5h0M640.1,717.9h0M627.4,717.7h0M637.6,719.1h0M634.2,721.7h0M632.9,720.5h0M623,724.6h0" stroke="#8c50c8" stroke-width="3.55" stroke-linecap="round" fill="none"/>
<path d="M634,719.1h0M627,721.8h0M622.7,719.1h0M625.1,722.9h0M624.1,720.6h0M619.1,723.6h0M609.9,721.6h0M608.8,716.7h0" stroke="#c6288c" stroke-width="3.55" stroke-linecap="round" fill="none"/>
<path d="M629.7,717.7h0M619.3,714.6h0M634.1,720.4h0M634.2,715.2h0M609.6,716.6h0M624.7,720.4h0M624.8,716.6h0M626.3,720.5h0M620.1,715.5h0M626.3,713.6h0M635.2,720.9h0M659.5,719.3h0M632,717.5h0" stroke="#ff0051" stroke-width="3.55" stroke-linecap="round" fill="none"/>
<path d="M616.9,717.8h0M667.7,719.2h0M604,720.8h0M578.9,718.9h0M611,716.4h0M669.5,719.3h0M616.1,717.9h0M617.7,723.3h0M634.9,717.3h0M633.9,717.8h0M597.1,719.5h0M619.2,720.6h0M603.4,720.6h0M628.2,715.4h0M583.8,719.1h0M618,721.9h0M637.4,717.6h0M603.2,717.6h0M617,715.2h0M601,717.8h0M617.7,717.7h0M640,720.3h0M627,725.9h0M650.1,718.7h0M630.3,716.5h0M631.8,720.7h0M589.1,719h0M647.9,718.9h0M609,721.5h0" stroke="#008bfb" stroke-width="3.55" stroke-linecap="round" fill="none"/>
<path d="M636.6,722.4h0M660.8,719.1h0M628.2,716.6h0M616.9,720.4h0M573.4,718.9h0M613.2,722.3h0M647.1,720.3h0M630.9,723h0M636.8,717.5h0M638.8,716.4h0M630.6,717.8h0M614.3,715.7h0M623.9,713.2h0M637.6,722.1h0M622.8,720.5h0M620.6,716.7h0M628.1,721.6h0M613.3,715.9h0" stroke="#466ee2" stroke-width="3.55" stroke-linecap="round" fill="none"/>
<path d="M626.2,712.3h0M588.2,719.3h0M617,721.7h0M628.6,719.1h0M630.4,724.3h0M628.7,712.9h0M625,719.1h0M620.1,722.7h0M613.5,719.1h0M621.5,721.7h0M645.3,720.5h0M626.4,716.4h0M623.5,725h0M629.4,716.3h0M633.3,723.4h0M619.1,716.1h0" stroke="#8c50c8" stroke-width="3.55" stroke-linecap="round" fill="none"/>
<path d="M624.9,724.2h0M626.3,725.9h0M614.5,717.4h0M627.1,713.6h0M621.2,720.4h0M629.8,721.9h0M618.3,716.3h0M631.8,719.1h0M571,718.9h0M622.6,716.3h0" stroke="#c6288c" stroke-width="3.55" stroke-linecap="round" fill="none"/>
<path d="M665,719.2h0M625.1,712.8h0M620.4,717.9h0M623.6,719.1h0M624.8,721.6h0M622.9,717.7h0M632.9,714.8h0M642.5,719.1h0M604.2,719.1h0M624.6,717.8h0M652.5,719.1h0M639.1,719.1h0M622.6,713.6h0M708.8,719.1h0M628.4,720.3h0M681.3,719.3h0M627.4,724.6h0M672.1,719.3h0M626.3,723.2h0M628.1,722.8h0M621.5,716.5h0M628.4,717.9h0M604.2,717.4h0" stroke="#ff0051" stroke-width="3.55" stroke-linecap="round" fill="none"/>
<path d="M644,738.8h0M619.8,740.1h0M627.9,745.3h0M618.3,743.8h0M667.7,740.3h0M610.2,741.9h0M627.6,737.5h0M614.9,741.5h0M605.7,739.3h0M611.8,742.1h0M670.1,740h0M624,743h0M616.2,737h0M613.8,741.4h0M636.7,738.7h0M637.8,740.1h0M627.7,746.6h0M607,740.1h0M626.7,741.5h0M608.3,740.1h0M626.9,738.7h0M625.4,742.6h0M601.1,740.2h0M622.8,745.4h0M625.4,743.9h0M644,741.4h0M625.4,737.6h0M675,740h0M650.4,740.3h0M647,739.6h0M628.6,743h0M625.1,740.1h0M619.6,741.4h0" stroke="#008bfb" stroke-width="3.55" stroke-linecap="round" fill="none"/>
<path d="M629.1,738.6h0M621.6,740.1h0M617.3,743.4h0M628.6,744.5h0M635.9,738.5h0M629.1,746h0M622.7,744.1h0M636.1,737h0M631.1,735.3h0M607.8,741.5h0M622.1,737.7h0M635.4,741.7h0M630.1,745.4h0M629.9,741.4h0M614.1,737.6h0M610.3,738.3h0M634.8,736.6h0M629.8,740.1h0M693.4,740.2h0M635.5,743.2h0M611.8,738.1h0M633.3,742.7h0" stroke="#466ee2" stroke-width="3.55" stroke-linecap="round" fill="none"/>
<path d="M622.1,744.9h0M634.7,740.1h0" stroke="#8c50c8" stroke-width="3.55" stroke-linecap="round" fill="none"/>
<path d="M633.1,737.5h0M662.1,740.1h0M626.7,735.9h0M602.1,740.4h0M584,740.2h0M694.2,739.9h0M627.5,734.9h0M615.1,740.1h0" stroke="#c6288c" stroke-width="3.55" stroke-linecap="round" fill="none"/>
<path d="M562.1,740h0M678.4,740.2h0M714,740.1h0M628.9,741.6h0M609.4,740.1h0M679.6,740.1h0M691,740.3h0M621.1,743h0M603.4,739.5h0M612.4,742.4h0M540.2,740.1h0M643.8,740.1h0M604.7,739.6h0M657.4,740.2h0M607.2,741.4h0M637.9,738.8h0M571.4,740h0M598.8,739.9h0M594.4,740.3h0M682.9,740.3h0M681.6,740.2h0M582.6,740.3h0M569.2,740h0M598,740h0M632.2,741.5h0M641.5,738.4h0M595.6,740.2h0M616.4,740.1h0" stroke="#ff0051" stroke-width="3.55" stroke-linecap="round" fill="none"/>
<path d="M616,738.6h0M617.7,740.1h0M632.6,744.4h0M609.1,738.5h0M624.1,734.3h0M654.4,740.1h0M627.7,736.2h0M617.2,738.4h0M623,737.5h0M639.5,740.1h0M665.7,739.9h0M624.5,735.8h0M626.5,740.1h0M623.9,740.1h0M658.8,740.3h0M618.4,741.3h0M637.2,737.3h0M625.7,733.8h0M628.7,735.7h0M570.4,740.1h0M669.2,740h0M627.9,741.4h0M633.6,744h0M626.7,744.3h0M619.5,737.4h0M659.6,739.9h0M626.3,747.1h0M624.2,745.9h0M627.3,738.8h0M628.8,740.1h0M620.9,744.5h0M620.9,741.6h0M635.4,740.1h0M642.9,740.1h0M633.2,738.8h0M655,740.2h0" stroke="#008bfb" stroke-width="3.55" stroke-linecap="round" fill="none"/>
<path d="M623.4,741.4h0M637,740.1h0M610.5,740.1h0M626.2,733.1h0M618.6,738.9h0M632.4,740.1h0M563.1,740h0M639.3,742.3h0M632.4,735.8h0M589.6,740.3h0M627.9,740.1h0M640.1,738.1h0M618.4,742.5h0M618.6,740.1h0M628.5,734.2h0M593.4,740.2h0" stroke="#466ee2" stroke-width="3.55" stroke-linecap="round" fill="none"/>
<path d="M638.2,742.6h0M622.9,736.1h0M622.2,743.7h0M633.8,740.1h0M565.7,740h0M627.3,733.6h0M612.7,740.1h0M619.6,742.8h0M630,742.7h0" stroke="#8c50c8" stroke-width="3.55" stroke-linecap="round" fill="none"/>
<path d="M640.1,742.1h0M641.7,741.8h0M617,741.8h0M630.8,740.1h0M626.8,737.3h0M624.2,738.7h0M620.6,738.6h0M629.9,734.8h0" stroke="#c6288c" stroke-width="3.55" stroke-linecap="round" fill="none"/>
<path d="M661.1,740.1h0M696.8,740.1h0M615.1,737.3h0M616.4,743.2h0M576.1,740.2h0M573.5,740.3h0M649.5,739.8h0M648.4,739.9h0M695.3,740h0M624.4,737.2h0M686.4,740.3h0M587.4,740.3h0M574.6,739.9h0M745.5,740.1h0M611.4,740.1h0M578.3,740.3h0M651.8,739.9h0M612.9,737.8h0M564.4,740.3h0M577.3,739.9h0M581.6,740.3h0M592.2,740.1h0M591.1,739.9h0M702.9,740.1h0" stroke="#ff0051" stroke-width="3.55" stroke-linecap="round" fill="none"/>
<path d="M638.9,737.9h0M628.9,737.2h0M632.1,737.2h0M619.4,738.8h0M626.8,745.7h0M616.5,741.6h0M626.8,734.5h0M625.6,736.3h0M631.2,744.9h0M631,743.3h0M652.8,740.1h0M622.9,742.7h0M629.7,738.8h0M685.4,740.1h0M672.8,740.2h0M622.2,735.3h0M620.8,740.1h0M627.3,744h0M625.2,746.4h0M622.8,738.8h0M623.2,740.1h0M629.7,736.1h0M663.4,740.3h0M623.2,734.8h0M627.6,742.7h0M632,743h0M633.5,736.2h0M613.9,740.1h0M634.3,743.6h0M630.1,744.1h0M641.2,740.1h0" stroke="#008bfb" stroke-width="3.55" stroke-linecap="round" fill="none"/>
<path d="M638.3,737.6h0M579.5,740.2h0M632.4,738.7h0M613.5,738.8h0M621.6,742.5h0M625.2,745.2h0M615.2,738.7h0M622.2,736.5h0M615,742.9h0M609.2,741.7h0M631.3,738.5h0M620.6,737.2h0M630,737.5h0M620.9,735.7h0M624.4,744.4h0M625.7,735h0" stroke="#466ee2" stroke-width="3.55" stroke-linecap="round" fill="none"/>
<path d="M631.1,741.7h0M619.4,744.1h0M613.6,742.6h0M618.2,736.4h0M622.1,738.9h0M675.9,739.9h0M567.8,740.1h0M673.8,740.3h0M623.9,741.5h0M644.9,740.3h0M617.6,736.8h0M630.8,736.9h0" stroke="#8c50c8" stroke-width="3.55" stroke-linecap="round" fill="none"/>
<path d="M634.2,741.8h0M633.2,741.4h0M634.7,738.4h0M625.6,738.8h0" stroke="#c6288c" stroke-width="3.55" stroke-linecap="round" fill="none"/>
<path d="M637.2,741.5h0M607.8,738.7h0M684,740.2h0M664.6,740.3h0M606.9,738.8h0M572.2,740.3h0M584.9,740h0M637,742.9h0M626.4,742.9h0M588.6,740.1h0M600.4,740.3h0M559.7,740.1h0M596.5,739.9h0M667,740.1h0M625.1,741.4h0M642.3,741.6h0M710.5,740.1h0M656.6,739.9h0M646.1,740.5h0M642.9,738.6h0M688.5,740.3h0M621.7,741.3h0M640.5,740.1h0M692,740.2h0M619.5,736.1h0M580.8,740.2h0M711.4,740.1h0M637.7,741.4h0M677.3,740.3h0M618.4,737.7h0" stroke="#ff0051" stroke-width="3.55" stroke-linecap="round" fill="none"/>
<path d="M630.5,761.1h0M654.7,761h0M585.1,761.3h0M622,763.9h0M623.3,758h0M619.7,761.1h0M639.2,761.1h0M630.5,756.2h0M623.2,761.1h0M624.8,763.8h0M633.7,761.1h0M577.5,760.9h0M670.4,761.3h0M584.5,761.1h0M624.8,765.1h0M632.8,765.1h0M568.3,760.9h0M617.7,763.6h0M629.4,755.6h0M635.7,761.1h0M614.1,759.4h0M620.2,762.7h0M634,757.5h0M621.3,757.4h0M615.4,761.1h0M625.6,762.3h0M632.5,762.4h0" stroke="#008bfb" stroke-width="3.55" stroke-linecap="round" fill="none"/>
<path d="M649.8,760.9h0M623.5,762.7h0M626.6,766.5h0M638.1,763.4h0M652.9,760.9h0M618.6,761.1h0M626.9,755.7h0M587.6,760.9h0M618.9,759.7h0M627.6,755h0M632.7,763.8h0M627.1,758.4h0M631.6,756.6h0M621.3,763.6h0M624.3,758.4h0M633.4,763.5h0M617.8,759.8h0" stroke="#466ee2" stroke-width="3.55" stroke-linecap="round" fill="none"/>
<path d="M625.8,758.7h0M609.7,761.4h0M618.6,758.2h0M604.9,761.3h0M628.9,757h0M629,765.2h0M613,761.1h0M621.1,762.3h0M628.1,764.8h0M640.4,759.3h0" stroke="#8c50c8" stroke-width="3.55" stroke-linecap="round" fill="none"/>
<path d="M665,760.9h0M621.1,764.8h0M628.1,766h0" stroke="#c6288c" stroke-width="3.55" stroke-linecap="round" fill="none"/>
<path d="M782.9,761.1h0M589.7,760.9h0M630,759.9h0M631.7,765.6h0M601.6,760.9h0M661.1,761.3h0M597.2,761.3h0M569.3,761.1h0M637.4,763.7h0M599.1,761.2h0M565.8,760.9h0M628.8,758.4h0M580.6,761h0M667.1,761.3h0M790.6,761.1h0M574,761h0M615.6,759.2h0M665.7,760.9h0M648.3,761.1h0M693.5,761.1h0M679.9,761h0M641.6,762.7h0M636.9,761.1h0" stroke="#ff0051" stroke-width="3.55" stroke-linecap="round" fill="none"/>
<path d="M626.9,763.8h0M617.8,761.1h0M621.9,759.7h0M636.2,762.6h0M651,761.2h0M627.9,763.5h0M662.3,761.3h0M643,761.1h0M625.6,755.1h0M623.4,764.2h0M645.2,760.8h0M655.2,761.1h0M563.7,761.1h0M617.8,758.6h0M629.1,763.8h0M628.2,758.7h0M631.4,759.6h0M614.4,761.1h0M594.5,761.3h0M634.7,762.7h0M622.4,761.1h0M624.6,757.1h0M619.9,759.5h0M616.3,761.1h0M626.5,754.3h0M628.8,761.1h0M624.5,755.8h0M625.9,761.1h0" stroke="#008bfb" stroke-width="3.55" stroke-linecap="round" fill="none"/>
<path d="M623,765.8h0M583.2,761.2h0M656.7,761.3h0M632.3,761.1h0M625.8,767.1h0M625.8,757.5h0M623.6,756.4h0M635.9,764h0M637.4,758.5h0M630.4,758.6h0M628.2,759.9h0M570.7,761h0" stroke="#466ee2" stroke-width="3.55" stroke-linecap="round" fill="none"/>
<path d="M623.5,759.5h0M578.2,760.9h0M627.9,762.3h0M626.5,762.5h0M621.9,762.5h0M626.9,761.1h0M632.7,759.8h0M634.8,759.5h0M634.8,757.8h0M631.6,761.1h0" stroke="#8c50c8" stroke-width="3.55" stroke-linecap="round" fill="none"/>
<path d="M614.4,762.8h0M621.9,765.3h0M633.4,764.7h0" stroke="#c6288c" stroke-width="3.55" stroke-linecap="round" fill="none"/>
<path d="M699.5,761.1h0M543.6,761.1h0M586.3,761.2h0M642.9,762.5h0M644.3,759.9h0M636.2,758.2h0M673.9,761.1h0M618.8,762.5h0M658.8,761.3h0M631.5,758.1h0M668.5,761.2h0M564.6,761.3h0M663.7,760.9h0M592,760.9h0M576.2,761h0M644.1,761.1h0M537.7,761.1h0M646.6,760.8h0M675,761.1h0M711.4,761.1h0M626.8,759.7h0M722.5,761.1h0M630,762.3h0M593.5,761.2h0M627.8,767.2h0M672.8,761.3h0M643.2,759.7h0" stroke="#ff0051" stroke-width="3.55" stroke-linecap="round" fill="none"/>
<path d="M633.4,758.7h0M638.3,761.1h0M628.9,762.5h0M626.5,757h0M642,759.5h0M631.3,762.6h0M619.6,764.4h0M639.2,763.2h0M671.4,760.9h0M632.7,757.1h0M625.7,756.3h0M630.5,763.6h0M628.8,766.6h0M571.8,761.2h0M616.7,763.3h0M630.6,766h0M610.7,760.3h0M634.9,764.4h0M631.1,764.1h0M602.8,761.1h0M621.2,761.1h0M630.3,764.8h0M627.9,756.2h0M613.1,759.7h0" stroke="#008bfb" stroke-width="3.55" stroke-linecap="round" fill="none"/>
<path d="M622.5,758.3h0M625.6,759.9h0M629.3,759.7h0M621.2,758.6h0M626.7,765.2h0M625.9,763.5h0M625.4,765.9h0M633.6,762.3h0M641.9,761.1h0M627.6,761.1h0M616.3,758.9h0M627.6,757.4h0M634.7,761.1h0M636,759.6h0M604,761.2h0M617.9,762.4h0M624.8,766.4h0M643.9,762.3h0M639.1,759h0M624.6,759.8h0M640.6,762.9h0" stroke="#466ee2" stroke-width="3.55" stroke-linecap="round" fill="none"/>
<path d="M620.8,759.9h0M618.5,764h0M632.6,758.4h0M624.3,761.1h0M624.4,762.4h0M612,760.9h0" stroke="#8c50c8" stroke-width="3.55" stroke-linecap="round" fill="none"/>
<path d="M589,761.1h0M652.4,761.2h0M613.1,762.5h0M620.1,757.8h0M633.8,759.9h0M625.6,764.7h0M615.1,763h0" stroke="#c6288c" stroke-width="3.55" stroke-linecap="round" fill="none"/>
<path d="M545.3,761.1h0M627,767.9h0M606.3,761.1h0M572.6,761h0M637.5,759.8h0M608.5,760.7h0M590.8,761.2h0M696.9,761.1h0M597.8,760.9h0M640.7,761.1h0M575,761h0M637.2,762.4h0M669.1,761.2h0M630.2,757.4h0M595.7,761h0M622.1,756.9h0M607,761h0M562.2,761h0M638.2,758.8h0M678.4,761.2h0M647.8,760.6h0" stroke="#ff0051" stroke-width="3.55" stroke-linecap="round" fill="none"/>
<path d="M624.5,777.3h0M715.7,782.1h0M668.9,782.2h0M636.6,782.1h0M628.5,785.7h0M619.6,782.1h0M633.5,779.5h0M620.5,782.1h0M585,782.3h0M650.6,781.9h0M629,777.3h0M621.9,784.5h0M632.4,785.2h0M627.6,782.1h0M636.8,783.6h0M574.9,782.2h0M676.1,782.3h0M654.1,781.9h0M659.9,782.1h0M628.9,778.5h0M631.1,783.9h0M777,782.1h0M618.2,783.3h0" stroke="#008bfb" stroke-width="3.55" stroke-linecap="round" fill="none"/>
<path d="M619.8,779.3h0M626.6,779.6h0M626.2,780.9h0M581.8,782.3h0M621.9,782.1h0M648.1,782.3h0M619.5,783.5h0M649.7,782.1h0M582.9,781.9h0M633.2,783.4h0M623.4,779.3h0" stroke="#466ee2" stroke-width="3.55" stroke-linecap="round" fill="none"/>
<path d="M620.8,783.7h0M634.7,784.3h0M620.5,785.3h0M618.4,784.5h0M626.8,788.3h0M625.2,780.7h0M621.1,778.9h0M622.8,784.9h0M615.9,780.3h0M628.9,784.5h0" stroke="#8c50c8" stroke-width="3.55" stroke-linecap="round" fill="none"/>
<path d="M606.8,782.3h0M627.7,776.5h0M629.6,779.3h0M623.4,782.1h0M614.9,783.6h0M631.1,782.1h0M637.7,782.1h0M616.1,783.9h0" stroke="#c6288c" stroke-width="3.55" stroke-linecap="round" fill="none"/>
<path d="M643.5,782.3h0M625.4,782.1h0M545.3,782.1h0M651.7,782.3h0M597.6,782.3h0M662.4,782h0M572.2,781.9h0M599,782.1h0M564.3,781.9h0M656.4,782.1h0M629.8,784.9h0M629.8,786.3h0M666.9,782.2h0M736.9,782.1h0M600,782.1h0M554.7,782.1h0M699.5,782.1h0M587.3,781.9h0" stroke="#ff0051" stroke-width="3.55" stroke-linecap="round" fill="none"/>
<path d="M625.7,778h0M670.5,781.9h0M671.5,781.9h0M637.7,780.9h0M624.5,778.9h0M601.4,782.3h0M618.6,779.7h0M614,783.4h0M619.9,780.7h0M625.1,776.7h0M623.3,780.7h0M613.7,782.1h0M627.4,784.9h0M622.9,783.5h0M642.5,782.2h0M625.3,784.8h0M621.7,785.8h0M627.9,780.7h0M638.3,783.3h0M631.1,780.3h0M675,782.3h0M621,780.5h0M627.6,783.5h0M619.7,784.9h0M628.7,779.7h0M633.2,782.1h0M631.1,778.5h0M695.2,782.1h0M624.2,783.7h0M628,787.7h0M623.1,777.9h0M668.1,782.2h0M657.3,782.2h0M594.3,781.9h0M630,777.9h0M617.4,780h0" stroke="#008bfb" stroke-width="3.55" stroke-linecap="round" fill="none"/>
<path d="M612.8,782.2h0M628.8,786.9h0M616.2,782.1h0M636,784h0M618.2,780.9h0M566.8,782.3h0M639.3,782.1h0M617,784.2h0M624.2,782.1h0" stroke="#466ee2" stroke-width="3.55" stroke-linecap="round" fill="none"/>
<path d="M614.2,780.8h0M626.3,777.1h0M629.8,780.7h0M633.6,780.8h0M627.6,779.3h0M614.9,780.6h0" stroke="#8c50c8" stroke-width="3.55" stroke-linecap="round" fill="none"/>
<path d="M632,782.1h0M627.4,786.3h0" stroke="#c6288c" stroke-width="3.55" stroke-linecap="round" fill="none"/>
<path d="M661.1,781.9h0M632.4,780.6h0M610.7,782h0M565.7,782h0M635.4,782.1h0M592.1,781.9h0M580.3,781.9h0M591.1,782.2h0M552.2,782.1h0M604.6,782.2h0M634.5,782.1h0M570.1,782.2h0M568.8,782h0M641.3,781.8h0M595.4,782h0M568,782h0" stroke="#ff0051" stroke-width="3.55" stroke-linecap="round" fill="none"/>
<path d="M626.8,782.1h0M630.1,782.1h0M621.9,780.9h0M664.2,782h0M625.3,783.5h0M586.6,782.1h0M578.2,782.1h0M630.3,783.5h0M692.7,782.1h0M560,782.3h0M632.6,779h0M647.2,782h0M626.6,787.1h0M621.6,778.4h0M625.1,787.5h0M626.7,783.3h0M625.3,779.4h0M624.3,785.3h0" stroke="#008bfb" stroke-width="3.55" stroke-linecap="round" fill="none"/>
<path d="M625.5,786.2h0M633.5,784.7h0M571.1,782h0M626.6,784.6h0M618.5,782.1h0M640.1,781.8h0M611.7,781.7h0M634.3,779.9h0M624,780.5h0M605.8,781.9h0M672.6,782.2h0M626.5,775.9h0M626.6,785.8h0M579.6,782h0M622.2,779.7h0M602.4,781.9h0M609.2,782.4h0M626.2,778.4h0M628.8,780.9h0" stroke="#466ee2" stroke-width="3.55" stroke-linecap="round" fill="none"/>
<path d="M622.2,783.3h0M628.6,782.1h0M624.4,786.9h0M614.9,782.1h0M603.2,782h0" stroke="#8c50c8" stroke-width="3.55" stroke-linecap="round" fill="none"/>
<path d="M665.8,782h0M627.4,777.9h0M622.9,786.3h0" stroke="#c6288c" stroke-width="3.55" stroke-linecap="round" fill="none"/>
<path d="M652.9,782.3h0M562.1,782.1h0M593.1,782.1h0M742.9,782.1h0M673.9,781.9h0M678.5,781.9h0M663.1,782.2h0M637.1,780.6h0M596.8,782h0M677.2,781.9h0M584.2,782.1h0M608.2,782.1h0M713.1,782.1h0M628.7,783.3h0M589.8,782h0M617,782.1h0M719.9,782.1h0M679.6,782.3h0M575.9,782.2h0M632,783.6h0M635.7,780.2h0M658.9,782.3h0M631.2,785.7h0M689.3,782.1h0" stroke="#ff0051" stroke-width="3.55" stroke-linecap="round" fill="none"/>
<path d="M634.6,805.4h0M616.9,804.9h0M629.7,806h0M673.4,803h0M617.3,803.1h0M596.5,802.9h0M627.7,806h0M627.7,798.7h0M623.8,800.1h0M633,801.7h0M603.3,803h0M586.2,803.1h0M580.3,803h0M632.3,801.5h0M621.8,806.4h0M629.5,807.4h0M615.8,801.6h0M589.7,803.2h0M594.1,802.9h0M627.5,809h0M621.5,799.8h0" stroke="#008bfb" stroke-width="3.55" stroke-linecap="round" fill="none"/>
<path d="M627.6,804.6h0M651.7,803.2h0M630.6,800.6h0M625.4,797.9h0M635.6,805h0M610.1,803.3h0M629.5,801.7h0M627.5,807.5h0M626.5,806.7h0M631.7,804.7h0M624.2,806.1h0M636.8,801.5h0M609.2,802.9h0M632.8,800.4h0" stroke="#466ee2" stroke-width="3.55" stroke-linecap="round" fill="none"/>
<path d="M623.8,803.1h0M634,800.8h0M617,801.3h0M635.2,803.1h0M626.4,809.1h0M625.1,805.7h0M613.5,802.9h0M628.5,808.1h0M622.6,801.8h0M621.8,801.4h0" stroke="#8c50c8" stroke-width="3.55" stroke-linecap="round" fill="none"/>
<path d="M637.9,801.8h0M628.3,806.9h0M630.9,804.3h0M625.3,807h0" stroke="#c6288c" stroke-width="3.55" stroke-linecap="round" fill="none"/>
<path d="M552.2,803.1h0M545.3,803.1h0M584.7,803h0M619.2,801.9h0M666.6,803.3h0M567.5,803.1h0M643.8,803.3h0M562.4,803.1h0M667.9,802.9h0M572.6,803.1h0M644.8,803.1h0M689.3,803.1h0M685.8,803.1h0M553.9,803.1h0M570.9,803.1h0M559.8,803.1h0M706.3,803.1h0M622.6,803.1h0" stroke="#ff0051" stroke-width="3.55" stroke-linecap="round" fill="none"/>
<path d="M583.4,803.3h0M632.9,803.1h0M627.3,797.2h0M665.1,802.9h0M624.8,801.8h0M652.6,802.9h0M619.3,805.6h0M595.2,803h0M587,803.2h0M648,803.1h0M624.8,800.5h0M633.4,805.8h0M660.5,802.9h0M628.2,803.1h0M628.9,801.8h0M630.7,803.1h0M636.5,803.1h0M582.4,803.1h0M629.5,800.2h0M636.4,804.7h0M650.6,803h0M601.2,803h0M627.1,801.6h0M656.4,803h0M619.6,804.3h0M590.4,802.9h0M607.7,803.1h0M639.8,803h0M628.4,805.6h0M581.1,803.3h0" stroke="#008bfb" stroke-width="3.55" stroke-linecap="round" fill="none"/>
<path d="M626.6,799.5h0M622.7,807h0M592.9,803.3h0M619.1,803.1h0M621.7,803.1h0M620.5,803.1h0M632.2,806.3h0M633.2,804.5h0M635.6,801.2h0M632,803.1h0" stroke="#466ee2" stroke-width="3.55" stroke-linecap="round" fill="none"/>
<path d="M626.6,804.3h0M630.9,806.8h0M625.9,803.1h0M627.2,803.1h0M616.1,803.1h0M622.8,805.7h0M638.7,802.9h0M653.8,803.3h0M591.5,803.3h0" stroke="#8c50c8" stroke-width="3.55" stroke-linecap="round" fill="none"/>
<path d="M645.8,802.9h0M614.9,801.9h0M629.8,803.1h0M624.1,807.6h0M618.5,801h0" stroke="#c6288c" stroke-width="3.55" stroke-linecap="round" fill="none"/>
<path d="M672.5,803.2h0M752.3,803.1h0M711.4,803.1h0M649.4,803.2h0M695.2,803.1h0M683.3,803.1h0M675.8,803.1h0M717.4,803.1h0M575.1,803.1h0M641.2,803.1h0M746.3,803.1h0M557.3,803.1h0" stroke="#ff0051" stroke-width="3.55" stroke-linecap="round" fill="none"/>
<path d="M620.3,804.5h0M614.7,803.1h0M629.8,804.5h0M624.9,804.4h0M626.4,800.7h0M616.2,804.6h0M620.5,801.7h0M626.1,798.3h0M598.6,803.3h0M625.2,808.3h0M605.6,802.9h0M637.5,804.4h0M623,804.4h0M618.2,803.1h0M632.2,799.9h0M599.9,803h0M630.8,805.6h0M620.6,800.2h0M597.4,803.1h0M624.2,804.6h0M630.6,801.9h0M626,807.9h0M654.9,803.1h0M606.8,803.3h0M614.7,804.3h0M601.9,803.1h0" stroke="#008bfb" stroke-width="3.55" stroke-linecap="round" fill="none"/>
<path d="M628.4,799.3h0M627.3,800.2h0M624.9,803.1h0M588.5,802.9h0M618.3,805.2h0M625.2,799.2h0M623.8,798.6h0M657.2,803.3h0M622.8,799.2h0M671.3,802.9h0M628.3,800.6h0M612.2,802.8h0M628.4,798.1h0M626.1,805.5h0" stroke="#466ee2" stroke-width="3.55" stroke-linecap="round" fill="none"/>
<path d="M622.5,800.5h0M621.3,804.8h0M623.8,801.6h0M674.7,803.2h0M626.1,801.9h0M611.1,802.9h0M619.3,800.6h0M637.6,803.1h0M628.6,804.4h0M626.2,797.1h0M631.1,799.4h0M620.3,806h0" stroke="#8c50c8" stroke-width="3.55" stroke-linecap="round" fill="none"/>
<path d="M708.8,803.1h0M661.6,803.3h0M777,803.1h0M630,798.8h0M642.5,802.9h0M646.7,803.3h0M663.1,803.1h0M664.2,802.9h0M715.7,803.1h0M670.1,802.9h0M659.8,803.3h0M658.5,803h0M691,803.1h0M634.2,803.1h0" stroke="#ff0051" stroke-width="3.55" stroke-linecap="round" fill="none"/>
<path d="M625.4,656.7V823.4" stroke="#999" stroke-width="0.9"/>
<path d="M523.2,823.4H795.7" stroke="#333" stroke-width="0.8"/>
<path d="M523.2,823.4v3M557.3,823.4v3M591.3,823.4v3M625.4,823.4v3M659.5,823.4v3M693.5,823.4v3M727.6,823.4v3M761.6,823.4v3M795.7,823.4v3" stroke="#333" stroke-width="0.8"/>
<g font-size="9.4" fill="#333" text-anchor="middle">
<text x="523.2" y="837.2">−0.6</text>
<text x="557.3" y="837.2">−0.4</text>
<text x="591.3" y="837.2">−0.2</text>
<text x="625.4" y="837.2">0.0</text>
<text x="659.5" y="837.2">0.2</text>
<text x="693.5" y="837.2">0.4</text>
<text x="727.6" y="837.2">0.6</text>
<text x="761.6" y="837.2">0.8</text>
<text x="795.7" y="837.2">1.0</text>
</g>
<text x="659.5" y="851.8" font-size="12.2" fill="#333" text-anchor="middle">SHAP value (impact on model output)</text>
<text transform="translate(500.8,681.4) rotate(0.03) scale(1.07,1)" font-size="11.3" fill="#333" text-anchor="end">City</text>
<text transform="translate(500.8,702.4) rotate(0.03) scale(1.07,1)" font-size="11.3" fill="#333" text-anchor="end">O<tspan font-size="8.2" dy="1.7">3</tspan></text>
<text transform="translate(500.8,723.4) rotate(0.03) scale(1.07,1)" font-size="11.3" fill="#333" text-anchor="end">Hour</text>
<text transform="translate(500.8,744.4) rotate(0.03) scale(1.07,1)" font-size="11.3" fill="#333" text-anchor="end">PM<tspan font-size="8.2" dy="1.7">2.5</tspan></text>
<text transform="translate(500.8,765.4) rotate(0.03) scale(1.07,1)" font-size="11.3" fill="#333" text-anchor="end">SO<tspan font-size="8.2" dy="1.7">2</tspan></text>
<text transform="translate(500.8,786.4) rotate(0.03) scale(1.07,1)" font-size="11.3" fill="#333" text-anchor="end">NO<tspan font-size="8.2" dy="1.7">2</tspan></text>
<text transform="translate(500.8,807.4) rotate(0.03) scale(1.07,1)" font-size="11.3" fill="#333" text-anchor="end">PM<tspan font-size="8.2" dy="1.7">2.5<tspan dx="1.5">−</tspan><tspan dx="1.5">10</tspan></tspan></text>
<defs><linearGradient id="cbg" x1="0" y1="0" x2="0" y2="1"><stop offset="0" stop-color="#ff0051"/><stop offset="0.5" stop-color="#8c50c8"/><stop offset="1" stop-color="#008bfb"/></linearGradient></defs>
<rect x="812.4" y="656.1" width="2.1" height="167.7" fill="url(#cbg)"/>
<text x="818.6" y="660.3" font-size="10">High</text>
<text x="818.6" y="828.0" font-size="10">Low</text>
<text transform="translate(853.3,740) rotate(-90)" font-size="10" text-anchor="middle">Feature value</text>
</g>
<clipPath id="cpo"><rect x="922.6" y="655.5" width="356.3" height="164"/></clipPath>
<text class="db" x="871.3" y="656.4" font-size="12.7">(o)</text>
<g clip-path="url(#cpo)">
<path d="M1008.9,765.8h0M946.7,758.6h0M957.5,724.1h0M1017.5,763.1h0M953.3,741.6h0M1082.3,759.7h0M1025.9,745.1h0M1087.3,761.4h0M940,753.6h0M1245.4,755.3h0M934.4,751.8h0M1232.9,731.6h0M948.5,758.8h0M960.5,767.2h0M979.5,765.6h0M958.6,740.5h0M1053.4,759.3h0M973.5,757.7h0M1011,746.6h0M1015.7,740.8h0M1123.6,714.9h0M991.7,765.8h0M1160.7,761.9h0M978.5,761.9h0M938.4,759.3h0M932.2,726.2h0M942.1,778.3h0M1218.9,721h0M945.7,749.2h0M1041.2,759.9h0M948,760.8h0M1117,776.8h0M1112.8,756.2h0M1019.1,769h0M956.1,759.8h0M1067.5,766.1h0M989.9,752.8h0M972.3,757.4h0M943.8,751.1h0M994,750.3h0M969.1,750.6h0M1012.3,771h0M1079.5,756.3h0M944.6,761.3h0M1019.2,753.2h0M1035.8,771.7h0M979.8,760.8h0M1013.8,759.2h0M951.8,753h0M969.2,783.8h0M945.3,759.5h0M1003.5,755.3h0M1060,745.6h0M944.7,761.4h0M1106.1,772.9h0M957.6,757.3h0M985.7,766.7h0M1135.4,767.8h0M944.3,746.8h0M941.2,752.1h0M946.8,751.2h0M1101.6,764.1h0M978.1,767.3h0M980.3,759.8h0M1009.3,754.2h0M969.4,759.8h0M947.9,755.4h0M1005.9,765.2h0M1112.2,754h0M1117.4,753.4h0M968.4,753.3h0M937.6,749.2h0M1018.2,756.1h0M969.1,754.9h0M990.8,754.7h0M1004.7,753.3h0M1013.1,756.2h0M980.6,767.8h0M1251,739.7h0M958.2,755.9h0M943.1,750.2h0M1152.7,720h0M1048.9,760.3h0M933.2,754.1h0M937.3,754.3h0M961.3,760.2h0M1034,777.2h0M968.8,756.6h0M983.5,754.5h0M1014.9,764.9h0M1017.1,760.3h0M1040.1,768.7h0M1085.3,760.4h0M987.8,763.5h0M943.6,755.7h0M982.9,747.6h0M988.2,761.2h0M1130.7,777.6h0M989.5,762.3h0M1001.9,757.9h0M1216.3,749.6h0M983.8,760.4h0M945.3,744.2h0M1004.3,755.5h0M1024.5,761.1h0M938.9,769.5h0M1037.7,760.7h0M1258.9,744.5h0M1121.5,753.2h0M997,759.8h0M960.4,752.2h0M944.3,755.1h0M991.5,747.6h0M1014,760.3h0M1099.2,764.9h0M1009.6,756.9h0M1006.4,749.4h0M982.9,761.7h0M992.1,763h0M954.4,759.3h0M970.3,757.7h0M966.4,760.4h0M943.7,767.5h0M1007.3,771h0M986.1,757.1h0M999,758.4h0M988.7,759.9h0M1039.8,762.3h0M941.8,761.7h0M1151.1,782.9h0M1064.3,770.2h0M1015.5,753.6h0M985.5,756.7h0M1061.2,755.5h0M966.9,759h0M1006.7,758.6h0M1007.1,744.5h0M990,755.2h0M959.6,754.3h0M1050.9,753.3h0M1221,776.2h0M1119.6,760.1h0M1080.9,757h0M1126.3,778.7h0M1102,765h0M1131.5,755h0M937.8,751.4h0M960.3,760h0M944.8,750.7h0M938.6,754.4h0M939.8,767.4h0M975.2,761h0M1007.1,759.4h0M1143,753.1h0M1002.9,761.3h0M945.3,761.2h0M964.9,754h0M1005.4,763.6h0M968.1,755.6h0M991.9,757.2h0M1059.1,753.8h0M947.9,742.2h0M1025.4,756.8h0M1037.3,758.8h0M942.8,757.8h0M1036.1,761.2h0M943.6,761h0M1006.1,762.1h0M1026.8,761.5h0M1129.2,769.7h0M991.2,745.7h0M1004.9,755.6h0M1069.3,760h0M943.2,753.9h0M1023.1,763.4h0M945,754h0M1079.9,755.5h0M1023.7,759.8h0M1058.8,756.8h0M1062.4,754.4h0M963.3,761.4h0M937.7,785.4h0M1033.2,763.8h0M948.6,744.7h0M1154.1,737.1h0M1021.8,765.9h0M949.1,763.8h0M937.2,757.4h0M1027.7,767.4h0M937.7,772h0M1010.3,760.3h0M1022,754.3h0M945.2,757h0M993.1,766.7h0M1004.1,760.2h0M1117.3,757.7h0M1047,758.7h0M1001.2,757.1h0M1004.3,762.2h0M990.1,756.9h0M1042.6,759.4h0M1005.8,742.3h0M940.2,734.5h0M984.8,770.7h0M946.2,756.3h0M1148.6,732.8h0M1032.1,756h0M1155.6,722.7h0M935.3,750.1h0M955.7,774.7h0M940.5,752.3h0M1059.5,758h0M1068.9,764.8h0M976.8,735.4h0M1188.8,768.4h0M977.6,759.4h0M939.9,760.5h0M984.7,745.6h0M1046.7,763.8h0M1022.6,760.2h0M1057.4,757.1h0M1016.3,765.8h0M1099.6,760.1h0M949.4,740.1h0M1037.2,759.5h0M946.1,754.5h0M988.1,764.1h0M1013.9,765.5h0M950.6,758.9h0M939.1,749h0M986.3,760.9h0M1133.3,749.8h0M1130.7,789.1h0M942.8,751h0M958.6,770.1h0M982.8,759.7h0M943.1,770.5h0M1069,754.3h0M988.6,758.3h0M967.6,766h0M938.1,747.8h0M1008.7,760h0M955.4,749.2h0M988.6,758.5h0M985.3,763.7h0M1118.4,731.5h0M987.7,762.4h0M952.6,734.8h0M936.5,762.8h0M962.7,744h0M1080.8,757.8h0M1040.1,757.1h0M1012.1,761.6h0M932.6,752.8h0M1169,767.5h0M1026.8,769.4h0M951.9,752.9h0M1000.5,755.5h0M997.9,759.1h0M991.8,757h0M1063.1,756.4h0M953.8,756.4h0M1012.8,759.9h0M975.4,756.2h0M1017.4,769.8h0M1074.7,767.4h0M991,755.7h0M1098.8,773.1h0M980,756.8h0M954.7,750.6h0M988.7,762.3h0M1009,764.4h0M983.8,760.2h0M965.2,767.9h0M977.7,758.2h0M967,750.8h0M934.2,778.8h0M965.5,756.5h0M939.1,757.8h0M1027.8,763.8h0M1108.3,769.2h0M1074,763.5h0M996.3,760.8h0M932.1,759.9h0M955.2,742.6h0M933.3,763.5h0M941.1,760.7h0M1107.7,755.5h0M1017.9,765.5h0M966.8,754.3h0M999.4,753.4h0M951.6,755.9h0M985.8,738.2h0M955.9,754h0M943.5,776.3h0M976.9,760.5h0M1189.1,729h0M936.9,778.1h0M1047.5,757.7h0M1129,759.8h0M1091.6,756.6h0M1035,754.6h0M942.7,756.1h0M1021.4,756.8h0M941.2,764.7h0M1062.1,760.1h0M941.6,750.6h0M989.7,755.9h0M1026.9,761.3h0M943.3,760.7h0M1115.3,728.7h0M1020.8,758.7h0M1110.5,748.8h0M1010,761.6h0M991.4,763.7h0M1010.8,767.8h0M1014.1,768.2h0M980.4,766.1h0M938.6,749.9h0M1101.3,758h0M1087.9,761.1h0M1047.7,758.9h0M1022.4,762.5h0M1053.4,758.3h0M1062.5,769.8h0M1000.5,758.3h0M1095.7,758.2h0M942.7,741.4h0M951.8,740.6h0M992.7,761.6h0M1015.4,746.2h0M955.6,731.5h0M984.9,751.4h0M1042.7,762.9h0M992,757.6h0M1001.7,760.4h0M977.6,761.7h0M1082.4,755.2h0M1070.6,763.2h0M943.6,759.8h0M973.7,742.8h0M1016.1,764.6h0M1069,752.9h0M942,764.2h0M1097.9,747.1h0M985.3,761.8h0M1263.3,771.5h0M1075.3,758.9h0M989.5,758.9h0M1156.6,765.4h0M989.8,754.6h0M1018.7,757.3h0M995.5,766.1h0M974.8,754.3h0M1005.3,758.9h0M1001.8,758h0M978.5,757h0M952.5,769.7h0M943.2,754.4h0M1070.7,757.4h0M935.4,750.4h0M984,755.5h0M945.9,755.4h0M1001,761.7h0M986,751.6h0M992.7,757.1h0M1007.2,761h0M942.2,757.2h0M943.2,775.2h0M1014.6,764.7h0M1000.6,763.3h0M934.9,751.8h0M1039.6,765.3h0M956.8,763.6h0M1077,737.9h0M984.3,768.7h0M946.8,762.1h0M958.8,757.1h0M1045.6,761.8h0M994.6,766.5h0M935.6,747.7h0M935.6,752.9h0M1005.6,763h0M1050.5,770.4h0M1031.5,758.6h0M949.7,768.7h0M988.1,753.9h0M1012.4,763.2h0M939.3,748.8h0M957.2,746.3h0M999.3,760.8h0M940.4,763.4h0M982.4,764.3h0M1102.6,758.1h0M947.5,768.4h0M1067.7,754.1h0M978.2,761.7h0M1005.7,759.6h0M976.4,756h0M1092.3,772.5h0M1025.5,762.4h0M952.5,757.8h0M1040.9,755.7h0M984,750.3h0M955,735.4h0M960.9,750.9h0M932.9,752.9h0M1099.3,752.4h0M947.2,749.9h0M1041.9,756.1h0M962.6,755.8h0M1153.2,716.1h0M1097.7,766.5h0M1030.7,758.7h0M960,761.5h0M969.4,765.5h0M976.9,767h0M1129.1,768.3h0M961.9,756.1h0M1028.4,758.3h0M939.1,759.4h0M953.1,755.8h0M940.3,759.7h0M1061.1,760.4h0M943.4,761.8h0M1154,766.2h0M1029.6,758.8h0M977.8,766.9h0M946.2,753.3h0M1104.9,745.5h0M1116.4,777.3h0M957,743.8h0M1090.2,753h0M986.4,757.1h0M941.5,759.1h0M947.2,771.9h0M938.3,759.2h0M1125.8,765h0M1128.6,748.4h0M1049.4,733.4h0M961.1,773.8h0M937.1,745.8h0M1054.7,760.7h0M979.5,761.8h0M1018.9,763.1h0M1067.5,766.6h0M1002,760.7h0M957.7,748.6h0M955.1,760.4h0M1126.4,738h0M1020.3,760h0M998.6,760.2h0M969.3,753.8h0M1055.5,771.6h0M998.7,763.1h0M983.4,754.5h0M1255.1,779.2h0M1087.9,759.7h0M1024.1,763h0M1097.9,768.6h0M1136.7,731h0M953.9,760.1h0M1048.9,758.2h0M976.6,754.2h0M1133.6,778.1h0M984.5,756.6h0M1054.3,764.3h0M976.4,762.7h0M1159,790.4h0M1213.7,720h0M1003.8,763.8h0M1060.4,761.2h0M949.4,768.3h0M941.7,762.4h0M945.3,749.4h0M1030.7,767.3h0M1016,768.4h0M1200.9,731.3h0M948.2,748.4h0M1051.6,765.7h0M945.4,753.6h0M939.5,772.8h0M1039.7,758h0M1017.5,759h0M988.4,756.3h0M1246,775.5h0M1144.2,756.9h0M943.3,754.9h0M985.7,765.8h0M1018.9,759.4h0M986.8,763.8h0M1039.4,760.9h0M1125.1,769h0M1024.2,772.8h0M991.1,762.1h0M971.3,755.3h0M949.5,745.6h0M1036.6,763.7h0M1064.4,762.8h0M1146.5,755.6h0M1165.7,774.1h0M1000.3,754h0M1065.4,771.5h0M996.1,769.5h0M979.2,763.3h0M1036.1,764.2h0M942.3,742.3h0M1101,759.2h0M964.5,752h0M1070.9,763.5h0M997.7,766.1h0M1065.8,757.6h0M951.3,758.6h0M992.8,760.3h0M1035.3,763.1h0M1012.1,758.8h0M971.2,751.4h0M933.4,754.9h0M932.5,760.4h0M1026.8,764.1h0M984.7,758h0M980.1,751.8h0M1002.4,753.6h0M1074,763.4h0M988.3,764h0M1005.2,759.4h0M948.7,756.7h0M976.8,761.1h0M989.1,766h0M1255.1,734.7h0M1203.1,760.3h0M1093.8,740.1h0M936.4,736.8h0M1050.2,758.6h0M1082,754.7h0M1006.6,760.2h0M953.3,760.7h0M1028.9,762.4h0M975.4,759.2h0M985.7,757h0M932.9,759.3h0M975.1,768.2h0M1099.1,769.2h0M1037.3,757.3h0M954.2,761h0M1083.5,765.5h0M1037.9,773.7h0M987.7,729.1h0M982.1,756.3h0M1107,775.6h0M973.1,758.6h0M937.5,757h0M984.8,766.5h0M932.8,730.9h0M960.1,750.5h0M937.7,747.4h0M964.1,752.5h0M950.2,759.2h0M1068.5,760.5h0M987.6,761.5h0M939.9,769.5h0M988.6,749.1h0M1112,744.3h0M1011.4,756.2h0M1147.5,782.9h0M962.2,767.7h0M1016.1,762.7h0M1130.8,761h0M1007.8,754.3h0M976.7,751.7h0M945.6,753.8h0M980.9,758.8h0M964.4,765.6h0M990.9,765.2h0M1135.6,762.4h0M944.9,753.9h0M936.8,767h0M1073.2,771h0M1063.3,767.8h0M1082.5,763.6h0M997,751.5h0M1015.2,757.7h0M1029.9,759.6h0M995.5,767.3h0M989.1,752.5h0M1133.9,766.4h0M936.4,755.2h0M978.6,758.3h0M1052.2,759.5h0M982.6,762h0M1015.8,762.8h0M963.5,737.1h0M1125.1,746.7h0M997.3,757.5h0M995.9,752.8h0M1039.5,755.4h0M948,756h0M980.8,758.3h0M1033,764.7h0M935,759.9h0M966.9,762.3h0M956.2,768.5h0M1184.1,780.5h0M990.5,761.5h0M1101.6,754.9h0M1037,760.7h0M965,753.7h0M936.3,757.2h0M945.3,731.5h0M977,770.7h0M968.4,773.4h0M1070.9,777.2h0M949.3,755.6h0M1152,767.4h0M948.4,761.5h0M964.8,749.3h0M997.6,761.3h0M947.4,760.6h0M1105.6,784.4h0M933.5,762.5h0M977.1,756.5h0M1102.2,768.9h0M987.6,759.4h0M1069,766.5h0M945,748.9h0M937.7,730.8h0M965.1,761h0M1104.5,759.8h0M938.5,753.9h0M941.7,756.1h0M997,764.1h0M1036.4,759.7h0M985.1,756.2h0M948.4,752.7h0M1036.4,749.9h0M932.2,760.6h0M937.5,767.1h0M995.1,758.2h0M1120.4,767.9h0M1258,709.8h0M995.7,746.6h0M1080.6,751h0M952,776.9h0M973.8,758.3h0M943.4,755.2h0M945.4,760.9h0M940.2,748.5h0M945.6,764.4h0M935.2,753.9h0M1046.8,755.9h0M1082,772.7h0M1011.7,758.9h0M1073,762.5h0M1099.4,774.7h0M948.7,747.7h0M1024.7,757h0M1114,760.4h0M956.2,743.7h0M945.5,765.1h0M1122.7,777.8h0M959.7,757.5h0M1014.3,752.7h0M938.8,763h0M970.2,755.4h0M963.6,756h0M957.2,763.9h0M1025.9,760.5h0M938.4,750.5h0M1065.2,779.5h0M1107.3,757.9h0M1053,760.6h0M1189.7,767.9h0M1021.6,766.3h0M1102.1,758.4h0M1007.2,748.5h0M973.7,764.7h0M1135.8,734.4h0M1071.8,765h0M955,768.3h0M1016,754.6h0M944.8,774.2h0M1076.3,770.7h0M1131.5,781.4h0M1038.7,765.2h0M1182.4,729.3h0M958.3,770.9h0M1029.8,763.2h0M947.4,768.2h0M999.5,750h0M954.1,748.1h0M1069.7,769.4h0M985.4,759h0M1235.3,777.7h0M1019,747.7h0M954.8,762.4h0M940.3,741.9h0M1120.6,777.4h0M990.8,757.1h0M1103.9,759.2h0M939,735.2h0M994.5,764.7h0M947.2,761.6h0M1053,768.1h0M976.7,763h0M953.7,737.1h0M1018.6,759.7h0M932.8,752h0M1171.1,735.2h0M950.8,775h0M1013.1,756.1h0M936.6,764.9h0M952.1,759.5h0M1032,757.5h0M969.6,759.8h0M952.8,760.7h0M1014.9,759.8h0M1005.7,759.9h0M971.6,759.8h0M955.6,739.7h0M957.9,751.2h0M965.6,758.8h0M952.5,776.9h0M1105.8,776.5h0M963.5,743.2h0M1053,766.2h0M1106.2,759.2h0M961.3,753.7h0M1096.7,748.1h0M1017.7,767.1h0M1197.9,728.5h0M956.1,752.9h0M1048.2,753.3h0M990.2,756.2h0M935.7,747.7h0M1063.2,774.3h0M1080.8,762.4h0M944,758.8h0M951.3,757.2h0M932.8,747.3h0M949.2,758h0M978.1,762.2h0M1082.7,770.1h0M974.9,749h0M933.2,734.6h0M960.4,753.1h0M1107.1,776.9h0M1012.2,766.4h0M973.9,759.1h0M942.1,761.4h0M1015.9,765.4h0M935.8,759.2h0M1011.1,756.2h0M938.4,732.3h0M934.6,769.5h0M998.5,764.1h0M1031.3,771.2h0M1007.3,766h0M992.9,754.5h0M1196.4,709.9h0M987.7,773h0M1056.8,765.1h0M1020.7,762h0M1034.6,761.3h0M965.9,754h0M956.9,748.4h0M944.5,766.5h0M994.6,755.2h0M1007.9,764.8h0M976.3,748.2h0M952.8,752.4h0M991.7,756.2h0M997.6,758.2h0M982.6,746h0M1030.3,761.3h0M989.5,749.6h0M1009,748.2h0M933.7,731.1h0M937.1,755.6h0M940.7,756.2h0M1069,762.9h0M998.4,762.3h0M969.3,759.6h0M938.8,749h0M955.2,768.9h0M1002.1,728.6h0M956.6,761.3h0M963.9,748.8h0M1005.9,758.8h0M993,766.9h0M967.7,754.2h0M1124.3,764.2h0M989.3,752.7h0M1004.1,762.8h0M977.8,761h0M1016.4,760.2h0M950.2,756.5h0M946,776.7h0M1124.4,742.2h0M988.5,753.5h0M958.6,758.6h0M962.7,764.8h0M1063.2,760.4h0M947.1,755.7h0M1022.7,769.6h0M1242.7,757.9h0M1007.8,763.9h0M1007.4,762.6h0M940.4,759.5h0M1020.4,755.5h0M1090,768.4h0M980.5,757h0M1003.4,761.6h0M1146.6,737.1h0M1237.6,751.2h0M940.2,755.8h0M1004.6,755.8h0M1026.7,757.8h0M949.4,749.2h0M978.3,761.3h0M1222,707.1h0M961.1,755h0M997.3,761.5h0M1004.1,760.8h0M1071.8,763.7h0M967.1,736.7h0M987.1,756.3h0M964.7,753.8h0M1249.9,759.7h0M1120.5,778.6h0M942,757h0M999,761.1h0M953.8,752.4h0M980.1,759.9h0M947.6,768.3h0M1031.8,745.6h0M937.2,758.4h0M947.1,750.3h0M936.2,752.6h0M986.6,764.1h0M992.9,736.9h0M1154.5,737.7h0M1070.7,757.4h0M978.5,752.6h0M977.8,759.6h0M947.9,752.1h0M944.1,762.2h0M945.9,741h0M957.1,766.6h0M1128,771.2h0M980.8,759.4h0M1111.2,749.4h0M956,766.1h0M967.2,758.5h0M950,751.8h0M946.5,723.2h0M967.9,768.4h0M995.6,764.6h0M1045.6,754.1h0M1070.5,752.5h0M1004.1,764.2h0M942,772.4h0M943.4,747.5h0M1086.2,754.7h0M978.3,769.8h0M936.7,743.1h0M973.6,760.3h0M1078.2,762.1h0M1055.3,765.9h0M1058.7,759.9h0M1120.9,747.4h0M1039.6,758.1h0M993.6,764h0M981.2,752.9h0M1107.3,754.4h0M978.8,757h0M944.6,774h0M954.8,763.8h0M936.6,758.8h0M975,761.8h0M1042.7,749.3h0M1032.8,767.6h0M961.8,768h0M1143.3,774.8h0M981.1,752.4h0M962.3,767.3h0M1029,744.4h0M1149.7,740.9h0M962.6,762.3h0M934.6,760.2h0M1134.3,749.2h0M1109.3,765.3h0M989.3,762.3h0M991.9,763.2h0M969,762.8h0M946.5,758.2h0M980.3,752.3h0M940,771.1h0M1109.4,752.1h0M1153.5,738.6h0M1021.7,762.9h0M955.6,761.6h0M940.5,761.1h0M949.5,759.4h0M931.6,752h0M944.5,752.7h0M1147.9,793.8h0M1098.2,760.9h0M1031.6,765h0M1016.1,758.9h0M1070.2,762.3h0M1084.6,771.1h0M1025.6,756.7h0M946.3,759.4h0M938,759.6h0M1017.6,759.6h0M1001.7,767.1h0M1065.1,752.8h0M938.5,769.2h0M1068.4,760.1h0M1101.9,763.8h0M1022.6,754.1h0M1142.4,750.7h0M1126.1,750.8h0M937.1,755.1h0M1002.6,757.9h0M1101.3,766.1h0M1100.1,743.1h0M968.1,765h0M937.7,764.6h0M940.6,739.4h0M1215.7,739.9h0M951.1,768.2h0M1146.6,787.2h0M948.6,745.4h0M939.5,755.3h0M1088.6,767.2h0M957.8,761.4h0M984.1,760.8h0M943.6,754.3h0M1012.1,760.1h0M974.5,760.4h0M949.3,758.8h0M1083.9,756.9h0M937.4,750.7h0M932.8,779.6h0M961.8,763.1h0M994.3,756.5h0M938.9,766.9h0M947.9,756h0M1212.7,755.8h0M959.1,747.2h0M1061,762.6h0M1146.3,778.7h0M981.2,753h0M945.5,755.7h0M943.8,770.1h0M1008.4,756.1h0M989.2,759.1h0M966.6,752.3h0M1177,726.8h0M1065.3,764.6h0M1124.4,720.8h0M1010.7,745.3h0M1028.7,765.4h0M991.4,760.4h0M1215.4,773.5h0M943.3,744.3h0M1129.1,761.6h0M943.2,745.1h0M934.6,759.7h0M992.6,764.6h0M1001.7,765.3h0M938.5,761.3h0M991.7,757.4h0M1030.4,764.4h0M940.7,750.5h0M947.7,752.2h0M951.5,750.3h0M1109.2,778.3h0M1133.7,724.3h0M957.5,774.5h0M969.9,763.7h0M1123.7,756.6h0M1041.1,756.8h0M941.9,749.2h0M998.9,759.3h0M978.2,756.5h0M1027.2,759.2h0M945.6,751.7h0M997.9,755.7h0M1015.4,757.9h0M979.2,753.1h0M1042,753.1h0M1086.4,763.2h0M947.4,771.5h0M1011.8,758.6h0M977.8,766.6h0M940.8,744.6h0M1061.5,758.2h0M1060.4,758.6h0M1059.6,758.7h0M1088.5,778.7h0M956.5,743.7h0M936.6,775.1h0M1109.1,756.6h0M1062.6,761.9h0M990.7,763.3h0M957.7,747.4h0M954.1,755.2h0M932.5,755.4h0M1014.2,764.8h0M954.8,750.9h0M1031.7,757.2h0M936.2,764.5h0M1127.4,772.1h0M1197.3,730.6h0M1019.9,766.4h0M1009,756.7h0M994.9,755.7h0M942.2,762.6h0M965.8,763.6h0M990.4,759.4h0M946.1,756.6h0M1073.2,775.6h0M958.3,760.3h0M996.6,750h0M1013.5,765.1h0M976.1,752.9h0M947.7,763.2h0M965.7,762.4h0M1006.6,752.3h0M941.9,763.4h0M1020.1,764.7h0M1080.9,759.3h0M977.1,760.8h0M1009.7,756.4h0M1049.9,762.8h0M1120.6,766h0M935.9,769.7h0M1002.3,763h0M1087,770.7h0M934.6,754.8h0M1167.7,778.8h0M939,756.5h0M949.3,759.6h0M981.6,760.2h0M981.3,754.2h0M939.2,757.4h0M997.8,773.1h0M1043.7,761.5h0M1103.4,768.3h0M948,749.9h0M962.3,756.3h0M1026.7,761.2h0M988.1,768h0M1041.3,760.5h0M960.1,758.2h0M946.2,747.4h0M993.1,759.6h0M941,753.2h0M1163.8,753.7h0M949.8,751.1h0M1170.9,737.2h0M1092.2,760.6h0M1002.2,764.6h0M1025,762.8h0M1031.5,770.6h0M941.1,771.4h0M1078,769.1h0M932.4,767.9h0M990.1,765.2h0M1109.4,769.2h0M979.2,753.5h0M1014.8,757.5h0M1006.9,764.9h0M995.8,761.4h0M955.7,762.5h0M1114.9,764.3h0M978.3,757.3h0M939.3,757.7h0M1006.1,759.8h0M1095.4,751.1h0M1004.9,766.2h0M1038.7,761.4h0M1232.6,737.6h0M979.1,752.7h0M958.4,769h0M1060.4,762.3h0M943.5,743.3h0M1023.7,760.1h0M938.9,782.4h0M964.4,749.3h0M1075.5,775h0M950.9,760.1h0M962.1,758.4h0M1071.1,758h0M1039.4,762.9h0M1057.2,754.7h0M933.2,769.7h0M983.4,756.6h0M938.9,742.8h0M1131.9,728.5h0M1030.3,761.3h0M1111.2,751.7h0M1122.8,769.6h0M1078.7,762.3h0M1140.3,741.2h0M1027.5,766.3h0M1085.4,760.1h0M947.1,775.4h0M985.5,759.4h0M1114.7,755.4h0M1031,747.9h0M947.1,748.7h0M934.1,758.2h0M968.1,759.6h0M1040,767.2h0M1151.8,728.7h0M960.6,760.1h0M953.3,771.4h0M993.4,762h0M1122.8,723.5h0M942.3,757.2h0M962.4,760.6h0M992.6,756.6h0M1089.8,751.7h0M1028.7,760.9h0M1003,767.7h0M1109.1,767.6h0M960.4,766.1h0M956.5,768.3h0M954.6,754.8h0M944.5,758.6h0M1005.7,770.3h0M955.6,748.2h0M946.9,754.9h0M1036.3,759.4h0M935.9,754.9h0M945.5,762h0M979.3,758.5h0M1021.1,748.5h0M1083.4,763.5h0M937.7,757h0M1060.7,763.5h0M1038,758.9h0M1000.6,756.4h0M949.5,764.6h0M939.3,751.5h0M936.3,758.5h0M1010.3,751.9h0M977.1,755.1h0M1060.6,758.7h0M1020.2,754.5h0M968.1,758.6h0M954.8,735.1h0M1018.9,756.7h0M993.5,755h0M938,755.6h0M1156.7,765.5h0M1000.4,763.3h0M966.6,772.2h0M1044.1,757.7h0M975,763h0M1053.2,766.9h0M1024.4,754.9h0M966,747.1h0M999.5,753.8h0M966.9,754.2h0M1260.2,754.2h0M977,759.8h0M976.6,765.2h0M946.6,764.5h0M937.9,771.3h0M948.7,754.2h0M1188.4,760.4h0M940.7,752h0M963.7,735.4h0M954.7,788.2h0M1078.5,751.4h0M955.6,759.8h0M938.1,766.8h0M942.3,765h0M951.4,763.3h0M1242.9,772.6h0M944.2,737.4h0M1189.4,737.7h0M936.8,740.1h0M945,755.5h0M1075,737.6h0M966,762.8h0M998,766h0M955.5,766h0M1013.4,766.3h0M984.6,760.2h0M1115.5,764.4h0M1078.1,766.9h0M1018.5,759.9h0M990.1,756.2h0M1183.2,729.4h0M1038.5,757.8h0M1098.2,751.1h0M938,756h0M995.4,759.1h0M997.8,764.3h0M938.7,752.4h0M975,737.3h0M995.1,754.9h0M940,765.3h0M940.1,760.9h0M933.8,753.7h0M977.5,752.4h0M951.1,759.1h0M984.6,764h0M947.3,776.6h0M1147.2,755.6h0M978.6,761.2h0M1093.1,759.2h0M970.5,766.5h0M985.9,755.9h0M1110.1,766h0M1026.5,757.4h0M941.9,755.5h0M1152.7,771.1h0M1007.5,757h0M1031.4,754.9h0M983.7,746.2h0M1111.3,760.9h0M976.3,758.8h0M1132,762.7h0M985.1,755h0M971.3,762.9h0M997.5,758.2h0M1110.2,746.3h0M953.5,757.5h0M1009.5,751.4h0M1152.8,723.7h0M939.1,740.4h0M966.8,766.1h0M955.7,766.9h0M981.4,760.2h0M971.5,754.3h0M1027.2,755.9h0M943.8,758.7h0M955.1,766.5h0M1066.8,763.1h0M1084.9,773.2h0M983.6,771h0M953.8,767.9h0M997.3,763.7h0M1042.1,754.3h0M997.8,760.6h0M1062.5,768.4h0M1104,762.2h0M934.7,782h0M999,756.3h0M961.3,764.9h0M938.8,773.2h0M1219.3,751.3h0M938.5,740h0M956.9,761.4h0M994.3,761.4h0M952.8,758h0M966.5,761.6h0M1026.6,763.8h0M1144.5,743.1h0M981,766.2h0M947.4,759.8h0M958.8,763h0M983.3,759.6h0M999.7,756.7h0M931.8,750h0M1041.6,766.9h0M1129.1,769.2h0M970.1,759.2h0M1120.8,772.1h0M1121.7,770.4h0M1116.9,757.2h0M1064.4,760.2h0M971.2,755h0M979.9,758.7h0M1070.2,778.7h0M1112.8,805.3h0M1241.1,712.7h0M978.4,751.3h0M1148.6,767.2h0M941.5,765h0M1214.9,736.9h0M937.4,757h0M1004.3,773.9h0M1025.9,762h0M1041.4,762.9h0M1101.8,734.1h0M1018.9,758h0M937.9,739.9h0M1257.6,730.1h0M978,769.8h0M981.5,761.4h0M945.8,756.6h0M1006.3,763.4h0M987.1,748.4h0M994,760.7h0M1059.3,739.7h0M1174.5,753.8h0M987.6,755.3h0M995,761.7h0M1152.7,715.2h0M1020,758.7h0M983.9,756.7h0M1133.5,747.8h0M1107.4,769.6h0M954,747.4h0M964.2,750.2h0M945.1,774.8h0M941.4,764.5h0M1037.9,762.5h0M940.8,744.1h0M942.1,749.2h0M942.2,759.2h0M1094.5,762.4h0M1001.8,760.8h0M1006.6,746.2h0M963.9,759.1h0M1046.9,757.9h0M974.7,757h0M1036.2,764.8h0M1057.5,758.2h0M981.5,750.1h0M1025,761.5h0M947.9,778.4h0M1049.5,791.2h0M978.9,762.7h0M1145.8,777.9h0M993.7,761.7h0M952.6,737.1h0M1094,785.2h0M953.6,761h0M1017,758.4h0M1112.4,730.4h0M934.6,744.8h0M940.3,756.6h0M1043.1,760.6h0M1069.6,760.4h0M972.4,755.5h0M977.3,760.3h0M990.1,758.5h0M941.7,757.3h0M1127.7,757.6h0M1100,764.3h0M1012,760.8h0M942.3,753.7h0M1004.1,764.9h0M1106,740.7h0M949.9,766.2h0M950,764.2h0M1000.2,760.9h0M945.3,756.5h0M939,740.5h0M1041,760.1h0M993.2,769.3h0M975.3,756h0M1057.5,764h0M1156.7,760.3h0M996.9,753.7h0M1028.6,763.6h0M1002.4,755.3h0M1115.6,763.5h0M974.7,754.2h0M1051.4,764.4h0M1061.4,763.5h0M939.5,758.9h0M933.6,754.5h0M1100.3,759.1h0M968.3,765.7h0M1135.7,783.6h0M975.4,761h0M941.6,750.7h0M1048.9,754.3h0M1107.8,770.5h0M1031.8,759.6h0M1040.9,760.8h0M938,748.6h0M964,741.8h0M1015.2,760h0M942.7,754h0M1004.4,756.9h0M1003.2,758h0M1001.2,760.6h0M960,765h0M936.3,745.4h0M935.6,754h0M965,744.8h0M949.8,764.9h0M1040.9,758.4h0M1166,800h0M1197.2,777.2h0M942.9,742h0M1055.3,761.9h0M1097.9,766.4h0M997.5,754.1h0M938,753.1h0M1051.8,764.1h0M956.3,764.3h0M978.7,753.4h0M1034.4,763.7h0M977,761.5h0M948.4,754.4h0M962.9,766.7h0M993.8,738.7h0M980.8,763h0M985.5,762.4h0M964.2,737.5h0M1121.9,759h0M1003.3,767.5h0M1039.5,767.9h0M1089,760.1h0M953,760.8h0M1217.7,743.1h0M980.4,750.3h0M1005.8,783h0M982.2,756.2h0M940.9,739.3h0M1087.7,757.2h0M1008.6,751.8h0M966.3,757.7h0M982.9,753.9h0M954.9,759.4h0M962.7,762h0M937.6,754.8h0M1043.2,768.7h0M1024.1,768.5h0M976.2,755h0M1099.3,770.7h0M954.2,749.6h0M955.3,739.6h0M1130.9,769.6h0M982.1,755.2h0M965.5,761.8h0M1044.9,754.3h0M991.7,758.3h0M974.1,755.6h0M1130.8,748.3h0M965.9,768.1h0M1079.6,751.1h0M947.5,769.3h0M1017.8,756.1h0M936.5,755.7h0M1006.1,752.6h0M932.1,750.2h0M976.5,761.5h0M985.9,762.1h0M1031.3,771.6h0M1075.3,766.4h0M1003.1,761.8h0M967.6,756.1h0M1064.4,759.1h0M967.1,760h0M949,755.9h0M1037,761.2h0M947.7,764.6h0M1046.6,764.2h0M1004.9,755.2h0M1129.7,745h0M1045.9,756.7h0M1018.5,761.4h0M1106.1,770.4h0M1058.4,767.2h0M965,768.2h0M967.3,761.1h0M1009.2,753.3h0M1017.7,754.8h0M977.5,758.7h0M1088,744.8h0M933.7,761.7h0M958.4,747.8h0M1120.7,770.1h0M1153,776.6h0M961.3,763.5h0M959.9,758.2h0M960.5,756.4h0M957.7,761.3h0M1026.1,755.1h0M953.9,746.1h0M1139.2,746.3h0M944,787h0M1102.9,770.9h0M1058.9,768.6h0M999.8,767.7h0M970.8,760.9h0M937,755.2h0M1140.1,754.4h0M968.5,760.8h0M956.1,774.7h0M1065.1,770h0M960.8,751.1h0M983.7,760.1h0M1099.6,754h0M1044.7,754.7h0M1131.2,763.3h0M1134.6,737.4h0M999.6,755.3h0M943.8,760.2h0M955.5,759.6h0M940.7,763.4h0M988.8,757.5h0M966.6,754.9h0M961.5,743.2h0M981,754.4h0M1029.4,760.4h0M1121.3,770.6h0M940.1,753.9h0M1050.5,761.5h0M974.6,757.9h0M959.8,763h0M982.4,757h0M1051.5,766.5h0M1103.7,765.3h0M1058.5,764.9h0M1055.9,757.5h0M945.6,758h0M952.8,760.3h0M989.6,766.7h0M972.8,760.9h0M1054.9,756.7h0M971.5,759.3h0M991.5,762.7h0M968.6,753.7h0M940,761.4h0M938,769.8h0M1115.6,750.5h0M961.7,756.7h0M1147.1,775.5h0M995.5,755.5h0M952,757.7h0M942.1,751.6h0M1130.7,770.1h0M947.9,754.4h0M940.2,753.7h0M989.9,760.8h0M1061.5,758.7h0M1150.3,765.4h0M1071.7,757.2h0M951.2,768.8h0M1120.8,758h0M963.7,734.2h0M957.7,768.2h0M1002.4,765.1h0M964.5,754.8h0M975.7,756.6h0M995.9,759.7h0M1095,762.3h0M934.3,772.4h0M994.8,763h0M992.5,763.8h0M988.6,758.7h0M1097.5,755.8h0M1002.1,757.1h0M1132.8,755.3h0M1046.6,764.2h0M1072,754.2h0M938.4,764.5h0M1022.8,750.6h0M1014.3,769.9h0M935.8,751.7h0M998.5,736.9h0M950.1,761.9h0M949.5,775.6h0M954.7,761.4h0M931.7,779.8h0M1071.4,755.6h0M1012.9,759.5h0M992.5,752.8h0M1040,762.1h0M987.8,759.9h0M941.8,757.8h0M978.8,755.2h0M973.3,761.7h0M977.1,762.1h0M964.8,759.4h0M1017.3,758.6h0M973.5,761.2h0M1029.7,763.6h0M1043.6,745.8h0M961.6,740.8h0M1022,756.2h0M1102.9,754.1h0M942.9,756.9h0M1047.6,763.9h0M1103.8,761.3h0M972.7,764.7h0M1006.2,760.5h0M963.9,765.9h0M1068.6,755.3h0M1130.5,763.5h0M1040.4,758.2h0M1080.7,758.4h0M1106.9,766.6h0M937.6,785.3h0M1106,727h0M1065.6,754.1h0M981,760.2h0M1189.4,723.8h0M1036.2,765.4h0M1080.7,750.4h0M941.3,774.5h0M1100.4,764.8h0M1024.7,760.5h0M1037,760.4h0M969.6,757h0M946.7,761.1h0M1110.5,754.7h0M953.6,751.9h0M1080.9,756h0M1004.4,753.3h0M1126.1,765.2h0M946.7,760.4h0M1213.1,750.8h0M963.3,769.1h0M1008.7,750.8h0M971,769.8h0M978.5,757.9h0M945.4,753.6h0M934.6,751.8h0M956.7,793.6h0M1116.9,761.5h0M1025.4,763.5h0M960.9,748.2h0M938.8,743.4h0M1024.9,763.2h0M1120.1,765h0M944.3,769.2h0M1100.7,767.8h0M991.1,749.8h0M948.9,757.4h0M1049.9,756.7h0M1024.1,763.8h0M965.6,759.7h0M939.1,773.8h0M990.4,768.6h0M992.7,755.9h0M976.8,759.1h0M940.5,767.2h0M950.1,763.8h0M1129.6,744.4h0M945.2,753.4h0M1005.1,755.9h0M1015.4,771.4h0M968.5,761.7h0M978.6,757.8h0M1108,755.4h0M1021.4,753.1h0M998.5,753.2h0M941.7,762.9h0M1014.9,759.9h0M982.9,755.6h0M1015.5,745.5h0M1002.2,763.6h0M1015,752.7h0M1091.1,769.3h0M980.3,759.5h0M1009.3,785.7h0M951.1,759.3h0M936.2,749.5h0M944.8,764.4h0M975.8,755.6h0M991.7,758.2h0M999.8,759.7h0M978.6,740.6h0M941.2,758.8h0M1178.8,721.3h0M944.6,756.8h0M944.2,742.5h0M970.7,758.2h0M979,762.7h0M954.9,740.7h0M1014.5,755.3h0M999.9,761.3h0M1197.2,750.7h0M943.3,766.7h0M955.2,749.2h0M1115.7,785.8h0M1042.9,735.8h0M982.1,759.8h0M997.8,760.1h0M1085.9,767h0M1129.1,756.1h0M1005,765.2h0M1000.1,755h0M944.1,765.1h0M1108.7,741.9h0M952.1,760h0M1033,760h0M956.6,757.2h0M1240.5,745.5h0M996.1,756.3h0M965,754.7h0M1026.3,751.8h0M956.1,759.9h0M965.7,757h0M942.8,752.7h0M947.4,773.7h0M1002.1,759.6h0M934.4,757.3h0M1003.9,765.8h0M974.2,761.8h0M951.9,758h0M1019,759.3h0M958.8,740.9h0M1062.1,762h0M953.4,743.8h0M948.4,765h0M1127,769.1h0M996.1,759.2h0M945.3,744.1h0M984.8,756.7h0M938.6,743h0M970.4,758.2h0M940.5,792.1h0M933.8,751.3h0M933.9,755.4h0M949.4,755.7h0M970.9,764.1h0M941.1,724.3h0M1011,750.6h0M1036.6,752h0M933.5,775.5h0M1052.8,762h0M945.3,750.1h0M970.6,742.6h0M1024.4,755.9h0M1116.2,770.7h0M1030.4,757.3h0M1072.2,756.7h0M939.2,753h0M1022,763.9h0M962.7,753.5h0M1018.6,765h0M979.1,755.2h0M978,753.4h0M986.6,770.2h0M1119.5,753h0M1055.3,762.7h0M1079.9,755.1h0M964.5,761h0M1001.9,761.3h0M994.5,754.5h0M1029.1,755.5h0M959.4,773h0M952.3,747.5h0M936.7,753.7h0M953,740.8h0M940.1,727.2h0M938.4,760.5h0M1124.3,744h0M1011.9,768.1h0M961.4,769.2h0M960.7,770.9h0M1066.6,751.2h0M994.8,750.8h0M982.6,759h0M940.4,767.4h0M1112.3,774.4h0M945.4,754.7h0M959.7,750.3h0M1036.5,744.1h0M1087.7,755.8h0M1128.2,789.4h0M939.4,757h0M1091.1,759.7h0M946.3,770.6h0M1103.6,764.8h0M950.4,751.7h0M1041.1,756.7h0M941.2,761.7h0M944.6,755.5h0M946.7,752.6h0M952.2,751.1h0M956.9,761.7h0M1027.7,752.3h0M1081.2,769h0M983.8,755.7h0M1003.5,761.4h0M948.8,726.2h0M936.9,762.4h0M1052.6,763.5h0M944.8,768.3h0M1264.7,727.7h0M942.2,770.4h0M1070.5,773h0M1181,711.9h0M1086.8,776h0M1207,753.4h0M983.8,766.3h0M970.6,756.4h0M971.7,764.9h0M954.3,768.3h0M1028.6,765.9h0M1051.7,759.3h0M1056.4,763.9h0M975.5,757.8h0M982.4,757.2h0M966.8,760.8h0M1106.7,764.1h0M961.7,762.8h0M978.7,769.1h0M939.6,754.9h0M982,765.1h0M956.7,778.6h0M946.6,765h0M1082.2,760.2h0M1014.6,760.5h0M1099.8,761.7h0M1007,778.8h0M1185,751.2h0M960.7,745.5h0M1020.2,763h0M1007.5,759.2h0M992.1,756h0M1263.9,711.7h0M1107.9,784.3h0M933.5,753.7h0M982.2,753.9h0M1143.4,724h0M976.2,757.4h0M932.2,743h0M1133.8,771.3h0M935.6,763.1h0M1011,751.2h0M991.2,760.9h0M1153.3,760.4h0M935.3,753.9h0M944.5,754.7h0M1055,763.1h0M986.4,752.1h0M948,760.3h0M983.7,757.9h0M936.3,745.6h0M977,753.6h0M936.2,768h0M1000.8,750.4h0M1118.9,734.1h0M950.5,762.1h0M943.4,752.7h0M971,766.8h0M947.2,728.1h0M1016.1,760.6h0M940.6,756.7h0M937.9,756.6h0M944.2,772.9h0M1186.2,739.3h0M957.1,760.2h0M1009.7,756.9h0M970.4,767.2h0M964,763.3h0M987.6,751.8h0M1185.8,760.3h0M1128.3,718.8h0M959,768.6h0M944.2,750.5h0M938.9,755.6h0M987.4,772.1h0M1040.1,760h0M1075.9,759.1h0M990.7,759.8h0M972.7,762.2h0M958.8,757.5h0M937.2,753.3h0M1039.2,759.3h0M982.7,766.3h0M1265.6,715.2h0M1022.8,765.4h0M1000.2,764.1h0M1168.3,728.3h0M935.4,741.9h0M991.5,762.4h0M1020.8,757.9h0M950.7,757.8h0M939.3,751h0M936.3,758h0M942,750.9h0M1015.9,767.4h0M1127.7,741.5h0M936.3,736h0M1014.3,769.5h0M1022.2,765.5h0M981.6,748.8h0M1052.9,757.9h0M1101,752.5h0M996.5,755.7h0M1182.2,761.5h0M1014.6,766.7h0M957.1,746.8h0M994.9,752.3h0M950.9,753.8h0M964.3,763.9h0M941.4,743h0M1130,757.7h0M933.9,768.9h0M1101.2,758.7h0M979.5,756.1h0M969.7,766.1h0M979.2,753.3h0M950.5,781.1h0M991,756.9h0M946.6,773.7h0M1127.9,763.4h0M997.2,755.9h0M953.6,757.8h0M1075.8,770.4h0M943.5,767h0M969.1,744.4h0M1021.2,762.3h0M1040.6,767.2h0M1011,761.2h0M942.6,757.8h0M998,757.2h0M949.6,752.3h0M933.9,774.4h0M1076.6,762.7h0M933.1,764.6h0M939.1,763.7h0M1033,766.4h0M986.2,756.6h0M961.7,761.4h0M960.6,752.9h0M967.3,757h0M975.7,759.9h0M941,784.7h0M1014.4,754.2h0M1005.2,758h0M971.6,754.4h0M1019.9,757.2h0M979.3,750.4h0M1029.7,770.8h0M948.3,763.5h0M990.2,755.3h0M956.6,755.1h0M990.9,774.9h0M947.6,754.6h0M974.1,758h0M1076.5,765.9h0M936.2,761.4h0M1095.8,756.7h0M1102.1,757.4h0M958,752.5h0M935.7,739.2h0M962.7,763h0M941.4,738.9h0M963.6,747.8h0M1148,771.7h0M966.7,750.9h0M1156.5,743.2h0M964.4,773.3h0M975,758.5h0M1061.3,762h0M1006.6,750.1h0M983.4,764.4h0M1136.9,766.9h0M937.3,735.6h0M954.3,748.2h0M1147.4,775.7h0M941.7,752h0M1015.3,757.5h0M1003.9,757.4h0M955.4,770h0M941.2,751.4h0M1064.7,759.8h0M977.8,762.3h0M981.5,757.4h0M932.7,745.5h0M1264,724.7h0M942.8,761.9h0M936.2,760.9h0M943.6,759.3h0M1013.6,759.2h0M1013.9,759.9h0M966.5,760.6h0M1041.5,757.9h0M1003.8,746.5h0M1142,752.6h0M1136.7,735h0M1074.1,763.2h0M989.2,761.6h0M936.2,741.2h0M938.8,755.6h0M956.8,759.9h0M992.9,756h0M1129.7,790.6h0M987.3,758.9h0M1189.2,749h0M948.4,756.1h0M1177.3,732.3h0M945.8,763.5h0M983.7,764.1h0M953,766.7h0M1238.6,756.8h0M959,760.3h0M951.3,770.5h0M1129.3,754.3h0M947,764.6h0M1064.1,759.3h0M960.1,759.1h0M1006.7,757h0M938.7,781h0M1124.1,778.4h0M934.3,753.5h0M1083.1,754.7h0M1141.6,734.8h0M1008.6,757.6h0M942.1,758.3h0M971,762.5h0M1040.3,765.8h0M980.9,755.6h0M941.3,771.2h0M1032.7,766.9h0M993.3,766.9h0M953.3,758.5h0M1061.3,759h0M982.9,768.5h0M1082.6,769h0M946.7,780.5h0M1103.5,754.6h0M1002.4,753.7h0M1098.8,764h0M1047.6,756.5h0M1066.1,738.6h0M982.8,761.2h0M1108.3,770.9h0M1124.3,740.2h0M1004.7,753.7h0M1057.1,746.6h0M949.2,751.5h0M1094.8,770.6h0M946.1,757h0M1003.6,770.9h0M959.6,763.6h0M939.6,779.7h0M1026.1,755h0M992.5,751.8h0M945.4,772.1h0M935.7,757h0M983.1,750.1h0M960.9,765.8h0M1078,761.9h0M945.3,761.9h0M1059.8,755.5h0M944.7,753h0M1218.2,795.7h0M1018.4,750.3h0M1058.9,765.5h0M1053.2,756.2h0M1021.2,762h0M945.1,742h0M944.8,753.4h0M957.8,746.2h0M1083.3,766.8h0M968.5,765.8h0M994.5,765.9h0M968.1,760.8h0M938.3,764.7h0M948.8,755.9h0M1031.3,769.4h0M998.3,758.9h0M938.2,751.6h0M943.2,765.5h0M960,759.9h0M938.9,754.4h0M1110.8,754.7h0M1041.8,763.8h0M1109.2,751h0M942,763.3h0M947.8,767.1h0M982.7,768.8h0M967.5,752.1h0M1055,766h0M1143.6,739.2h0M960.6,778.3h0M939.9,769.9h0M944.7,762.3h0M947.2,742.7h0M963.7,764.5h0M960.1,761.9h0M954.8,769.8h0M1068.9,765.3h0M943.4,726.4h0M1023.7,757.1h0M933,765h0M1035.2,766.8h0M964.9,758.1h0M1127.7,762.1h0M936.6,758.4h0M946,743.7h0M959.5,762.6h0M1006.8,757.5h0M1088.6,744h0M1003,755.6h0M965.6,761.5h0M1123.1,746.5h0M984.1,754.2h0M1037.8,758.5h0M1020.7,759.3h0M963.6,766.4h0M939.4,720.7h0M981.1,759.7h0M943.2,757.8h0M1074.4,764.5h0M991.4,758.6h0M986.4,751.7h0M1009.8,762.8h0M1013.6,761.7h0M1079.4,747.7h0M1079,762.5h0M1021.7,763.4h0M1094.9,758.8h0M1108,742.9h0M1101.7,753.2h0M1097.6,765.3h0M939.9,769.3h0M993.5,756.7h0M952.7,755h0M935.4,740.7h0M1065.1,752.2h0M1010.5,774.1h0M990,754.3h0M1039.1,762.5h0M1097.2,753h0M1003.9,766.1h0M1018.1,758.2h0M984.2,759.4h0M1067.1,756.6h0M972.8,761.4h0M1024.5,742.9h0M1001.6,757.9h0M1132.5,761.1h0M976.1,751.3h0M939.5,763.3h0M1106.4,754.3h0M1005.2,760.5h0M1123.2,765.2h0M1001.8,761.1h0M1051.7,755.5h0M1040.4,760.2h0M1113,769h0M939.5,759.9h0M1054.2,766.9h0M1071.8,766.8h0M986.9,753.8h0M955.7,746.5h0M1117.7,749.9h0M961,764.2h0M964.4,770.5h0M1027.7,759.1h0M1008.8,761.7h0M986.6,740h0M994,767h0M941.6,742.5h0M1061.6,757.6h0M1025.7,766.3h0M1030,761h0M996.2,764.5h0M1151.2,761h0M1099.7,788.2h0M976.3,760.4h0M1017.3,757.3h0M1089.7,767.1h0M1050.3,758.4h0M950.1,756.3h0M1209.7,735.4h0M1201.1,740h0M1135,745.7h0M1067.3,759.9h0M949.8,747.9h0M979.9,756.1h0M957.9,768.2h0M940.7,752.9h0M962.1,760.6h0M940.2,763.6h0M1098.9,771.8h0M1005.5,770.5h0M1040.5,752h0M1038.6,756.9h0M1063.4,750.8h0M1133.7,784.5h0M1095.6,748.8h0M1235,772.1h0M941.6,761.9h0M1147,746.9h0M1098.9,767.2h0M973.2,757.3h0M1057.2,755h0M1004.8,754.7h0M933.2,775.2h0M1010.2,758.2h0M1074.6,765.7h0M941.6,760.8h0M943,749.6h0M1155.9,751.1h0M1054.1,762.6h0M1046.8,773.2h0M1019.4,758.6h0M1049.7,760.7h0M994,754.5h0M1039.5,758.2h0M945.8,754.8h0M1174.6,753.2h0M939,747.1h0M1046.7,754.2h0M1227.2,743h0M984.7,760.8h0M971.7,746.4h0M943.9,757.9h0M956.8,748.8h0M954.4,749.4h0M943.7,779h0M989.2,762.1h0M947.4,762.3h0M1002.3,757.9h0M1005,759.9h0M1018.6,755.2h0M974.4,755.9h0M993.5,761.4h0M1108.2,768.4h0M1042,770.7h0M1007.1,757.8h0M960.2,761.1h0M1162.8,748.4h0M942.9,753.7h0M987.8,757.3h0M1022.6,757.4h0M969.6,762.7h0M998.2,761.6h0M942,749.6h0M993.7,757.6h0M953.5,766.9h0M1036.8,766.8h0M942.4,752.9h0M1092.9,752.7h0M1112.7,766.6h0M939.8,764.2h0M1072.6,776.5h0M1074.1,772.9h0M945.9,755.5h0M1041.3,753.1h0M962.4,764.4h0M936.1,750.2h0M970.3,760.3h0M941.6,771h0M953.1,759.2h0M1026.6,764.2h0M1050.9,761.6h0M994.4,761.1h0M965.1,748.1h0M942.1,762.4h0M934.1,753.9h0M1025.8,771.1h0M1037.8,776.2h0M1032.2,757.6h0M946.1,745.3h0M958.3,773.6h0M950.9,756.4h0M962.2,771.6h0M958.3,772.5h0M950,760.7h0M1017.2,772.6h0M936.8,778h0M981,754h0M943,759.6h0M1135.6,765.3h0M1008.4,756.3h0M1072.4,757.6h0M1117.9,765.3h0M1099.4,763.8h0M1115.5,765.7h0M1136,791.7h0M1062.4,765.7h0M937.4,762.3h0M980.7,774.9h0M1105.1,752.1h0M1021.4,770.1h0M950.7,757.6h0M965.3,767.5h0M1020.3,741.3h0M1011.1,763.9h0M989.4,752h0M990.8,761.5h0M1027,755.2h0M1144.4,751.8h0M1130.6,796.6h0M937.9,749.9h0M935.8,756.9h0M956.8,761.3h0M1018.5,769.5h0M1024.7,769.3h0M1124,747.7h0M1030.2,767.1h0M996.2,764.9h0M983.3,760.7h0M1098.8,750.7h0M990.1,758.5h0M986,756.5h0M1128.9,770h0M1040.4,767.4h0M948.7,749.2h0M949.3,751.5h0M1107.1,760.1h0M963.9,743.9h0M1087,757.9h0M946.3,759.8h0M1092.7,756h0M1081,761.8h0M938.6,757.7h0M947.2,765.7h0M947.5,761.4h0M935.9,756.3h0M1028.1,748.6h0M931.7,765.1h0M1012.6,766.1h0M959.1,758.5h0M1136.3,779.4h0M938,760.8h0M1193.2,778.7h0M958.7,756.1h0M944.8,752.3h0M1034,765.4h0M1008,757.2h0M1053.4,757.8h0M947.7,753.4h0M1215.9,752.2h0M943.8,772.3h0M1045.5,753.5h0M982.7,759.3h0M935,749.9h0M932.2,731.1h0M950,753.5h0M1017.7,768.2h0M977.5,754.3h0M946.4,752.8h0M970.7,759.8h0M1063.1,766.9h0M937.4,749.2h0M1007.8,758.2h0M983.7,757.8h0M946.8,736.9h0M943.5,738.8h0M1218.1,724.7h0M979.8,755.1h0M942.2,771.7h0M974.3,743.5h0M936,753.9h0M1092.8,756.9h0M1114.9,765h0M985.5,755.3h0M931.5,773.1h0M1094.2,738.4h0M966,750.8h0M989.4,757.7h0M958,759.9h0M937.8,770.6h0M1155.4,788.6h0M949,761h0M1063.8,760.4h0M945.1,758.9h0M1039,753.9h0M1031.7,762.5h0M1089.1,726.2h0M946.6,746.9h0M1072.3,770.9h0M944.7,749.5h0M991.3,761.2h0M956.8,765.2h0M1141.1,742.4h0M931.6,758.3h0M964,757.5h0M1035.7,753.5h0M1007.3,763.1h0M1141.9,753.8h0M935.8,755.7h0M1174.4,755.6h0M1026.4,751.9h0M949.8,758.5h0M1232.7,754.7h0M973.4,757.7h0M938,748.5h0M1108.7,768h0M966.7,760.4h0M953,758.4h0M970.4,758.4h0M974.6,751.4h0M1035.5,765.5h0M1142.6,785.9h0M1100,753.3h0M986.1,751.9h0M1123.1,770.8h0M954.7,753.9h0M1018.2,771.3h0M1000.3,758.9h0M953.8,774.8h0M1103.7,755.4h0M1114.7,765.1h0M941.4,764.1h0M947.3,755.9h0M989.7,756.4h0M961.9,761.4h0M1003.6,780.7h0M945.5,757.6h0M1052.3,760.7h0M935.7,774.9h0M943.5,757.7h0M1013.6,764.6h0M995.4,756.9h0M936.8,754.8h0M941.2,748.5h0M958.6,776.6h0M952.4,767h0M975.8,758h0M998.9,757.7h0M1018.3,757.1h0M959,757.8h0M1061.1,752.2h0M1011.8,763.2h0M956.8,770.1h0M1068.3,757.9h0M933.3,761h0M1044.1,766.8h0M971.1,761.4h0M1085.8,758.4h0M1204.3,781.2h0M1029.9,763.6h0M1021,768.1h0M935.7,739.4h0M1005.7,761.2h0M975.3,761.7h0M988.6,761.5h0M1122.8,742.4h0M984.8,751.6h0M1140.5,758.6h0M971.4,763.1h0M943.5,747.3h0M998.6,755.7h0M939.4,767.7h0M990,761.1h0M1038.2,764.7h0M956.7,764.2h0M989.4,744.3h0M944.7,749.4h0M985.5,754.6h0M946.1,757h0M1113.2,770.3h0M981,760.1h0M992.6,762.3h0M969.2,766.5h0M974.7,760.1h0M946.6,761h0M932.9,733.4h0M1003.9,766.5h0M932.9,748.9h0M1157.2,752.5h0M1005.1,760h0M1082.9,756.9h0M937.7,761.7h0M1015.3,758.3h0M983.5,757.4h0M1019,753.5h0M1034.9,763.8h0M958.2,765.3h0M1261.8,722h0M958,748.5h0M953.3,764.9h0M1016,760.5h0M982.3,751.2h0M1053,766.7h0M949.6,760.7h0M935.4,738.3h0M1025.6,748.5h0M1005.3,758.4h0M970.7,758.7h0M1264.8,736.2h0M1015.4,755.1h0M1081.1,766.9h0M1011,762.8h0M940.5,766.6h0M963.5,766.4h0M935.2,768.3h0M1106.1,788.6h0M1071.5,755.8h0M1003.9,770h0M999.3,740.6h0M1013.8,752.2h0M1108.4,760.5h0M1010.1,752.5h0M1012.5,753.6h0M948.2,758.6h0M951.4,754h0M942,757.7h0M956.2,760.3h0M951,769.3h0M940.3,753.7h0M935.9,752.6h0M987.6,760.2h0M961.8,759.8h0M1003.1,754.3h0M1076.3,764.3h0M967.5,751.9h0M959.2,760.5h0M939.9,738.8h0M1117.2,759.7h0M976.3,759.9h0M1008.3,763.8h0M1042.5,769.5h0M952.6,769.6h0M985.2,761.7h0M984.4,754.8h0M1063.1,766.8h0M940.5,748.2h0M941.9,763.3h0M942.5,757.6h0M1122.8,754.4h0M972.9,757.5h0M992.5,765.1h0M937.1,760.1h0M946.4,748h0M1116.4,740.8h0M982,768h0M944.6,745.6h0M1035.5,749.8h0M1046,753.5h0M1019.4,766.3h0M1084,757.9h0M940.6,760.1h0M951,748.1h0M957.3,754.3h0M1051.1,762.5h0M1024.3,753.3h0M986.1,762.2h0M944.1,760.2h0M956.3,750.1h0M1013.6,766.9h0M979,758.5h0M958.2,769.2h0M1141.4,729.4h0M972.5,753.2h0M944.7,758.9h0M939.9,753.9h0M971.8,765.8h0M1046.5,763.2h0M977.1,752.6h0M967.1,760.8h0M989.4,764.3h0M958.8,756.4h0M1027.6,760.9h0M940.6,760.8h0M1118.7,760.8h0M940.5,756.1h0M974.7,758h0M963.5,758h0M945.2,755.5h0M947.5,752.9h0M960.2,760.4h0M1033,756.1h0M1103.9,768.7h0M1035.8,765.2h0M992,761.1h0M1047.8,766h0M1074.3,741.8h0M993.3,758.4h0M1111.7,758.4h0M980.3,758.4h0M1007.3,751.9h0M1006.6,750.5h0M1090.4,767.1h0M1118,754.7h0M963.3,760.7h0M987,765.5h0M943.1,750.4h0M1094.1,754.5h0M1263.8,743.3h0M944.5,756.8h0M988,769.3h0M1009.6,753.1h0M941.9,758.9h0M954.6,762.8h0M978.4,756.2h0M1000.6,758.5h0M1001,754.1h0M959.1,744.1h0M1152.2,748.6h0M989.1,763.7h0M968.5,756.6h0M1066.1,765.4h0M934.2,759.5h0M934.1,769h0M1200.8,732h0M1187,771.7h0M959.8,761.5h0M989.5,758.7h0M981.6,753.5h0M1006.5,755.9h0M1024.6,759.1h0M1055.3,772.1h0M1015,757h0M1071.5,769.6h0M1004.4,756.9h0M939.8,740.8h0M1023.5,764.2h0M1068.1,759.3h0M978.6,758h0M988.6,755.6h0M943.6,771.2h0M962.9,775.5h0M997.9,770.6h0M946.4,752.6h0M954.5,771h0M1019.8,761.9h0M935.1,759.7h0M948.3,770.7h0M1138.4,724h0M1018.2,756.6h0M1081.5,769.9h0M1077.3,749.7h0M1232.1,749.3h0M1125.4,749.7h0M1105.1,766.3h0M1065.1,759.7h0M1058.4,754.1h0M997.8,765.8h0M1028.3,757.6h0M1099.8,767.7h0M1020.3,770.2h0M964.3,766.3h0M962.5,758.7h0M966.8,763.6h0M933.3,760.3h0M1151.1,760.7h0M1011.5,748h0M1004.2,762.3h0M1025.2,758.6h0M931.3,754.6h0M1155.3,767.1h0M1002.1,751.9h0M952.4,760.5h0M1083.7,766.3h0M948.7,772.4h0M965.8,758.8h0M949.4,723.5h0M980.7,759.5h0M1232.5,769.1h0M1088.2,760.6h0M1063.7,760.8h0M1067.2,759.6h0M988.6,765.3h0M1019.5,768.2h0M937.2,750.7h0M947.2,775.2h0M988.8,759.7h0M995.5,761.4h0M971.6,767.9h0M940.1,763.5h0M1042,758.7h0M983.3,755.7h0M940,756.7h0M950.3,767.5h0M1002.8,756h0M958.4,772.6h0M974.6,763.1h0M1062.9,761.7h0M1076.6,761.2h0M1047.4,757.7h0M1040.6,756.7h0M1153.1,750.2h0M1105.5,758.8h0M936.9,752.6h0M938.9,750.6h0M980.1,756.7h0M998.9,759.8h0M939,719.3h0M963.8,763.7h0M942.2,760.5h0M1013.7,763.4h0M938,760.1h0M1011.4,765.7h0M934.3,759.1h0M1093.8,748.7h0M1166.3,742.6h0M1004.9,767.1h0M956.8,763.9h0M953.5,753.4h0M965.3,755.9h0M1018.5,755.9h0M992.4,765.4h0M1038.1,757.5h0M951.2,770.2h0M1041.1,762.6h0M1148.4,731.1h0M1098.6,752h0M1127.9,744h0M939,762.2h0M971.3,757.1h0M995,755.9h0M999.3,760.9h0M1026.6,760.3h0M964.5,734h0M1045.5,760.8h0M981,743.3h0M939.1,745.3h0M996.2,765.5h0M937.4,755.1h0M940.3,763.8h0M995.1,763.9h0M983.1,757.5h0M936.7,749.2h0M966.4,759h0M1106,766.5h0M947.6,759.2h0M964.8,760.6h0M998.4,764h0M962.4,757.1h0M972,761h0M1055.4,780.4h0M993.9,753.8h0M954.8,759.1h0M946.7,755.8h0M943.5,757.8h0M1151.2,731.6h0M954,760.9h0M1029.5,774h0M1018.2,762.2h0M955.1,755.2h0M959.7,770.5h0M1204.4,756.2h0M1005.1,756.1h0M962.4,767.9h0M1108.6,745h0M965.7,766.1h0M957.7,765.4h0M936.4,750.8h0M981.9,760.4h0M985.9,765.8h0M946.2,752.8h0M933.6,758h0M948.4,762.4h0M990.8,757.7h0M1100.9,757.9h0M1148.1,735.2h0M991.4,755.6h0M947.1,738.7h0M991.8,754.7h0M952.7,783.6h0M994.8,766h0M956.3,743.6h0M992.9,752.3h0M952.7,768.2h0M990.2,748h0M994,760.9h0M978.5,755.4h0M989.5,753.7h0M976.1,752.3h0M1100.5,767.5h0M1032.1,761.2h0M1166.9,762.5h0M1121.3,774.9h0M1118.2,758.6h0M947.6,755h0M939.2,743.5h0M958.7,767.7h0M1001.7,783.7h0M1013.7,757.1h0M941.2,753.4h0M1085.9,766.7h0M969.2,767.9h0M940.3,756h0M1062,759.1h0M1053.5,760.7h0M1006.7,757.1h0M949,758.5h0M1089,777h0M1027.9,767.3h0M1143.5,776h0M963.2,757.3h0M951,747.9h0M940.3,760.9h0M996,754.8h0M1037.9,761.2h0M995,755.2h0M978.4,757.9h0M956.3,749.7h0M944.9,766h0M998,760.8h0M1013.4,760.9h0M1103.7,759.7h0M956.1,733h0M960.3,756.1h0M969.5,763.3h0M941.9,762.4h0M1144.6,763.1h0M935.9,763.1h0M1119,763.3h0M985.7,763.2h0M1034.2,761.9h0M948.2,744.9h0M1116.4,756.7h0M996.6,770.1h0M1100,763.7h0M1062,757h0M942.9,758.2h0M959.8,737.7h0M952.4,737.1h0M1076,766.6h0M942,756.6h0M1144.2,753.4h0M1043.5,753.8h0M1125.5,730.1h0M966.1,755.2h0M952.3,766.2h0M947.7,748.2h0M1007.8,754.8h0M1186.2,740.9h0M979.4,757h0M1001.1,755.4h0M1126.8,766.9h0M935.9,742.6h0M950,762.2h0M952.7,750.9h0M963.1,760.6h0M940.3,749.7h0M1058.7,764.8h0M1113.8,766.1h0M957.5,751.3h0M989.2,758.1h0M1113.3,761.3h0M997.4,755.4h0M1068,762h0M1043.4,763.3h0M1196.3,739.1h0M962.3,768h0M948.3,755.1h0M977.2,763h0M945.3,738.3h0M955.7,763.4h0M1087.5,767.4h0M947.4,758.8h0M1055.5,758.7h0M1129.5,749.2h0M1124.6,757.5h0M945.3,741h0M1144.9,745.7h0M1061.8,754.4h0M936.9,754h0M1010.8,752.1h0M944.1,765h0M933.7,759.3h0M984.8,759.6h0M955.7,751.2h0M957.5,762.8h0M959.3,753.2h0M996.7,766.6h0M942.8,761h0M957.1,745.9h0M952.8,744.4h0M1013,761.2h0M1006.6,766.5h0M935.3,759.9h0M960.5,761h0M1001.9,744.9h0M1010.9,759.4h0M960.3,765.2h0M1000.3,757.7h0M989.6,754.6h0M1082.5,765.7h0M948.5,761.2h0M991.4,758.1h0M1032.2,760.2h0M970.9,750.4h0M937.2,754.2h0M1028.4,765.7h0M989.1,761.1h0M944.5,752.2h0M940.6,748h0M990.1,749.2h0M1154,781.1h0M951.2,742.3h0M1013,756.7h0M951.2,742.8h0M933.9,752.4h0M1001.7,756.3h0M1123.9,752.4h0M943.6,744.4h0M957,780.4h0M939.9,766.9h0M963.8,758h0M985.5,764.6h0M932.1,761.5h0M1234.3,755.5h0M1005.4,760.3h0M973.2,756.2h0M960.8,757.4h0M1045.9,757.5h0M931.7,731.5h0M970.6,777.2h0M1132.9,776.5h0M1265,755.5h0M937.1,745h0M992.6,763.7h0M945.8,783.4h0M1014.9,745.9h0M967.9,758.9h0M1005.8,757.9h0M981,756h0M1060.1,764.6h0M1162.2,750.3h0M933,731.1h0M997.4,761h0M946.8,746.4h0M1005.8,758.6h0M999.2,757.9h0M959.6,751.9h0M935.2,766.4h0M997,764.7h0M1031,759.2h0M1002,756.8h0M1002.2,759.6h0M1086.6,760.9h0M944.6,742h0M939.2,759h0M995.7,758.9h0M992.3,757.9h0M994,762.2h0M936.5,757.7h0M966.3,751.1h0M967.2,748.9h0M944.7,780.3h0M958.2,759.6h0M1103.2,763.6h0M945.1,748.4h0M932.7,766.6h0M960.5,752.9h0M1090.2,736.3h0M1076.4,760.4h0M942,769.3h0M948.1,759.5h0M1033.8,758.8h0M963.3,756.6h0M971,761h0M952.3,774.6h0M950.6,767.1h0M979.9,768.1h0M1021.8,759.8h0M1146.1,773.5h0M1095.3,751.4h0M1134.5,730.4h0M1088.7,753.6h0M992.2,759.3h0M1124.4,760.8h0M937.8,749.2h0M1089,772.9h0M1087.6,761.5h0M952.2,759.8h0M939.6,750.8h0M1193.2,734.1h0M950.8,754.2h0M1057.4,751.2h0M980.1,759.8h0M1003.3,765.6h0M972.1,756.5h0M1116.7,750h0M1023.5,751.7h0M1108.3,755.8h0M938.8,748.4h0M981.3,761.4h0M1002.1,756.2h0M973.5,753.7h0M1150.9,742.2h0M987.9,753.4h0M943,749.3h0M1001.9,754.6h0M961.8,761h0M984.7,762.4h0M953.2,748.2h0M970.2,763.5h0M937.7,769.3h0M936.7,762.1h0M1095.9,763.3h0M1052,754.3h0M1073.4,767.8h0M982.3,757.7h0M934.9,767.5h0M938.3,741.9h0M937.5,757.4h0M950.4,763h0M1042.6,766h0M1250.6,711h0M985.7,761.3h0M1023.4,758.7h0M1047.3,760h0M936.2,747.3h0M983.7,754.1h0M988.3,757.6h0M981.5,758.7h0M953.6,755.4h0M1000.2,741.3h0M965.9,768.4h0M1075.3,754.3h0M1133.4,765.5h0M1132.9,791.4h0M1093.6,762.5h0M1025.2,766.1h0M1115.9,764.7h0M1047,761.6h0M980,753.3h0M1015,757.8h0M990.8,763.8h0M1101.9,762.8h0M987.9,755.9h0M1138.5,751.8h0M941,741.3h0M1098.1,764.5h0M957.5,755.2h0M1037.5,764.9h0M1103,745.2h0M975.7,755.8h0M964,724.7h0M973,756.7h0M1050.1,778.2h0M982.4,757.3h0M1124.2,777.4h0M1003.4,750.4h0M1109.8,763.3h0M942.1,758.3h0M938.7,780.1h0M1042.1,750.1h0M957,765.2h0M1079,765.3h0M1237.7,747.2h0M947.8,759.9h0M1086.9,763.9h0M952.9,753.3h0M1099.5,744.2h0M951.3,769.2h0M1021.1,756.3h0M943.7,759.8h0M939,754.7h0M944.8,758h0M963.7,755.7h0M944.9,770.6h0M967.7,767.2h0M953.7,748.2h0M1001.5,750.8h0M966.1,759.5h0M977,777.8h0M1118.2,774.8h0M946.7,759.6h0M969.2,756h0M1000,761.4h0M1078.7,760.4h0M974.5,749.6h0M1061.5,758h0M1020,753.3h0M1084.4,765.5h0M939.6,759.8h0M1019.5,759.1h0M944.6,753.1h0M1007.3,757.8h0M1017.8,766.6h0M946.4,738.6h0M1076.7,763.9h0M1003.6,756.6h0M950.2,766.9h0M1049.7,767.2h0M946.9,752.9h0M934.5,754.5h0M937.5,770.7h0M970.6,759.1h0M1114,766h0M1005.1,759.2h0M1236.6,756.2h0M1004.1,749.2h0M941.7,763.5h0M933.3,746.7h0M991.2,757.9h0M950.1,754.8h0M1123.9,776.5h0M951.3,768.7h0M975.4,748h0M1004.3,751h0M1052.4,752.5h0M1134.8,746.9h0M976.7,755.5h0M1212.4,731.9h0M1035.8,753.3h0M1095.4,758.3h0M1044.3,750.3h0M1158.5,754.9h0M981.7,763.1h0M941.7,752.5h0M1002.6,761.3h0M941.7,756.1h0M965.4,753.4h0M972.3,758.4h0M978.1,764.6h0M951.2,750.6h0M1133.2,742.9h0M1141.4,780.9h0M1006.9,754.4h0M985.2,755.9h0M999.8,753.8h0M959.4,762.8h0M966.1,761.1h0M937.3,770.2h0M934.9,763.3h0M1082.2,761.9h0M939.6,755.9h0M1086.1,756h0M1023.9,760.9h0M979.9,754.3h0M1033.6,757.5h0M937.4,754.7h0M964.2,755.2h0M1064.7,776.3h0M1018.6,765.8h0M966.5,761.5h0M951.6,755h0M981.1,759.1h0M937.1,760.1h0M1008.1,757h0M1009,765.8h0M1085.9,796.2h0M1032.7,761.1h0M969.9,755.4h0M993.6,760h0M948.6,753.7h0M992.2,758.7h0M1089.8,754.1h0M970.1,763.1h0M1015.3,764.1h0M947.7,756.4h0M1150.2,757.5h0M960.9,757.3h0M1053.7,769.2h0M984.8,763.8h0M948,745.8h0M1017,760.9h0M948.6,757.8h0M993.9,762.8h0M1117.9,768.6h0M948.8,764.9h0M947,756.8h0M993.7,753.9h0M1035.2,764.6h0M1026.1,759.1h0M954.7,764.1h0M1105.7,760.8h0M1005.1,757.4h0M1001.7,758.6h0M961.1,757h0M1058.7,761h0M954.8,741h0M1149.1,760.2h0M936,748.3h0M1071,763.6h0M963.2,742.2h0M933.6,755.5h0M940.1,754.9h0M996.7,748.9h0M948.4,751.5h0M1149.3,772.6h0M943,766.2h0M965.9,765h0M1171.9,731.6h0M995.3,759.1h0M1114.2,764.4h0M948.9,758.8h0M1147.6,765.1h0M936.2,756.1h0M1036.3,755.9h0M1113.9,788.4h0M1044,759.7h0M937.3,771.5h0M1053.9,768.8h0M989.1,748.3h0M1140.6,758.8h0M1158.3,778.8h0M965,731.8h0M990.4,762.5h0M1010.2,763.7h0M967.3,752.7h0M976,753.8h0M1099.2,771.2h0M962.5,778.4h0M962.8,768.8h0M999,754.8h0M1140.6,745.5h0M933.5,774h0M1021.1,762.6h0M1140.4,768.4h0M984.6,764.4h0M990.7,754h0M1012.7,765.7h0M949.9,765.5h0M977.2,756.1h0M1011.7,756.2h0M1128,754.3h0M1080.4,759h0M1059.8,759.4h0M991.3,754.5h0M1056.7,765.2h0M959.2,766.3h0M985,752.9h0M1003.9,767h0M943.4,761.4h0M1057.4,766.9h0M1038.2,757.2h0M995.2,755.2h0M1086.2,768h0M1002.5,765.7h0M1016.6,759.3h0M965.7,762.5h0M1141.2,768.3h0M967.5,760.3h0M1018.3,766.5h0M1080.5,771.7h0M1019.2,751.9h0M948.7,761.5h0M1057.9,767.2h0M1076.2,780.5h0M1087.1,756.7h0M986.1,764.6h0M1062.2,760.2h0M1027.4,758.4h0M990.3,761.2h0M1153.3,778h0M944.4,756.1h0M1040.1,757.9h0M970.6,760h0M943.2,739.9h0M934.9,758.9h0M952,755.3h0M1014.1,761h0M944.5,772.1h0M949.7,754h0M984.6,751.5h0M1099.1,756.3h0M948.3,760.6h0M973.2,756.7h0M988.6,756.1h0M1030.3,773.5h0M1112,759.8h0M1121.7,757.8h0M947.8,753.6h0M1041.2,760.2h0M968.5,756.6h0M933.5,720.6h0M1157.8,778.5h0M1118.7,758.1h0M1096.1,759h0M986.3,760.9h0M1107.5,757.2h0M967.3,757h0M966.1,781.2h0M1022.2,762.5h0M1045,754.3h0M960.2,758.9h0M1044.8,759h0M944,727.9h0M939.1,755h0M998.6,760.6h0M986.8,739.8h0M1082.7,762.4h0M1061.6,765h0M976.6,755.7h0M1020.3,750.5h0M982.4,759.1h0M1070.3,763h0M1061.2,760.9h0M950.8,751h0M1130.4,749.2h0M1026.6,764h0M1017,752.7h0M1014.5,781.3h0M1156.7,769.3h0M942.4,744.5h0M1128.7,777.8h0M1172.9,725.7h0M996,759.7h0M960.5,772h0M958.1,744.7h0M941.6,759.6h0M989.9,763.2h0M1130.3,773.4h0M939.6,753h0M1067.9,763.6h0M1086.5,762.5h0M1037.5,766.6h0M1078.7,750.9h0M971.8,757.9h0M1012.6,755.2h0M998,752.8h0M1098.8,785.2h0M1108.7,760.2h0M990.3,740.7h0M934.8,753.4h0M1002.2,758.9h0M1128.5,751.6h0M965.8,745.8h0M962.8,756.8h0M948.3,755.2h0M955.9,759.7h0M1207.6,726.5h0M989.7,754h0M964.6,740.2h0M966.4,765.1h0M948.6,748.6h0M1213.7,756h0M942.5,756.5h0M1086.5,777.2h0M950.2,765.2h0M941.9,754.1h0M987.6,751.9h0M967.3,757.4h0M967.3,755.5h0M966.8,761.8h0M992.4,763.2h0M1029,760.8h0M1056.4,759.8h0M1015.1,755.4h0M1054.2,731.1h0M1074.3,767.5h0M1016.6,757.3h0M1218.6,747.7h0M1207.3,751.6h0M1127.7,763.2h0M982.5,759.6h0M988.5,760.4h0M1028.3,760.9h0M1095.3,768.5h0M1115.7,786.9h0M1104.8,755.7h0M968.5,754.5h0M968.8,756.6h0M1022,762.6h0M1074.2,751.4h0M943.3,763.5h0M970.9,766.1h0M932.9,753h0M959.9,754.7h0M974.3,762h0M1223.5,748.7h0M950.8,758.4h0M998.3,762.5h0M1023.1,760.4h0M1250.6,746h0M1014,766.5h0M934.9,758h0M1010.3,755.5h0M982.3,754h0M1231.9,753.6h0M979.3,763.6h0M1152.2,760h0M982.6,768.2h0M964,749.6h0M980.2,756h0M1112.7,770h0M1039.9,757.9h0M951.2,754.2h0M969.2,761.9h0M1097.4,764.4h0M961.3,760.4h0M960.3,753.9h0M938,762.6h0M992.3,766.6h0M940.5,757.4h0M1251.1,738.6h0M1000.9,766.2h0M1087.8,764.3h0M944.8,763.4h0M997.8,761.5h0M985.2,764.5h0M1003.5,744h0M1011.4,764.5h0M1081.4,758.6h0M1154.3,773.4h0M956.4,764.4h0M982.4,756.8h0M943,746.3h0M936.4,763.8h0M962.6,781.2h0M940.4,761.2h0M939.4,780.3h0M936.9,751.7h0M1116.9,734.9h0M1010.4,756.7h0M1018.4,761.3h0M1010.6,764.9h0M948.4,750.3h0M1010.7,759.3h0M1043.2,757.4h0M1055.8,764.2h0M932.2,760.6h0M1067.4,759.3h0M1058.9,760.3h0M965.8,761.5h0M943.9,739.5h0M948.8,747.1h0M1031.6,755.3h0M934.2,752.3h0M1121,770.6h0M978.1,751.4h0M1086.7,784.4h0M938.8,752.5h0M1060.1,762.5h0M1005.8,762.2h0M999.1,760.2h0M1241.6,791.3h0M931.8,747.2h0M1196.3,770.7h0M935.5,755.3h0M974,758h0M1121,755.2h0M942.3,729.8h0M1112.9,762.1h0M1091.4,766h0M996.1,757.4h0M944.6,749.6h0M1042.9,753.5h0M945.9,750.7h0M937.2,753.1h0M979.4,749.4h0M984.9,759h0M1125.3,760.2h0M953.3,757.5h0M938.5,724.7h0M1042.8,757.7h0M1044.2,759.2h0M941.2,751.7h0M969.5,763h0M972.9,762h0M982.2,757h0M1232.1,757.4h0M1127.3,753.9h0M1059.6,768.8h0M968.8,762.6h0M1050.4,767.4h0M935.6,762h0M998.8,758.8h0M970.9,761.3h0M1006.8,763.8h0M992.6,769h0M1041.8,754h0M956.7,755.2h0M1141.4,784.9h0M1242.1,711.8h0M1055.5,775.6h0M931.2,749.7h0M1129.9,758.3h0M1064.3,766.5h0M987.4,750.1h0M1047.7,760.5h0M992.3,759.2h0M945.8,755.4h0M998.1,747.2h0M968.9,757.6h0M990,764.4h0M945.4,761.7h0M939.5,758.6h0M1034.3,754.7h0M1015,754.1h0M944.3,763.8h0M1110.2,765.9h0M1104.9,756.4h0M1011,764.6h0M1145.2,759h0M1076.2,755.4h0M1024.3,767.4h0M967.2,764h0M977.5,766.2h0M943.1,755.1h0M1017.8,765.6h0M995.5,757.1h0M956.4,763.1h0M1251.7,730.7h0M1026.2,764.1h0M1005.8,760.5h0M965.4,758.9h0M975.3,754.1h0M1012.9,758.3h0M1042.4,753.3h0M1034.2,759.3h0M975.4,756.3h0M1105.6,775h0M1240.8,752.3h0M1086.3,765.8h0M983.8,767h0M940.7,772.5h0M1042,761.2h0M1132.4,731.6h0M957.1,748.9h0M1141.5,722.1h0M1020.9,756.4h0M1016.1,749.7h0M954.1,753.8h0M944.6,789.3h0M1001,761.5h0M1059.7,766.9h0M934.4,759.6h0M982.1,762.5h0M940.9,770.8h0M1007.5,759.9h0M938.1,781.7h0M966.7,760h0M1038.2,764.4h0M947.8,753h0M953.8,764h0M977.8,759.3h0M947.9,753.3h0M956.3,761.2h0M1112.7,755.2h0M1004.7,751h0M952.9,751.3h0M933.3,754.1h0M1042.3,758h0M971.3,759.6h0M1020.1,759.7h0M1045,762.7h0M949.8,763.8h0M1112.2,755.8h0M951.5,760.7h0M998.9,759h0M991.9,755.4h0M978.8,749.6h0M1032,759.6h0M1260.1,726.2h0M1045.8,762.4h0M1012.8,761.1h0M968.5,758.5h0M980.6,760.3h0M1028.1,759.4h0M1083.2,747.8h0M1118.8,764.5h0M1059.3,762.1h0M1031.1,767.4h0M938.2,760.9h0M1102.2,759.1h0M1013.1,764.7h0M945.5,752.2h0M982.2,761.1h0M1015,753.7h0M948.9,762.7h0M1023.8,764.5h0M991.2,770.2h0M987.4,755.1h0M1113.3,765.7h0M996.7,753.3h0M970.9,755h0M980.6,783.4h0M1129.2,771.9h0M970.1,754.4h0M974.7,756h0M1129.6,767.9h0M968,761.3h0M964.9,752.8h0M951.8,752.6h0M1035.5,756.3h0M968.2,762.3h0M1204.8,732h0M1091.9,747.5h0M937.6,762.5h0M1148.7,732.3h0M1138.3,775.9h0M1050.6,759.9h0M1133.7,770h0M947.1,757.1h0M962.6,748.6h0M966.9,762.4h0M1264.8,723.2h0M986.1,761.6h0M1101.8,755.8h0M992.9,758.2h0M1007.1,755.7h0M979.3,772.9h0M970.4,756.5h0M1003.8,755.3h0M963.2,774.7h0M978.5,783.1h0M1082.9,766.1h0M977.7,763.3h0M1087.4,757.2h0M1098.6,753.7h0M951.2,758.6h0M968.8,763.4h0M1122.8,754.5h0M1051.3,759.5h0M951.7,749h0M1017.4,761h0M1031.4,755.6h0M937.4,757.3h0M983.7,758.7h0M1091.9,769.2h0M944.9,761.4h0M936.6,765.7h0M1105.5,764.8h0M941,779.1h0M1108.5,774.6h0M974,756.5h0M1256.4,729.7h0M1075.3,755.2h0M1010.6,760.1h0M1042.9,758.1h0M1075.6,785.4h0M998.8,754.7h0M1036.6,756.6h0M1058.8,763.4h0M1006,754h0M1069.3,761.3h0M944.5,770.8h0M1063.7,780.2h0M940,769.1h0M949.7,757.4h0M940.2,749.4h0M1023.6,761.5h0M1062.6,761.6h0M990,770.6h0M934.4,768.8h0M1131.7,740h0M950.4,747.8h0M961.1,778.4h0M1043.9,764.6h0M980.8,758.4h0M940.1,784.2h0M965.1,755.2h0M980.8,758.5h0M962,748.9h0M936.1,758.4h0M971,758.2h0M962.7,746.5h0M952.5,757.8h0M951.4,789.5h0M1029.3,759.9h0M964.3,768.3h0M1060.6,752.8h0M1029.4,765.5h0M1114.3,767.2h0M931.8,741h0M993.5,765.1h0M985.1,763.1h0M956.2,758.1h0M1143.9,791.7h0M990.4,756.5h0M1074.8,764.6h0M1139.2,723.2h0M997.2,766h0M939.1,769h0M944.6,758.1h0M939.6,743h0M1045.5,763.1h0M1046.8,756.3h0M1035.5,757.6h0M937.8,774.7h0M1008.9,757.4h0M999.8,752h0M986.5,756h0M961.8,758.8h0M984.2,756.1h0M954.7,763.4h0M1056.3,769.1h0M933.8,770.1h0M1072.4,764.1h0M987.5,765h0M1035.6,768.1h0M1007.2,764h0M1149,744.9h0M1007.1,768h0M1130.1,766.5h0M942.8,746.6h0M948.4,745h0M1135.9,758.6h0M993.7,759h0M1009,764.6h0M936.6,748.4h0M938.5,750.2h0M956.9,751.5h0M1114.1,768.1h0M1014.9,753.3h0M1010.8,759.8h0M981.9,763.2h0M983.7,757.7h0M982.8,762.5h0M962.8,759.2h0M943.2,750h0M934.2,758.8h0M1081,752.2h0M1004.3,761.5h0M935.8,754.1h0M1114.6,756.8h0M1000.4,756.8h0M1098.3,776.4h0M985.5,751.9h0M1199.4,686.2h0M1251.2,809.2h0M1181.6,704.7h0M1142.9,706.8h0M1258.9,710.9h0M1237.2,717h0" stroke="#808080" stroke-opacity="0.72" stroke-width="1.4" stroke-linecap="round" fill="none"/>
<path d="M922.6,758H1278.9" stroke="#bbb" stroke-width="0.6" stroke-dasharray="2.2,1.4" stroke-opacity="0.7"/>
<polygon points="930.4,754.9 949.7,757.4 1007.7,758.7 1085,760.5 1123.6,759.2 1149.1,757 1174.6,752.1 1200.9,747.8 1226.4,743.1 1251.9,739.2 1279,737.2 1279,768.2 1251.9,767.4 1226.4,766.2 1200.9,765.5 1174.6,764.5 1149.1,763.1 1123.6,761.6 1085,761.7 1007.7,759.7 949.7,758.6 930.4,757" fill="#00f" fill-opacity="0.3"/>
<polyline points="930.4,756 938.1,756.8 949.7,758 957.5,759.2 965.2,758.8 980.6,758.3 1007.7,759.2 1046.3,760.7 1085,761.1 1123.6,760.6 1139.1,759.8 1162.3,757.5 1200.9,753.9 1239.6,750.3 1279,746.5" fill="none" stroke="#00f" stroke-width="1.6" stroke-linejoin="round"/>
<circle cx="949.7" cy="758" r="3" fill="#f00"/>
</g>
<rect x="922.6" y="655.5" width="356.3" height="164" fill="none" stroke="#000" stroke-width="0.9"/>
<path d="M930.4,819.5v3.2M969,819.5v3.2M1007.7,819.5v3.2M1046.3,819.5v3.2M1085,819.5v3.2M1123.6,819.5v3.2M1162.3,819.5v3.2M1200.9,819.5v3.2M1239.6,819.5v3.2M1278.2,819.5v3.2M922.6,819.5h-3.2M922.6,799h-3.2M922.6,778.5h-3.2M922.6,758h-3.2M922.6,737.5h-3.2M922.6,717h-3.2M922.6,696.5h-3.2M922.6,676h-3.2M922.6,655.5h-3.2" stroke="#000" stroke-width="0.8"/>
<g class="r" font-size="14.3">
<text transform="translate(930.4,834.6) rotate(0.03) scale(1.1,1)" text-anchor="middle">0</text>
<text transform="translate(969.04,834.6) rotate(0.03) scale(1.1,1)" text-anchor="middle">50</text>
<text transform="translate(1007.69,834.6) rotate(0.03) scale(1.1,1)" text-anchor="middle">100</text>
<text transform="translate(1046.34,834.6) rotate(0.03) scale(1.1,1)" text-anchor="middle">150</text>
<text transform="translate(1084.98,834.6) rotate(0.03) scale(1.1,1)" text-anchor="middle">200</text>
<text transform="translate(1123.62,834.6) rotate(0.03) scale(1.1,1)" text-anchor="middle">250</text>
<text transform="translate(1162.27,834.6) rotate(0.03) scale(1.1,1)" text-anchor="middle">300</text>
<text transform="translate(1200.91,834.6) rotate(0.03) scale(1.1,1)" text-anchor="middle">350</text>
<text transform="translate(1239.56,834.6) rotate(0.03) scale(1.1,1)" text-anchor="middle">400</text>
<text transform="translate(1278.2,834.6) rotate(0.03) scale(1.1,1)" text-anchor="middle">450</text>
<text transform="translate(918.8,825.5) rotate(0.03) scale(1.1,1)" text-anchor="end">−0.6</text>
<text transform="translate(918.8,805) rotate(0.03) scale(1.1,1)" text-anchor="end">−0.4</text>
<text transform="translate(918.8,784.5) rotate(0.03) scale(1.1,1)" text-anchor="end">−0.2</text>
<text transform="translate(918.8,764) rotate(0.03) scale(1.1,1)" text-anchor="end">0.0</text>
<text transform="translate(918.8,743.5) rotate(0.03) scale(1.1,1)" text-anchor="end">0.2</text>
<text transform="translate(918.8,723) rotate(0.03) scale(1.1,1)" text-anchor="end">0.4</text>
<text transform="translate(918.8,702.5) rotate(0.03) scale(1.1,1)" text-anchor="end">0.6</text>
<text transform="translate(918.8,682) rotate(0.03) scale(1.1,1)" text-anchor="end">0.8</text>
<text transform="translate(918.8,661.5) rotate(0.03) scale(1.1,1)" text-anchor="end">1.0</text>
<text transform="translate(882.4,737.6) scale(1.1,1) rotate(-90)" text-anchor="middle" font-size="14.6">SHAP Values</text>
<text transform="translate(1050.3,852.2) rotate(0.03) scale(1.13,1)" class="r" font-size="14.3">PM</text>
<text transform="translate(1074.3,854.4) rotate(0.03) scale(1.13,1)" class="d" font-size="10.0">2.5</text>
<text transform="translate(1097.2,852.2) rotate(0.03) scale(1.13,1)" class="r" font-size="14.3">(µg/m</text>
<text transform="translate(1140.1,846.9) rotate(0.03) scale(1.13,1)" class="d" font-size="10.0">3</text>
<text transform="translate(1146.8,852.2) rotate(0.03) scale(1.13,1)" class="r" font-size="14.3">)</text>
</g>
<rect x="927.3" y="659.8" width="151.2" height="56.4" rx="1.6" fill="#fff" fill-opacity="0.8" stroke="#ccc" stroke-width="0.8"/>
<circle cx="941" cy="667.2" r="0.7" fill="#808080" fill-opacity="0.7"/>
<path d="M931.1,680.3h19.8" stroke="#00f" stroke-width="1.3"/>
<rect x="931.1" y="690.8" width="19.8" height="5.6" fill="#00f" fill-opacity="0.3"/>
<ellipse cx="941" cy="708.2" rx="2.8" ry="2.5" fill="#f00"/>
<g class="d" font-size="8.5">
<text transform="translate(958.2,670.3) rotate(0.03) scale(1.13,1)" text-anchor="start">SHAP Values</text>
<text transform="translate(958.2,683.6) rotate(0.03) scale(1.13,1)" text-anchor="start">LOESS Curve</text>
<text transform="translate(958.2,696.9) rotate(0.03) scale(1.13,1)" text-anchor="start">95% CI</text>
<text transform="translate(958.2,711.4) rotate(0.03) scale(1.13,1)" text-anchor="start">Intersection at 25 µg/m<tspan font-size="6.4" dy="-3.4">3</tspan></text>
</g>
<clipPath id="cpp"><rect x="1354.7" y="655.5" width="357" height="164"/></clipPath>
<text class="db" x="1304.1" y="656.4" font-size="12.7">(p)</text>
<g clip-path="url(#cpp)">
<path d="M1453.3,765.3h0M1377,761h0M1425.4,744.6h0M1654.2,760.3h0M1452.3,753.9h0M1492.6,741.9h0M1408.7,764.4h0M1527.3,748.8h0M1434.8,767h0M1520.8,758.3h0M1580.1,776.3h0M1528.5,755.7h0M1534.1,759.4h0M1600.7,755.3h0M1430.5,754.6h0M1426.9,762.1h0M1379,802.6h0M1507.9,741.4h0M1581.2,755.3h0M1487.9,757.7h0M1368.9,760.6h0M1593.7,752h0M1406.4,769.9h0M1481.8,749.9h0M1473.9,762h0M1599.1,754.3h0M1527.3,757.3h0M1601.6,759.3h0M1588.7,746.4h0M1472.3,748.6h0M1443.5,765.7h0M1385.1,748.8h0M1562,758.3h0M1505,747.9h0M1462.4,752.6h0M1485.2,750.7h0M1459.6,750.1h0M1401.4,763.6h0M1423.5,766.5h0M1477,762.6h0M1376.6,763.4h0M1593.9,753.2h0M1421.5,768.6h0M1567.5,755.9h0M1526.9,769h0M1472.7,761.4h0M1447.3,759h0M1457.1,759.1h0M1616.4,774.9h0M1612.2,747.7h0M1584.6,760.3h0M1466.5,761.4h0M1632.3,749.3h0M1592,748.2h0M1429.9,762h0M1626.1,745.6h0M1518.7,755.7h0M1470.1,754.9h0M1584.7,751.3h0M1437.4,757.9h0M1456.8,762.7h0M1443.1,756h0M1594.8,736.8h0M1471.8,764.1h0M1639.1,762.8h0M1384.3,764.1h0M1513.2,735.3h0M1664,755.9h0M1511.5,746.7h0M1476.9,752.5h0M1619.7,759.8h0M1459.7,745.5h0M1426.1,770.5h0M1610.1,754.1h0M1595.4,760.7h0M1480.9,758.2h0M1475.2,756.7h0M1455.7,758.7h0M1417,770.3h0M1474.9,745.3h0M1439.8,759.9h0M1471.4,751.9h0M1615,760.4h0M1435.6,756.3h0M1579.3,741.6h0M1508.8,759.3h0M1450.8,764.3h0M1532.9,758.5h0M1474,765.7h0M1482.7,762.4h0M1481.1,761.1h0M1389.4,775.5h0M1436.2,750.9h0M1477.9,755.3h0M1401,756.5h0M1550.7,754.3h0M1562,749.1h0M1528.6,744.8h0M1499.8,759.9h0M1643,746.5h0M1491.7,764.7h0M1461.3,753.2h0M1592,749.9h0M1455.5,777.2h0M1387.1,755.5h0M1624.9,754.9h0M1579,771.6h0M1486.3,753.2h0M1391.4,766.6h0M1475.9,751.2h0M1624.4,764.7h0M1426,765.1h0M1616.4,754.2h0M1498.9,750.2h0M1520.3,762.5h0M1467.6,748.1h0M1612.9,763.6h0M1552.1,761.5h0M1444.4,756.6h0M1578.8,748.5h0M1612.7,749h0M1444.9,753.2h0M1575.3,764h0M1502.4,775.5h0M1578.9,764.4h0M1394,774.1h0M1578.5,760.9h0M1526.8,724.9h0M1524.8,759.5h0M1483.5,753.8h0M1499.2,747.5h0M1386.5,779.4h0M1445.6,764.7h0M1398.9,733.5h0M1371.9,753.2h0M1460.3,756.2h0M1469.9,754.5h0M1389.8,766.9h0M1400.5,775.9h0M1529.4,754.1h0M1561.6,750.5h0M1635.3,749.8h0M1442.6,762.4h0M1486.2,767.1h0M1603.1,749.2h0M1490.5,752.2h0M1596.2,759.4h0M1373.5,775.1h0M1408,790.3h0M1634.3,754.9h0M1404.9,764h0M1476.6,759.8h0M1389.6,793.4h0M1379.1,771.9h0M1508.9,753h0M1575.8,753.5h0M1459.3,749.2h0M1446.4,760h0M1394.6,773.5h0M1608.7,751.1h0M1539.1,760.1h0M1379.4,763.2h0M1576.8,772.4h0M1388.7,761.4h0M1576.6,746.5h0M1472.7,767.6h0M1500.9,762.2h0M1526.9,754.6h0M1460.3,762.7h0M1488.1,757.6h0M1470.2,759.2h0M1600.9,760.5h0M1426,758.2h0M1447.6,792.8h0M1570.6,757.3h0M1429.1,758.7h0M1425,764.7h0M1402.3,794.9h0M1640.1,748.4h0M1605.3,753.6h0M1643.8,755.7h0M1456.4,750.9h0M1626.6,752.1h0M1583.1,771.1h0M1420.4,782.6h0M1548.6,755.6h0M1526.2,751.4h0M1373.7,765.8h0M1647.5,772.6h0M1484.6,741.3h0M1599.1,754.1h0M1439.6,756.5h0M1584.1,749.1h0M1414.7,786.1h0M1603.9,752.1h0M1496.4,764.1h0M1547.7,745.5h0M1576.9,754.7h0M1572,742.3h0M1642.6,755.1h0M1524.2,749.7h0M1548.5,762.2h0M1585.1,764.6h0M1579.8,745.1h0M1433.1,781h0M1490.8,762.2h0M1411,769.6h0M1574.3,749.4h0M1601,761.5h0M1472,750.6h0M1451.7,761.9h0M1497,758.6h0M1545.4,757h0M1583.6,760.8h0M1575.9,758.5h0M1395.5,759.7h0M1458.1,754.9h0M1452.9,761.4h0M1420.3,764.6h0M1437.8,763h0M1432.6,756.9h0M1454.5,762.1h0M1575.1,764.9h0M1640.5,758.9h0M1484.3,753h0M1510.5,755.7h0M1564.4,741.9h0M1562.7,767.5h0M1666.1,774.3h0M1517.6,760.9h0M1428.8,761.3h0M1541.2,754.8h0M1483.4,778.8h0M1477.5,779.2h0M1562.8,730.6h0M1557.6,763.1h0M1381.4,768.1h0M1402.4,764.7h0M1446.1,766.7h0M1564,751.7h0M1449.1,762.5h0M1438.9,756.6h0M1402.8,763.8h0M1506.5,754.4h0M1381.5,759.7h0M1615.6,763.1h0M1484.9,750.4h0M1470.6,753.3h0M1503.2,757.4h0M1570.2,734.2h0M1485.1,756.6h0M1639.8,748.7h0M1596.2,754.1h0M1420.9,765.1h0M1501,754.2h0M1571,754.7h0M1645.8,757.5h0M1592.7,753.3h0M1625,750.7h0M1546.2,751.7h0M1526.1,759.1h0M1620.3,749h0M1575.3,730.9h0M1518.9,759.6h0M1371.1,774.7h0M1470.9,754.9h0M1452.7,749.7h0M1441.2,759.8h0M1520.8,762.4h0M1561.2,768.4h0M1563.4,748.9h0M1472,754.4h0M1419,766.4h0M1414.6,756.7h0M1390.2,759.2h0M1422.8,765.2h0M1575.7,761.7h0M1424.3,769.2h0M1468.1,757.3h0M1613.5,758.3h0M1542.3,755.2h0M1565.3,741.5h0M1573,749.7h0M1469.3,753.3h0M1476.8,755.7h0M1621.8,757.3h0M1462.5,756.4h0M1640,766.8h0M1380.8,780.7h0M1446.5,760.8h0M1581.4,760.9h0M1655.5,761.1h0M1611.9,755.8h0M1434.6,762.5h0M1507.7,756.8h0M1511.6,761.9h0M1398.8,780.4h0M1495.6,745h0M1576.1,753.8h0M1467.8,753.7h0M1467.8,755.4h0M1492.6,768.6h0M1417.6,772.1h0M1588.3,750.4h0M1519.2,749.1h0M1476.3,747.6h0M1446.2,757.1h0M1577.2,755h0M1502.3,755.6h0M1377.9,772.4h0M1448,724h0M1424.4,762.9h0M1442.5,756.7h0M1424.8,765.2h0M1372.7,760.2h0M1412.9,779.8h0M1521.2,760.8h0M1558.3,753.7h0M1572.1,739.7h0M1471.9,756.8h0M1538.7,762.1h0M1474.8,757.1h0M1502,757.3h0M1649.3,758.7h0M1455.4,750.8h0M1536.5,767.7h0M1403.2,769.8h0M1392.1,762.2h0M1606.9,754.4h0M1411.2,756.4h0M1389.1,754.5h0M1606.1,750.8h0M1629.2,757.7h0M1572.9,769.3h0M1459.6,758h0M1420.6,764.3h0M1513.9,744.4h0M1451.1,757.2h0M1487.6,740.7h0M1583,753.4h0M1499.1,762.5h0M1423.3,766.5h0M1588.7,753.8h0M1604.1,754.4h0M1433.7,743.1h0M1645.9,753.9h0M1536.4,754.6h0M1396.5,776.7h0M1495.4,747.6h0M1430.5,755.8h0M1444.6,759.9h0M1521.3,752h0M1459,770.3h0M1578.9,755.7h0M1517.7,753.6h0M1620.4,752h0M1610.7,764h0M1593.7,761.1h0M1563.9,756.2h0M1608.1,760.2h0M1562.3,755.4h0M1592.5,749.7h0M1543.8,745.5h0M1567.7,743h0M1574,746.2h0M1530.8,757.4h0M1468.8,766.9h0M1516.9,750.9h0M1387.6,755.8h0M1556.5,726.3h0M1635.9,764.2h0M1396.4,761.6h0M1658.8,749.4h0M1424.8,758.2h0M1563.8,750.5h0M1488.8,757.2h0M1487.7,744.2h0M1603.5,746.8h0M1369.3,764.5h0M1558.3,758.7h0M1590.1,760.9h0M1482,762.3h0M1463.7,754.3h0M1489.8,756h0M1407.2,763.4h0M1400.9,759.3h0M1625.1,747.6h0M1574.6,742h0M1433.5,744.1h0M1534,757.9h0M1440.3,767.8h0M1623.8,768h0M1447.1,757.5h0M1449.2,753.6h0M1392.3,792.6h0M1546.8,749.8h0M1503.1,763.2h0M1464.4,758.5h0M1566.6,752.6h0M1458.7,754.6h0M1572,739h0M1428.7,767.4h0M1662.7,747.5h0M1517.4,756.2h0M1604,749.4h0M1506.3,752h0M1593.7,724.1h0M1524.8,764.4h0M1492.6,753.5h0M1467.2,757.9h0M1571.6,754.6h0M1535.5,753.9h0M1550,748.6h0M1584.5,772.4h0M1628.3,772.5h0M1571.7,759.4h0M1535,749.5h0M1499.3,753.5h0M1542.9,765.9h0M1421.3,753.3h0M1616,758.2h0M1380,755.6h0M1383.8,771.1h0M1446.6,746.4h0M1478.9,760.2h0M1465,769.3h0M1487.7,761.5h0M1620.5,757.4h0M1389.1,751h0M1580.7,758.4h0M1499.5,770.9h0M1456.3,757.1h0M1501.9,744.7h0M1499.6,756.6h0M1629.8,751.1h0M1545.7,746.3h0M1562.9,753.6h0M1379.3,778h0M1592.5,748.2h0M1407.2,760.2h0M1659.3,751.5h0M1598.8,765.4h0M1466,762.2h0M1391.3,763.2h0M1521.4,761.1h0M1461.6,759.7h0M1471.6,760.6h0M1634.8,744.8h0M1395.4,774.2h0M1573.4,759.4h0M1528.4,747.6h0M1587.8,760.2h0M1459.9,756.1h0M1405.7,767.6h0M1485.4,752.6h0M1376.1,753.6h0M1496.8,743.8h0M1443.1,765.5h0M1573.2,764.4h0M1434,756.1h0M1478.6,751.2h0M1497.1,782.1h0M1467.8,763h0M1622.5,761.8h0M1565,770.8h0M1470,747.1h0M1502.4,759.7h0M1596.6,754.6h0M1555.3,760.3h0M1484.2,762.6h0M1544.5,755h0M1383.6,758.2h0M1382.7,757.5h0M1556.8,728.2h0M1479,753.8h0M1505.8,753.6h0M1407.2,764.6h0M1447.9,756.6h0M1584.4,735.8h0M1618.2,753.4h0M1593.2,735.1h0M1509.8,757.1h0M1563.2,753h0M1452.2,774.6h0M1410.1,747.1h0M1559.3,763.4h0M1516,753.5h0M1550.5,744.9h0M1582.6,742.9h0M1439.8,758h0M1444,755h0M1424.6,762.3h0M1512.3,757.2h0M1474.1,750.4h0M1401.5,772.6h0M1588.9,742.6h0M1621.2,769.7h0M1635.7,762.8h0M1427.9,757.7h0M1422.5,782.4h0M1602,744.7h0M1378.8,755.7h0M1536.7,762.2h0M1440.5,754.5h0M1502.2,762.9h0M1520.9,747.6h0M1636.7,748h0M1490.6,755.8h0M1468,748.1h0M1536.1,754.9h0M1479.9,752.4h0M1620.9,766.3h0M1453.4,760.1h0M1455.4,761.9h0M1434.3,760.8h0M1469.1,757.6h0M1489.8,747.3h0M1509.6,765h0M1560.6,755.9h0M1486.2,761.5h0M1471.3,749.9h0M1469.8,751.8h0M1369.6,765.6h0M1514.9,752.6h0M1584.6,760.9h0M1391.4,727.7h0M1573.9,759.7h0M1455.5,755.5h0M1518.5,760.3h0M1555.5,757.8h0M1370.6,792.4h0M1489.3,745.6h0M1503.5,755.8h0M1562.4,752.3h0M1491.6,750h0M1465.9,760.8h0M1600.2,756.1h0M1607.8,752.2h0M1425.4,750.2h0M1544,767.5h0M1508.8,751h0M1583.2,752.9h0M1547.3,759.7h0M1551.9,747.4h0M1529.6,764.2h0M1601.2,754.7h0M1447,760.5h0M1578.1,759.8h0M1583.6,784.4h0M1372.9,754.7h0M1599,743.2h0M1527.4,751.2h0M1465.5,755.8h0M1376,787h0M1554,764h0M1513.9,776.9h0M1530.6,739.2h0M1533.7,758.4h0M1378.5,784.4h0M1479,758.6h0M1543.8,762.9h0M1601.6,746.3h0M1583.3,727.4h0M1622.6,748.4h0M1481.4,758h0M1588.9,745.1h0M1405.3,759.2h0M1486,749h0M1587,750.4h0M1514.1,767.5h0M1374.3,779.2h0M1513.1,751.5h0M1542.3,748.5h0M1599.9,767h0M1522.9,758.2h0M1446.4,764.2h0M1464.2,753h0M1396.9,767.7h0M1564.4,763.7h0M1375,768.9h0M1466,760.5h0M1414.8,766.6h0M1527.5,764.8h0M1464.4,754.4h0M1384.2,763.3h0M1512.6,745.5h0M1631.2,757.1h0M1540.6,754.6h0M1472.5,760.7h0M1612,762.8h0M1547.7,757.6h0M1520.3,758.7h0M1515.3,759.6h0M1390.8,774h0M1516.4,754.7h0M1513.9,747.7h0M1495.1,734.4h0M1560,765.2h0M1444.9,746.7h0M1439.6,742.9h0M1571.2,761.2h0M1399.8,767.3h0M1549.1,758.3h0M1503.3,778.2h0M1524.1,765.4h0M1572.9,765.1h0M1502.1,756.9h0M1408.7,762.8h0M1657.8,750.2h0M1473.6,747.4h0M1387.6,764.8h0M1497.6,754.8h0M1388.9,769.7h0M1592.6,758h0M1396.4,753.8h0M1556.8,743.2h0M1608.1,759.4h0M1419.9,751.1h0M1519,753.9h0M1519.7,753.8h0M1448.9,750.1h0M1499.2,761.8h0M1546.5,756.4h0M1556.9,742.9h0M1662.9,757h0M1427.9,769.2h0M1543.6,752.1h0M1517.3,765.5h0M1447.2,760.3h0M1398.8,767.4h0M1562,758h0M1535.5,757h0M1620.6,751.6h0M1493.8,763.9h0M1536.9,762.3h0M1520.4,747.3h0M1590,757.9h0M1669.9,749.5h0M1446.5,761.3h0M1425.7,773.9h0M1392.8,775.4h0M1444.7,753.2h0M1572.9,755.1h0M1506.4,757h0M1600,746.2h0M1569.5,757.7h0M1372.3,770.9h0M1507.1,745.1h0M1374.9,746.1h0M1504.7,767.8h0M1609.3,747.2h0M1665.3,751h0M1426.7,780.1h0M1414.2,762.2h0M1390.5,774.9h0M1456.1,773.2h0M1639.9,771h0M1446.8,761.8h0M1553.1,756.5h0M1389.3,752.8h0M1617.8,753.3h0M1437.2,755.6h0M1589.8,750.9h0M1471.1,754.3h0M1458.3,766.2h0M1609.7,762.7h0M1502.5,758.8h0M1378,764.4h0M1445.2,766.8h0M1451.2,764.8h0M1602.6,765.3h0M1376.4,743.4h0M1531.7,751.3h0M1497.8,756h0M1559.5,763.2h0M1374.6,769h0M1458.1,751.6h0M1428.6,762.5h0M1567.3,749.4h0M1453.8,777.8h0M1385.8,765.1h0M1627.1,753.3h0M1448,753.5h0M1410,762.9h0M1519.2,762.5h0M1527.6,763.3h0M1569.3,756.2h0M1496.6,751.9h0M1679.8,773.8h0M1479.9,755.9h0M1654.4,757.6h0M1566.8,760.3h0M1446.4,749.2h0M1467.3,754.7h0M1585.6,754.3h0M1644.2,757.6h0M1599.9,719h0M1558.3,762.5h0M1601.6,763.4h0M1480.2,771.5h0M1538.3,750.5h0M1560.1,762h0M1480,756h0M1481,755.7h0M1559.7,750.8h0M1629.4,752.8h0M1488.5,751.9h0M1485.5,752h0M1448.2,762.7h0M1380.2,773.2h0M1463.7,768h0M1451.8,743.7h0M1380.9,758.3h0M1456.6,759.9h0M1572.4,779.4h0M1592.3,755.3h0M1507.8,751.5h0M1556.8,760.6h0M1603.3,747.6h0M1411.6,773.9h0M1384.9,765.2h0M1521.6,745.4h0M1605.8,718.9h0M1425.7,757.6h0M1387,760.7h0M1559.8,753.9h0M1571.2,757.1h0M1550.3,763.2h0M1591.4,763.1h0M1447.2,766.3h0M1532.2,760.7h0M1542,754.7h0M1568.2,760.5h0M1596.1,747.1h0M1436.9,762h0M1383.8,768.7h0M1395,773.5h0M1573.3,767.3h0M1440.1,753.7h0M1561.6,740.8h0M1498,767.4h0M1504.6,760.4h0M1450.2,757h0M1384.6,776.6h0M1522.7,764.3h0M1448.8,759.2h0M1586.2,774.1h0M1513.6,746.1h0M1481.1,767.1h0M1406.4,743.8h0M1552.2,763.7h0M1604.3,754.1h0M1368.4,759.6h0M1442.6,758h0M1570.7,763.4h0M1520.2,764.2h0M1446.6,761.9h0M1439.5,768.4h0M1477.1,752.8h0M1421.2,784.4h0M1466.2,760.2h0M1564.9,758h0M1523.7,759h0M1381.7,770h0M1492.5,762.2h0M1569.3,754h0M1571.1,752.2h0M1475.7,749.7h0M1445.3,756.3h0M1441.2,760.9h0M1430.9,759.6h0M1383.7,790h0M1398.8,768.8h0M1449.6,765.2h0M1385.7,737.9h0M1470.3,754.2h0M1539.9,769.9h0M1490.9,751.4h0M1657.2,750.4h0M1532.9,753.4h0M1566.8,772.8h0M1573.7,744.5h0M1377.1,761.5h0M1535.9,743.6h0M1504.4,759.2h0M1526.5,755.5h0M1580.6,749.7h0M1448.7,762h0M1431.1,763.5h0M1511.4,770.2h0M1450,754.6h0M1590.6,747h0M1559.4,756.3h0M1503.6,758.6h0M1630.2,754.2h0M1384.3,763.2h0M1439.9,748.7h0M1598.1,759h0M1377.9,782.4h0M1530.7,733.1h0M1584,759.2h0M1510.7,763.7h0M1493.3,756.7h0M1570.8,760h0M1530.1,757.4h0M1461.7,770.2h0M1379.6,774h0M1500.3,752.6h0M1566.2,764.1h0M1613,754.4h0M1578,735.3h0M1577,748.6h0M1638.8,749h0M1560.4,770.2h0M1550,755.2h0M1384.3,771h0M1596.8,752.8h0M1461.9,758.8h0M1564.9,756.6h0M1533.7,761.1h0M1432.3,757.2h0M1469.7,744.1h0M1455.3,739.3h0M1412,768.2h0M1378.8,772.6h0M1443.6,758.1h0M1538.7,756.1h0M1506.1,749h0M1446.3,753h0M1480.9,746.8h0M1390.7,780.8h0M1577.1,755h0M1575.7,757.2h0M1574.3,737.9h0M1608.4,757h0M1520.1,754.8h0M1519.1,762.5h0M1433.7,781.9h0M1485,744.6h0M1368.1,788h0M1491.6,752.5h0M1487.5,749.7h0M1566.8,763.7h0M1387.3,756.2h0M1447.9,759.4h0M1442.9,767.8h0M1492.9,749.5h0M1578.5,759h0M1618.4,760.9h0M1641.8,757.5h0M1621,753.4h0M1430.7,760.1h0M1512.2,760.7h0M1519.4,759.5h0M1376.4,761.4h0M1566.4,756.6h0M1460.1,766.7h0M1621.8,750.6h0M1443.1,749.8h0M1472,749.7h0M1556.3,733.4h0M1508.6,749h0M1573.1,755.9h0M1469,769.5h0M1400.5,785.7h0M1457.6,755.7h0M1490.2,760.5h0M1566.6,752.2h0M1478.5,753.7h0M1502,758h0M1528.8,756.5h0M1630.4,755.7h0M1474.3,761h0M1599,749.4h0M1582.1,756.4h0M1564.8,754h0M1467.4,740.8h0M1667.7,750.8h0M1591.4,750.3h0M1560.5,749.9h0M1548.6,753.7h0M1561.5,767.1h0M1592.6,751.8h0M1396.7,760.5h0M1500.2,745h0M1491.7,763h0M1589.6,745.7h0M1584.9,753.6h0M1448.9,763.5h0M1389.6,776.5h0M1433.9,758.7h0M1382.8,776.5h0M1559.1,772.9h0M1475,766.1h0M1384.8,753.8h0M1402.1,772.1h0M1450.8,756.2h0M1436.6,747.8h0M1658.7,753.6h0M1390,757.1h0M1582.4,759.4h0M1532.3,758.4h0M1412.1,745.3h0M1421.9,763h0M1591,758h0M1559.6,764.4h0M1503.7,745.7h0M1411.1,741.8h0M1556.7,754.4h0M1649.8,750.2h0M1607.2,757.9h0M1414.7,731.4h0M1609.4,763.5h0M1524.6,756h0M1443.7,755.5h0M1465.9,761.3h0M1580.6,760.1h0M1440.9,757.1h0M1428.3,763.4h0M1557.1,766.8h0M1565.5,763.7h0M1535.6,749.4h0M1597.3,769.5h0M1571.7,764.9h0M1587.6,751.1h0M1458.4,759.7h0M1439.5,749.7h0M1406.4,753.3h0M1579.3,760.6h0M1478.2,754.2h0M1467.2,759.9h0M1374.6,773.1h0M1541.3,757.3h0M1471.6,751.4h0M1448.9,766.8h0M1386.1,773.1h0M1516.7,758h0M1491.7,762.9h0M1538.1,751.6h0M1490.4,760h0M1464.3,756.9h0M1560,739.9h0M1412.1,766.6h0M1574,761.7h0M1580.3,757.7h0M1584.1,761.2h0M1523,748.5h0M1577.5,761.1h0M1463.6,763.8h0M1372.4,762.6h0M1390.9,764h0M1638.8,772.4h0M1430,763.3h0M1457,761.8h0M1390.1,763.4h0M1437.3,762.1h0M1565.8,766.8h0M1587.2,755.8h0M1504.1,755.5h0M1447.7,759.2h0M1569.3,765.4h0M1388.6,761h0M1462.2,750h0M1590.9,767.6h0M1446.7,768.5h0M1505.5,757.2h0M1500.8,747.9h0M1493.8,782.8h0M1486.2,757h0M1484.7,753h0M1386.1,761.4h0M1385,772.5h0M1524.7,756.6h0M1576.9,761.2h0M1513.6,750.8h0M1572.1,751.2h0M1602.5,750.2h0M1533.6,764.5h0M1572.9,752.3h0M1375.2,782.2h0M1622.2,762.3h0M1446.1,758.6h0M1457.8,755.7h0M1544.8,764.2h0M1489.7,761.4h0M1460.4,753.2h0M1521.8,762.2h0M1571.3,771.1h0M1441.3,761h0M1493.7,758.3h0M1558.5,752h0M1462.1,753.6h0M1605.3,749.1h0M1547.7,759.7h0M1472.4,755.8h0M1503.3,757.2h0M1435,756.9h0M1411.5,770.8h0M1538.3,756.1h0M1579.1,757.6h0M1538.8,758.7h0M1451.8,764.7h0M1602.6,760.4h0M1595.8,736.3h0M1469.1,749.9h0M1594.8,746.9h0M1417.8,758.5h0M1379,755.3h0M1380.1,765.8h0M1624.3,774.5h0M1485.7,765.4h0M1554.2,764.6h0M1559.8,752.6h0M1459.1,758.8h0M1458.7,761.6h0M1375.5,793.8h0M1487.4,753.1h0M1405.6,778.2h0M1620.4,756.7h0M1595.8,761.8h0M1519.8,761.5h0M1476.7,752.8h0M1575.7,762.7h0M1615.3,753.9h0M1500.6,756h0M1605.4,748.8h0M1373.7,761.5h0M1507.5,758.9h0M1523.4,751.6h0M1476.3,754.4h0M1565.6,755.6h0M1590.1,745.6h0M1393,764.4h0M1484.5,782.4h0M1498.3,739.8h0M1598.9,754h0M1503.8,763.8h0M1388.3,758.9h0M1581.6,758.5h0M1677.2,756.9h0M1480.3,749.3h0M1421,764.2h0M1543.7,752.5h0M1510.6,760.1h0M1483.4,756.8h0M1556.7,746.2h0M1441.9,758.1h0M1379.1,756.9h0M1576,795.6h0M1545.1,763.1h0M1398.7,771.3h0M1447.2,753.1h0M1500.5,753.4h0M1506,765.2h0M1492.6,764.1h0M1585.8,782.5h0M1467.9,754.9h0M1535,762.5h0M1369,767.4h0M1648.2,764.4h0M1471.1,764.1h0M1374.1,766.4h0M1486.8,769.5h0M1481.2,749.4h0M1539.5,761.4h0M1509.7,764.5h0M1449.3,764.7h0M1412.2,758.8h0M1427.6,782.3h0M1408.7,759.4h0M1382.6,794.2h0M1395.6,765.5h0M1401.3,770.4h0M1378,773.8h0M1642.7,768.4h0M1411.3,764.1h0M1450,759.7h0M1469.3,755h0M1527.6,757.7h0M1586,755.1h0M1530.9,759.6h0M1588.8,748.4h0M1580.7,763.6h0M1510.8,746.4h0M1460.9,761h0M1469.5,740.9h0M1603.4,755.3h0M1548.4,756.2h0M1468.1,756.6h0M1659.9,747.3h0M1437.8,752.7h0M1579.4,759.8h0M1450,763.3h0M1400.1,765.1h0M1631.8,753.1h0M1391.7,768.5h0M1593.4,751.7h0M1448.4,742.5h0M1553.1,764.3h0M1537.9,766h0M1466.7,768.5h0M1488.6,744.2h0M1488.1,760.9h0M1504.3,759.6h0M1503.2,751.9h0M1501.4,766.7h0M1490.2,755.8h0M1382.4,751.2h0M1388.1,771.6h0M1604.6,765.4h0M1630.9,753.7h0M1567.4,757.8h0M1563.7,762.6h0M1512,765.6h0M1446.4,751.1h0M1444.1,767.3h0M1412.2,740.1h0M1552.6,753.3h0M1380.3,765.6h0M1514.2,753.2h0M1395,761.2h0M1444.8,761.6h0M1569.9,741.7h0M1463.2,759.2h0M1564.8,759.5h0M1560.5,752.9h0M1567.2,750.5h0M1571.3,761h0M1575.7,753.3h0M1484.2,760.3h0M1477.9,757h0M1391.9,763.2h0M1552.2,755.3h0M1636.8,748.4h0M1444,763.3h0M1446.1,754.5h0M1514.3,754.2h0M1502.2,752.2h0M1661.7,752.1h0M1397.1,758.1h0M1430.5,763.5h0M1410.8,764.8h0M1476.5,761.8h0M1535.9,766.7h0M1498.7,758.6h0M1388.9,761.2h0M1507.7,764.3h0M1455.8,762.3h0M1397.8,759h0M1583.3,758.4h0M1474.8,759.2h0M1436,765h0M1467,753.7h0M1522.6,760.9h0M1430.1,759.4h0M1611.2,757.2h0M1572.5,760.8h0M1567.8,726.9h0M1494.6,753.6h0M1449.3,741.7h0M1584.4,738.7h0M1567.6,754.5h0M1466.7,760.5h0M1391.8,797.9h0M1610.5,745.6h0M1595.8,769.7h0M1403.7,768.1h0M1625.5,748h0M1630.5,754.9h0M1489.8,752.3h0M1441.6,749.3h0M1443.4,767.7h0M1395.5,757.2h0M1424.5,767.9h0M1532.2,761.7h0M1575.5,753.4h0M1557.4,768.4h0M1658.8,753.3h0M1430.6,765.4h0M1499.8,747.9h0M1431.3,759.2h0M1614.6,754h0M1588.7,737.1h0M1568.2,759.8h0M1430.4,758.6h0M1372.2,768.5h0M1420,786.6h0M1551.6,755.9h0M1423.6,747.5h0M1400.1,779.9h0M1508,743.4h0M1420.2,769.6h0M1590.5,756.7h0M1527.6,778.5h0M1409,767.2h0M1478.5,763.4h0M1488,736.1h0M1525.6,757.2h0M1508.1,753.7h0M1422,761.3h0M1534.5,760.5h0M1497.2,760.8h0M1493.1,758.5h0M1571.5,723.8h0M1613.4,749.1h0M1563.6,765.7h0M1596.9,747.5h0M1589.4,754.3h0M1417.8,760.7h0M1446.6,749.9h0M1493.5,761h0M1674.9,775.2h0M1405,764.4h0M1371.4,776.8h0M1437.3,760.4h0M1609.1,753.1h0M1507.8,754.4h0M1562.2,763.2h0M1397.7,759.6h0M1398.9,784.5h0M1608.6,757.7h0M1432.4,760.6h0M1436.5,755.3h0M1500.3,759.6h0M1615,753.2h0M1371.1,773.5h0M1430.2,738.9h0M1578.2,737.2h0M1591.9,770.2h0M1506.1,759.3h0M1588.7,755.1h0M1533.3,755h0M1469.6,761.7h0M1634.8,760h0M1608.3,755h0M1499.2,760.1h0M1429.1,773.7h0M1431.2,763.4h0M1533.8,758.9h0M1581.5,757.2h0M1411.1,769.1h0M1391.4,761.5h0M1594.2,765.6h0M1384.2,773.7h0M1632,744.6h0M1415.2,750.7h0M1603.5,754.7h0M1559.2,760.7h0M1472.5,750.8h0M1557,768.7h0M1536.7,750.5h0M1532.4,757.9h0M1503.4,748.1h0M1624.2,755.5h0M1447.1,758.1h0M1585.4,763h0M1469.1,761h0M1563.6,742.5h0M1573.4,755.1h0M1387.8,769h0M1651.3,750.4h0M1603.3,750.3h0M1629.1,755.2h0M1423.3,766.2h0M1450.8,762.3h0M1409.6,759h0M1420.9,759.8h0M1667,750.6h0M1559.9,755.9h0M1520.7,751h0M1494,747.5h0M1369.6,770h0M1529.2,755.6h0M1450.5,763.8h0M1501.9,750.6h0M1594,750.1h0M1400.6,727.9h0M1378.8,731.8h0M1475.5,761.5h0M1391.9,758.6h0M1634.6,769.6h0M1469,757.7h0M1454.5,745.5h0M1525.5,763.7h0M1504.6,755.4h0M1389.3,742.7h0M1509.3,757.8h0M1495.9,751.3h0M1572.3,770.1h0M1400.5,769.2h0M1578.3,718.5h0M1402.3,782.6h0M1370.4,754.8h0M1556,758.4h0M1486.8,766.7h0M1476.2,746.5h0M1439,755.3h0M1522.9,757.9h0M1438.9,760.8h0M1624.8,754.6h0M1510,754.8h0M1480.4,776.4h0M1517.6,759.1h0M1533,756.6h0M1379,759.6h0M1535.4,766.7h0M1386.3,753h0M1608,764.6h0M1480.1,759.3h0M1431,751.6h0M1375.6,773h0M1388.4,769.5h0M1388.2,757.2h0M1482.7,750.5h0M1442.3,782.3h0M1368.2,733.4h0M1511.8,735.2h0M1488.2,752.2h0M1526.6,773.1h0M1433.9,766h0M1417.6,764.7h0M1506.6,754.9h0M1467.6,758.6h0M1386.3,737.1h0M1410.7,765.8h0M1612.1,742.9h0M1452.1,754.1h0M1505.8,746.5h0M1406.5,758.4h0M1526.9,763.2h0M1590.3,743.6h0M1524.8,744.8h0M1440.5,761h0M1484.6,751.7h0M1666.5,742.6h0M1395.8,776h0M1611.4,751.8h0M1421.8,757.4h0M1417.9,760.5h0M1620.9,744.9h0M1487.1,753.3h0M1432.6,756.9h0M1631.2,782.7h0M1593.1,752.7h0M1385.1,779.3h0M1617.6,767.1h0M1389.1,761.2h0M1419.1,761.6h0M1602.6,737.5h0M1424.8,745.4h0M1376,753.2h0M1610.9,760.1h0M1622.3,763.9h0M1467.8,758.5h0M1587,751h0M1508.9,749.1h0M1563.4,749.1h0M1399.4,761.4h0M1561.3,757.6h0M1487.8,748.2h0M1500.1,757.2h0M1458,767.6h0M1600.6,759.9h0M1488.2,756.7h0M1446.2,738.6h0M1488.3,774.2h0M1460.2,749.9h0M1467.8,752.8h0M1449.9,753.2h0M1593,752.5h0M1617.6,757.7h0M1433.5,765.3h0M1390.8,741.1h0M1533,747h0M1582.8,771h0M1444.5,756h0M1627.1,755.1h0M1606.1,758.7h0M1596.5,757.3h0M1445.3,761.2h0M1424.3,742.9h0M1428.2,760.6h0M1541.5,743h0M1430.9,760.1h0M1536.6,750.8h0M1577.9,757.6h0M1529.3,756.9h0M1602.7,755.8h0M1499.9,768h0M1460.5,761.8h0M1476.3,775.9h0M1587.8,754.5h0M1396.3,763.4h0M1520.7,747.5h0M1456.1,758.9h0M1548,746.9h0M1582.6,739.2h0M1513.7,742.8h0M1495.1,748.5h0M1384.2,766.1h0M1606.8,751.3h0M1510.8,758.2h0M1527.7,760.2h0M1498.4,757.7h0M1627.5,779.8h0M1578.5,750.2h0M1418.8,736.2h0M1548.4,730.1h0M1611,754.4h0M1590,754.8h0M1405.7,772.5h0M1510.4,758.1h0M1486.2,758.4h0M1443.8,759.9h0M1391.3,774.9h0M1419.2,757.2h0M1503.5,752.1h0M1395.6,802.4h0M1548.6,758.1h0M1435,759.8h0M1434.7,765.2h0M1535,743.9h0M1499.8,748.5h0M1577.4,764.4h0M1448.6,756.5h0M1588.3,746.4h0M1526.7,736.7h0M1553.1,761.5h0M1453.2,760.4h0M1568.8,756.4h0M1593.4,746.3h0M1438.8,761.1h0M1523.2,748.7h0M1369,763.9h0M1465.2,752.4h0M1592.9,742.2h0M1384,762h0M1604,762.7h0M1527.6,754.1h0M1517.8,750h0M1438.6,749.1h0M1467.1,758.7h0M1384.5,759.9h0M1372.6,747.9h0M1591.9,759.3h0M1428.9,765.4h0M1471.4,764.1h0M1434.9,778.7h0M1381.2,776.4h0M1492.4,749.4h0M1595.4,745.9h0M1544.2,747.4h0M1434.8,752.4h0M1527.2,761.1h0M1611.5,746.3h0M1436.2,758.3h0M1560.6,747.4h0M1652,754.3h0M1517.7,750.9h0M1634,795.7h0M1470.9,756.4h0M1368.7,772.8h0M1509.5,749.7h0M1568.2,748h0M1623.5,752.6h0M1606.2,753.4h0M1489,771.3h0M1568.9,775.9h0M1649.1,737.6h0M1597.5,753.4h0M1376.5,783.7h0M1570.7,759.5h0M1567.6,748.1h0M1437.9,761.8h0M1639.8,765.7h0M1650.1,750.8h0M1577.5,756h0M1381.1,768.3h0M1603.1,773h0M1411,771.2h0M1574.6,750.9h0M1576.2,758.3h0M1374.2,742.6h0M1591.7,744.1h0M1576.1,757h0M1449.4,756.4h0M1572.8,759.2h0M1529.2,763h0M1389.2,750.8h0M1457.3,741.1h0M1443.9,764.9h0M1605.5,749.7h0M1471.3,762.3h0M1574.3,768.1h0M1380.8,761.6h0M1554.5,759.8h0M1472.5,760.5h0M1614.4,750.4h0M1434.8,765.4h0M1428.2,764.9h0M1389.1,765.5h0M1479.1,755.9h0M1384.5,757.6h0M1404.5,774.2h0M1536.1,756.2h0M1498.2,751.9h0M1603.2,756.3h0M1486.3,757.7h0M1387.5,750.7h0M1522.2,759.8h0M1493.8,760.2h0M1666.8,762.1h0M1662,749.7h0M1615.4,778.4h0M1503.1,754.7h0M1519.3,753.8h0M1530.5,758.4h0M1393.5,770.3h0M1506.2,754h0M1486.4,766h0M1439.6,766.1h0M1444.9,766h0M1397.8,768h0M1506.5,742.9h0M1615.8,756.4h0M1576.7,757.8h0M1566.9,751.4h0M1449.7,761h0M1587.1,752.6h0M1391.8,764.4h0M1645.7,743.2h0M1529.6,757.8h0M1428.5,775.3h0M1638.8,760.1h0M1573.1,749.8h0M1630.4,750.8h0M1509.1,759.6h0M1483.2,754.1h0M1584.5,759.6h0M1478.3,727.7h0M1672,744.4h0M1492.4,757.6h0M1387.1,780.6h0M1375,772.2h0M1553.4,759.7h0M1472.3,758.7h0M1378.1,784.1h0M1461.9,753.6h0M1582.8,748.2h0M1446.5,758.5h0M1445.6,759.6h0M1446.2,768.3h0M1477.2,754.5h0M1382.9,768.5h0M1493.2,747.3h0M1456.4,779.2h0M1556.7,768.2h0M1421,760.2h0M1431.4,781.6h0M1589.6,755.5h0M1568.4,761.8h0M1475.5,754.3h0M1556.4,755.8h0M1533.1,765.2h0M1529.5,750.9h0M1418.5,799.3h0M1487.9,749.7h0M1464.3,756.7h0M1483.9,758.1h0M1517.6,760.4h0M1591.7,761.1h0M1566.5,753.5h0M1566.5,751.8h0M1661.5,758.4h0M1591.1,755.7h0M1620,757.8h0M1666,758.7h0M1527.9,765.5h0M1500.9,756h0M1385.1,766.1h0M1558.2,758h0M1375.5,772.9h0M1509.6,757.3h0M1500.7,754h0M1431.4,765.7h0M1456.7,762.2h0M1487.7,744.4h0M1546.7,751h0M1521.8,754.7h0M1544.7,755h0M1488.8,753.3h0M1639.7,764h0M1454.5,765.4h0M1400.5,768.8h0M1602.2,759.3h0M1452.7,760.6h0M1463.1,756.1h0M1502.1,751.2h0M1379.3,762.9h0M1501.5,758.3h0M1547.5,787h0M1441.6,765.8h0M1404.7,776.5h0M1586.9,766.9h0M1436.5,749.3h0M1475.4,753.1h0M1382.9,757.5h0M1420.9,760.9h0M1625.9,765.7h0M1513.7,742.7h0M1508.8,758.3h0M1481.7,748.7h0M1382,773.6h0M1538.7,774.9h0M1475,753.8h0M1495.8,748.7h0M1475.7,767.1h0M1522.5,752h0M1382.1,761h0M1482.7,763.4h0M1449.2,760.1h0M1577.2,761.7h0M1456.5,762.4h0M1541.3,740.9h0M1528,765.4h0M1560.9,750.1h0M1529.8,757.4h0M1602.2,765.8h0M1490.2,749.2h0M1383.8,772h0M1463,749.6h0M1606,762.7h0M1569.5,767.1h0M1540.8,758.1h0M1532.6,756.7h0M1598.1,732.9h0M1652.7,748.9h0M1492.8,753.9h0M1524.1,749.1h0M1503,750.8h0M1459.2,761.6h0M1447.4,754.3h0M1429.5,762.4h0M1573.9,754.7h0M1557.9,761.8h0M1671.6,756.4h0M1584,758.9h0M1369.3,758.1h0M1422.8,762.6h0M1468,754.2h0M1511.7,777.7h0M1493.5,751.2h0M1447.1,756.7h0M1596.6,769.2h0M1574.3,757.5h0M1407.2,750.4h0M1565.3,745.5h0M1559.6,768.8h0M1376.6,776.3h0M1533.7,753.5h0M1565.4,752.4h0M1450.7,765.8h0M1462,760.2h0M1453.9,748.7h0M1582.4,755.9h0M1586.4,742.2h0M1499.1,771.5h0M1542.4,753.8h0M1571.2,756.5h0M1456.3,761.4h0M1542.6,757.6h0M1520.3,757.2h0M1436.9,764.8h0M1384.7,770h0M1558.1,763.1h0M1443.9,770h0M1506.8,762.5h0M1481.6,754h0M1478.3,760.9h0M1561.6,754.4h0M1611.5,760.5h0M1581.6,776.2h0M1535.3,723.4h0M1510.4,752.4h0M1464.3,753.7h0M1409.2,774.8h0M1619.2,752.3h0M1525.8,756.7h0M1555.8,742.6h0M1601.6,767h0M1444.6,768.6h0M1655.7,746.5h0M1444.6,737.9h0M1583.6,744.2h0M1628.1,765.4h0M1471.7,761.7h0M1430.8,759.7h0M1402.7,808.3h0M1458.1,753.5h0M1512.5,751.9h0M1431.4,778.1h0M1433.5,785.5h0M1617.2,747.3h0M1575.7,750.6h0M1517.1,750.9h0M1584.4,759.9h0M1604.6,761.9h0M1627.4,753.8h0M1632.7,751.1h0M1383.8,737.5h0M1418.6,764.6h0M1545.5,776.2h0M1500.6,757.1h0M1429.8,762h0M1453.3,761.8h0M1516.5,751.3h0M1418.1,765.8h0M1416,765h0M1431.3,748.9h0M1648.2,750.5h0M1504.2,754.4h0M1597.3,750.2h0M1607.8,771.1h0M1444.3,748.1h0M1391.6,785.9h0M1624.4,713.3h0M1397.6,762.3h0M1548.5,776.2h0M1474.5,763.7h0M1523.8,758.3h0M1574.9,753.6h0M1548.4,747.6h0M1407.6,756.1h0M1600.6,753.1h0M1606.2,765.3h0M1470.1,749.9h0M1427.3,752.7h0M1551.5,760h0M1575.4,756h0M1559.8,758.3h0M1580.4,754h0M1382,760.7h0M1503.1,754.7h0M1484.6,745.6h0M1640,748.4h0M1411.8,755.6h0M1492.1,758.9h0M1487.2,751.1h0M1416.8,766.4h0M1488.7,761.9h0M1596.5,755.4h0M1491.6,768.7h0M1576.3,758.7h0M1523.2,742.5h0M1450.2,769.8h0M1602.8,754.7h0M1568.7,751.2h0M1447.6,757.9h0M1559.4,754.2h0M1461.3,760.2h0M1509.7,751.2h0M1646.9,766.4h0M1497.6,749.4h0M1416.5,755h0M1391.6,780.2h0M1597.9,759.7h0M1434.3,737.4h0M1472.6,751.9h0M1490.8,748.2h0M1469.8,760.2h0M1465.3,753.3h0M1459.1,756.8h0M1570.3,748.9h0M1571.1,758.4h0M1459.8,753.6h0M1444.5,755h0M1577.8,746.1h0M1472.8,746.5h0M1391.6,762.7h0M1573.1,749.1h0M1449.4,765h0M1619.4,755.4h0M1368.9,775.1h0M1516,747h0M1593.1,752.2h0M1412.2,752.1h0M1576.4,752.3h0M1387.6,774.9h0M1539.3,745.7h0M1570.2,752.9h0M1524.3,746.3h0M1516,757.7h0M1495.8,763.3h0M1478.6,762.8h0M1583.9,759h0M1576.4,756.2h0M1566.6,759.4h0M1432.2,744h0M1642.2,746.7h0M1563.7,764.3h0M1588.5,761.2h0M1598.5,745.8h0M1579.3,759.2h0M1434.7,763.8h0M1511.9,743.9h0M1584.5,746.5h0M1493.9,752.5h0M1580.9,744h0M1589.4,758.4h0M1522.9,760.7h0M1595.2,758h0M1579.4,770.8h0M1408.8,759.8h0M1540.1,765.6h0M1630.8,757.2h0M1501.3,755.9h0M1499.4,749.1h0M1484.3,759.8h0M1392.4,757.6h0M1645.7,756.6h0M1491.4,750.1h0M1451,752h0M1390.6,753.1h0M1438,755.9h0M1476.4,757.8h0M1505.6,753.2h0M1605.7,759.9h0M1559.7,748.3h0M1575.6,766.3h0M1408,762.4h0M1419.2,768.7h0M1537.5,770h0M1442.7,754.4h0M1521.1,756.6h0M1369.5,767.8h0M1620.5,755.3h0M1551.4,753.5h0M1614.3,755.5h0M1674.2,758.2h0M1457.2,753.5h0M1553.7,760.7h0M1592.4,757.5h0M1505.3,762.4h0M1376.2,772.1h0M1601,754.5h0M1440.7,757.3h0M1437.9,787.8h0M1487.4,760.8h0M1474.5,758.3h0M1536.2,761.5h0M1449.9,759.9h0M1437.9,773h0M1541.8,755.9h0M1494.5,762h0M1448.6,749.7h0M1517.7,753.7h0M1496,755.1h0M1510.4,762.9h0M1440.4,753.7h0M1515.4,767.1h0M1563.1,757.4h0M1458.9,757.3h0M1515.5,759.8h0M1530.8,760.9h0M1431.6,765.7h0M1550.1,746.3h0M1425.2,766.1h0M1372.1,770h0M1467.7,753.4h0M1414.9,759.9h0M1633.2,757.6h0M1507,752.3h0M1496.8,754.9h0M1440.9,753.1h0M1463,761.6h0M1481.9,758.5h0M1436.4,768.2h0M1405.9,753.3h0M1399.4,763.5h0M1531.1,755.2h0M1584,758.8h0M1516.1,754.1h0M1513.2,755.2h0M1447.1,760.1h0M1503.4,753.5h0M1612.7,763.9h0M1635.5,773.2h0M1594.5,766.7h0M1418.8,765h0M1488.8,755.4h0M1455,757.8h0M1404.5,756.5h0M1556.4,754.9h0M1475.3,748.5h0M1505.3,748.4h0M1579.1,748.8h0M1582.8,754.5h0M1480,756.4h0M1595.1,752.2h0M1610.6,752.7h0M1521.5,754.8h0M1506.4,749.7h0M1592.8,744.4h0M1469.8,751.1h0M1508.6,745.7h0M1623.1,752.8h0M1529.7,752.5h0M1489.9,745.3h0M1497,765.9h0M1454.4,775.7h0M1372.9,742.7h0M1370.5,786.2h0M1525,757.5h0M1554.6,755.2h0M1602.6,772.7h0M1435.7,765.6h0M1595.5,772.4h0M1523.9,759h0M1584.3,752.3h0M1530.8,753h0M1597.8,762.5h0M1523.4,750.6h0M1533.6,761.8h0M1437.7,756.8h0M1501.4,752.1h0M1371.3,768.3h0M1474.5,760.9h0M1436,753.5h0M1470,757.9h0M1500.1,760.3h0M1494.1,764.4h0M1506.3,758.8h0M1465.7,746.2h0M1428.7,756.2h0M1396.1,761.8h0M1565.5,742.6h0M1450.1,767.8h0M1557.3,754.4h0M1454.8,765.4h0M1651,758.9h0M1483.3,758.7h0M1503.4,763.7h0M1410.6,764.6h0M1481.4,758h0M1568.4,764.1h0M1612.2,747.5h0M1447.3,755.9h0M1476,748.7h0M1378.1,751.4h0M1665.3,746.9h0M1427,754.5h0M1615.7,749h0M1400.6,790.8h0M1375.8,773.2h0M1392,769.9h0M1619.8,746.3h0M1593.9,760.3h0M1562.6,753.9h0M1602.6,753.8h0M1613,758.7h0M1532.1,744.9h0M1376,751.9h0M1467.6,762.2h0M1582,757.4h0M1456.9,747.8h0M1508.6,744.3h0M1510.3,751.5h0M1534.4,761.2h0M1561.9,761.8h0M1679.1,754.1h0M1430.6,767.9h0M1591.2,763.2h0M1558.2,746.4h0M1578.3,745.5h0M1462.3,757.6h0M1463.4,759.9h0M1432.1,761.9h0M1572.2,755h0M1628.3,744.9h0M1382.5,755.8h0M1583,751.9h0M1427.9,765.1h0M1416.3,764.1h0M1446,777.7h0M1562.9,751.5h0M1424.2,755.9h0M1560.3,763.1h0M1460.4,760.4h0M1407.5,800.6h0M1583.3,752.6h0M1508,762.2h0M1643.4,734.7h0M1379.8,773.6h0M1466.7,758.7h0M1644.2,756.2h0M1562.7,750.9h0M1422.9,775.1h0M1413.7,766.7h0M1429.1,764.5h0M1511.1,753.5h0M1519.1,755.7h0M1526.8,777.4h0M1544.8,756.6h0M1372.6,765.2h0M1553.9,762.9h0M1459.2,761.4h0M1577.7,753h0M1579.2,756h0M1416.3,764.1h0M1589.7,755.9h0M1488.4,767h0M1634.2,753h0M1438.7,761.1h0M1574,750.4h0M1496.8,736.8h0M1440.8,767.2h0M1584.1,757h0M1575.5,759.9h0M1446.4,760.2h0M1472.7,752.9h0M1556.9,750.6h0M1419.2,772.5h0M1459.3,760.2h0M1394.5,766.8h0M1430.7,768h0M1483.6,761h0M1444.6,729.6h0M1607.5,732.4h0M1396.5,767.6h0M1397,761h0M1511.3,756.9h0M1578.8,752.1h0M1479.3,769.2h0M1376,765.9h0M1414,757h0M1472.6,755.3h0M1510.7,758.4h0M1576.8,763.3h0M1371.9,766.6h0M1374.5,765.7h0M1428.8,772h0M1567,756.2h0M1649.6,757.2h0M1444,759.5h0M1590.9,749.9h0M1442,761.5h0M1600,744h0M1368.5,762.4h0M1561.1,764.8h0M1600.5,741.1h0M1528.5,763.6h0M1528.9,749h0M1605.2,742.2h0M1529.4,763.1h0M1517,765.4h0M1485.4,756.4h0M1586.1,762.7h0M1528.9,732.9h0M1592.1,762.1h0M1522,759.2h0M1542.7,758.4h0M1657.9,743.9h0M1456.2,762.2h0M1501.3,742.7h0M1461.3,754.6h0M1399.4,784h0M1581.5,759.3h0M1581.9,751.2h0M1425.8,763.4h0M1487.7,756.2h0M1507.7,767.4h0M1487.4,764.3h0M1507,761.9h0M1641.2,745.9h0M1514.6,758.5h0M1596,748.4h0M1605,755h0M1396.3,757.9h0M1634.7,757.7h0M1386.4,738.7h0M1602.8,752.8h0M1437.2,756.1h0M1498.9,753.4h0M1559.1,767h0M1401.5,773.5h0M1639.4,752.2h0M1590.9,747.6h0M1441,764.9h0M1649.2,762.8h0M1629.9,748.9h0M1567.6,748.1h0M1567.3,761.4h0M1561.2,759.7h0M1442.2,751.7h0M1619.5,756.8h0M1543,748h0M1539.6,771.8h0M1375.5,760.9h0M1541.2,763.7h0M1599.4,748.4h0M1579.1,760.3h0M1463,767.5h0M1455.1,752h0M1616.2,780.2h0M1607.4,754h0M1580,785.8h0M1468.7,748.3h0M1510.3,764.6h0M1479.7,755.8h0M1425.7,758.5h0M1472.7,762h0M1377.2,766.6h0M1380,749.2h0M1584.8,755.1h0M1533.4,757.3h0M1560.5,755.6h0M1493.8,760.2h0M1522.8,753.7h0M1429.9,760.2h0M1588.1,762.3h0M1386.6,763.5h0M1368.7,773.9h0M1435.4,766.6h0M1525.9,761.5h0M1646.6,751.8h0M1468.2,756.5h0M1609.1,758.8h0M1497.8,750.4h0M1533.6,763.2h0M1416,766.9h0M1504.4,756.8h0M1480.5,762.4h0M1495.7,761.8h0M1568.6,752.8h0M1550.4,775.2h0M1423.8,761.2h0M1404.6,751.7h0M1385.8,780.3h0M1535.3,764h0M1606,767.3h0M1556.2,750.3h0M1573.2,732.2h0M1389.6,765.1h0M1576.4,750.1h0M1457.8,769.9h0M1402,767.6h0M1565.9,744.8h0M1504.9,763.5h0M1576.7,761.9h0M1390,782.2h0M1569.8,751.9h0M1572.3,743h0M1466.7,749.3h0M1502.4,754.5h0M1517.9,757.3h0M1578.5,757.4h0M1530.1,758.1h0M1433.4,761.1h0M1566.4,748.8h0M1578.3,785.3h0M1453.1,755.3h0M1486.2,758.9h0M1561.1,756.4h0M1506.9,743.8h0M1564.8,751.5h0M1372.2,732.3h0M1614.8,747.2h0M1460.6,767.7h0M1495.3,753h0M1572.5,788.8h0M1461.2,757.8h0M1485.2,754.7h0M1380,758.2h0M1598.7,744.4h0M1544.1,739.5h0M1409.2,762.4h0M1419.7,770.7h0M1542.8,759.5h0M1465.3,764.5h0M1443.5,758.2h0M1526.5,758.9h0M1576.5,755.2h0M1511.9,761h0M1440,754.2h0M1590.8,764.6h0M1577.6,747.5h0M1638,761.7h0M1579.4,761.5h0M1445.3,760.4h0M1557.7,749.1h0M1506.8,759.1h0M1597.3,755.4h0M1585.3,753.7h0M1443.9,753.8h0M1482,747.2h0M1585.3,751.5h0M1443.8,773.5h0M1386.8,781.3h0M1574.4,752.8h0M1517.8,780.9h0M1561.5,762.5h0M1462,759.9h0M1559,755.4h0M1452.8,765.2h0M1605.1,763.2h0M1490.9,759.3h0M1504.3,760.7h0M1559.9,758.8h0M1432.4,757.7h0M1566,753h0M1531.9,758.1h0M1526,752.9h0M1391.6,789.2h0M1598.8,744.9h0M1536.2,765.2h0M1403.5,757.6h0M1519.8,755.2h0M1433.8,758.1h0M1619,761h0M1373.9,778.2h0M1544.4,763h0M1484.8,753.7h0M1382.2,776.1h0M1373.3,767.6h0M1476.9,759.8h0M1627.6,761.2h0M1462.5,763h0M1578,748.8h0M1567.9,765.2h0M1563.3,756.8h0M1548.5,758.8h0M1472.9,749.2h0M1474.7,749.6h0M1596,760.2h0M1417.1,742.8h0M1569.2,758.8h0M1672.5,744.7h0M1476.6,755.5h0M1559.8,756.7h0M1376.7,778.3h0M1623.1,755.8h0M1585,730.3h0M1626.2,767h0M1603.6,764.7h0M1401.6,770.9h0M1498.9,759.7h0M1390.2,775.8h0M1491,765.6h0M1564.4,749h0M1590.6,756.5h0M1453,751.7h0M1561.3,765.4h0M1442.8,735.4h0M1409.2,758.1h0M1451.9,755.5h0M1438.1,768h0M1440.7,757.4h0M1575.8,759.6h0M1617.5,750.9h0M1382.7,762.9h0M1470.7,754.6h0M1372.2,732.6h0M1585.9,751.9h0M1516.5,756.7h0M1591.2,741.1h0M1611.8,759.3h0M1368.9,761.5h0M1421.8,728.4h0M1617.5,760.4h0M1501.7,768.3h0M1432.3,766.2h0M1386.1,762h0M1596.1,757.8h0M1454.7,750h0M1574.2,752h0M1467.4,758.8h0M1429.3,763h0M1385.3,740.9h0M1653.8,751.9h0M1556.9,759.4h0M1452.4,753.6h0M1385.8,782.1h0M1602.5,750.3h0M1524.1,756.7h0M1582,757.6h0M1397.9,757.4h0M1578.3,771.8h0M1404.3,771.2h0M1464.6,760.2h0M1620.3,754.2h0M1387.8,770.9h0M1443.4,756h0M1514.8,754.6h0M1438.2,769.7h0M1523.9,740.2h0M1419,774.6h0M1499.8,753.7h0M1453.1,755.2h0M1433.6,762.6h0M1439.9,762.2h0M1564.4,754h0M1496.8,756.9h0M1507.5,750.8h0M1548.8,745.9h0M1458.9,755.7h0M1484.2,755.1h0M1501.1,755.4h0M1576.5,759h0M1440.1,764h0M1557.8,751h0M1435.3,767.8h0M1537.7,753.8h0M1373.9,761.3h0M1592.1,743.4h0M1468.6,763.8h0M1599.4,750.2h0M1377.5,767.7h0M1538,765h0M1382.8,755.4h0M1369.9,772h0M1501.2,743.7h0M1576.3,760.9h0M1504.3,771h0M1389.8,753.9h0M1426.2,759.5h0M1563,758.9h0M1526.8,759.7h0M1456.4,759.9h0M1552.4,768.4h0M1455.6,768.1h0M1569.1,760.4h0M1413.2,757h0M1503.5,751.8h0M1493.1,743.7h0M1475.5,749.2h0M1371.9,769.6h0M1611.5,761.2h0M1614.9,759.5h0M1465.2,760.8h0M1482.1,751.7h0M1522.7,748.4h0M1445.6,775.9h0M1373.5,763.2h0M1609.2,748.1h0M1447.6,759.2h0M1548.6,752h0M1392.5,745.3h0M1465,731.1h0M1551.6,758.8h0M1456.6,751.1h0M1568.1,753.4h0M1557.2,761.5h0M1524.2,754.2h0M1460.6,760.3h0M1376,768.7h0M1507.6,758.6h0M1489.9,746.2h0M1473.5,749.4h0M1407.7,777h0M1486.4,762.8h0M1416.1,764.9h0M1449.5,745.9h0M1465.4,760.5h0M1496.7,749.8h0M1534.3,753.6h0M1659.4,754.2h0M1462.5,763.3h0M1536.4,753.7h0M1422.2,758.8h0M1384.6,766.8h0M1384.5,784h0M1615.9,753.6h0M1440.5,776.2h0M1536.9,751.6h0M1571.9,758.9h0M1472.4,774.8h0M1374.1,782.5h0M1620.5,753.8h0M1596.4,758.8h0M1485.5,756.9h0M1439.4,766.4h0M1552,754.3h0M1411.3,758.9h0M1461.3,754.1h0M1561.5,747.9h0M1575.6,740.7h0M1456.9,763.5h0M1478.2,749.6h0M1385,736h0M1438.1,761.3h0M1520.2,755.5h0M1389.5,755.5h0M1648.1,763.9h0M1561.6,760.8h0M1440.8,760.3h0M1509.8,764.1h0M1434.8,760.8h0M1571,742.2h0M1557.4,739.3h0M1556.2,746.6h0M1408,767.8h0M1646.3,754.2h0M1391.1,740h0M1542.8,756.6h0M1382.8,775.8h0M1419.5,785.8h0M1500.9,754.3h0M1504.5,756.5h0M1390.1,754h0M1460.6,761.2h0M1563.2,758.2h0M1478.4,761.7h0M1631.9,753.1h0M1482.4,756.7h0M1376.2,763.3h0M1570.2,759.6h0M1513.2,761.3h0M1374.1,758.1h0M1559.1,753.8h0M1488.5,762.3h0M1444.6,760.4h0M1572.7,745.1h0M1470.4,760.8h0M1532.2,761.7h0M1632.6,751.5h0M1537.4,765.7h0M1613.1,759.5h0M1471,754.8h0M1396.3,815.6h0M1535.1,752.1h0M1384.3,739.6h0M1438.8,759.5h0M1512.9,751.1h0M1431.2,779.5h0M1446.9,755.9h0M1422.8,765h0M1507.6,753.4h0M1576.7,760.4h0M1392.1,759.8h0M1381.1,806.1h0M1396,803.7h0M1381.7,753.5h0M1567,762.1h0M1624.2,749.8h0M1566.2,757.3h0M1523.5,754.4h0M1485.7,758.8h0M1457.4,759.3h0M1624.6,763.2h0M1450.1,762.7h0M1546.5,746.7h0M1478,756.6h0M1431.3,769.7h0M1545.2,757.9h0M1504.5,758.2h0M1443.9,766.2h0M1555.2,756.7h0M1630,760.4h0M1385.9,765.4h0M1379.6,798.7h0M1501.8,755.2h0M1564.1,752h0M1624.5,754.2h0M1501.3,756.4h0M1506.6,759.2h0M1472.8,759.1h0M1444.6,754.3h0M1427.9,759.6h0M1555.7,758.1h0M1630.3,731.7h0M1468.7,742.8h0M1485,762h0M1404.8,757.4h0M1569.8,753.7h0M1388.6,765.1h0M1639.4,752.4h0M1386.7,761.9h0M1492,757.5h0M1554.4,748.7h0M1551.1,780h0M1492.7,757.3h0M1682,763h0M1537.6,761.4h0M1547.1,748.9h0M1593.6,751.3h0M1493.7,757.5h0M1451.6,752.8h0M1401.2,784.4h0M1563.7,763.3h0M1387.6,782.9h0M1479.7,771.5h0M1445.7,766h0M1526.6,758.9h0M1518.8,751h0M1459.1,777h0M1489.9,752.2h0M1629.9,768.8h0M1370.1,759.2h0M1423.6,758.4h0M1453.5,753.8h0M1427.9,746h0M1399.8,770.8h0M1503.7,757.4h0M1502.4,759.7h0M1426.8,789.4h0M1406.6,782.3h0M1584.4,766.1h0M1599.7,762.4h0M1646.9,734.6h0M1465.2,751.8h0M1435.7,758.1h0M1467.7,767.6h0M1469,759.9h0M1517.1,766.1h0M1405.6,763.2h0M1384.1,761.9h0M1383.8,734h0M1532.9,746.1h0M1391.5,753h0M1652.2,753.1h0M1486.1,754.3h0M1525.2,763.6h0M1578.4,753.9h0M1488.5,747.5h0M1620.4,756.1h0M1368.1,771.2h0M1412.3,757.6h0M1483.9,758.2h0M1487.9,749.5h0M1414.4,761.5h0M1413.7,767.9h0M1569.3,760.2h0M1565.1,742.1h0M1562.7,750.8h0M1433.3,763.3h0M1450.6,763.8h0M1623.5,754.7h0M1521.1,754.6h0M1439.8,752.3h0M1423,765.8h0M1415.4,766.7h0M1534.7,752.7h0M1454.4,756.7h0M1531.5,759.1h0M1550.5,755.5h0M1571.8,758.7h0M1573.4,752.9h0M1626.1,788.8h0M1397.7,811.2h0M1494.4,757h0M1404.2,770h0M1449.7,759.6h0M1442.9,758.1h0M1534.4,766.6h0M1505.4,747.5h0M1525.5,745.8h0M1567,758.8h0M1526.1,788.7h0M1535.1,741.4h0M1440.3,774.5h0M1455.2,752.4h0M1570.8,756.6h0M1381.6,779.4h0M1600.6,752.4h0M1597.3,740.4h0M1564.6,757h0M1558.1,770.2h0M1532.2,749h0M1596.2,766.1h0M1660.5,745.5h0M1463.7,760.8h0M1591.5,746.1h0M1532,760.4h0M1380.1,770.8h0M1457.1,750.8h0M1384.5,757h0M1577,767.5h0M1463.4,767.3h0M1474,754.3h0M1370.4,760.2h0M1487.2,760h0M1442.3,755.4h0M1456.2,763.2h0M1594,765.5h0M1490.4,762.1h0M1481.8,754.7h0M1540.6,769.7h0M1529,752.6h0M1380.5,766.4h0M1599.5,753.6h0M1439.6,765.8h0M1514.1,732.7h0M1596.5,756.5h0M1509.2,764.6h0M1483.2,746.6h0M1380.5,757.4h0M1623.1,747.8h0M1587.5,756h0M1524.4,745.3h0M1544.7,765.9h0M1591.8,754.2h0M1601.3,792.4h0M1375.3,766.6h0M1555.9,742h0M1463.8,767.8h0M1436.4,747.9h0M1469,767.3h0M1426.7,769.8h0M1556.8,771.5h0M1465.1,752.3h0M1464.2,756.8h0M1595.5,756.2h0M1627.8,753.7h0M1591.2,768h0M1505.6,751.5h0M1450.6,757.6h0M1560.5,749.8h0M1637.4,757.1h0M1485.1,756.6h0M1481.3,763.6h0M1670.8,767.4h0M1519.3,747.3h0M1466.5,759.8h0M1488.1,739.7h0M1375.5,776.2h0M1556,755.3h0M1574.7,750.1h0M1441.1,761.8h0M1384.3,758.6h0M1436.6,761.2h0M1440.7,768.3h0M1440.3,756.7h0M1483,755.5h0M1481.1,755.1h0M1594.7,763.2h0M1416.9,765.8h0M1467.7,752.8h0M1610.2,775.7h0M1568,764.3h0M1571.2,760.3h0M1465.7,776.6h0M1560.3,750.2h0M1515.3,763.3h0M1441.3,768.5h0M1522.2,748.4h0M1574.9,758.6h0M1486.8,753.9h0M1616.7,759.4h0M1574.7,759.7h0M1486.7,744.9h0M1434.6,749.2h0M1602,766h0M1390,761.7h0M1589.6,755.4h0M1598.7,762.7h0M1446,769.7h0M1622.4,775.2h0M1465.7,748.2h0M1508,761.5h0M1534.1,757.7h0M1598.7,752.7h0M1530.6,756.9h0M1616.2,763.3h0M1387.4,772.7h0M1550.4,791.2h0M1497.7,758.4h0M1503.6,751.7h0M1484.4,740.1h0M1644.1,761.8h0M1559.5,753.4h0M1612.1,757.7h0M1412.6,793.1h0M1395.9,762.4h0M1652.8,750.5h0M1444.8,744h0M1426.3,760h0M1383.1,770h0M1466.4,757.2h0M1526.2,762.8h0M1431.9,760.8h0M1408.2,767.2h0M1478.4,755h0M1450.5,755.8h0M1443.5,759.3h0M1493.7,752.7h0M1454.9,757.2h0M1543.4,760.7h0M1456.2,751.4h0M1532.6,752.8h0M1628.6,737.9h0M1469.4,747.3h0M1573.9,791h0M1547.8,752.5h0M1609.1,736.1h0M1460.6,749.7h0M1556.2,787.2h0M1489.9,749.8h0M1597.3,745.9h0M1634.2,765.4h0M1404.2,762.7h0M1591.4,763.7h0M1470.4,757.2h0M1448.4,756h0M1442.4,766.4h0M1466.4,746.7h0M1472.3,751.6h0M1483.6,761.6h0M1577.2,752.2h0M1414.7,768.9h0M1508.9,746.5h0M1539.8,758.2h0M1520.8,758.5h0M1482.3,756.9h0M1486.1,753.5h0M1517.9,752.6h0M1498,756.1h0M1491.9,749.8h0M1432,761.6h0M1549.7,760.2h0M1385.9,763.7h0M1454.3,763.2h0M1587.7,748.8h0M1572.4,753.7h0M1385.4,760.7h0M1381.3,776.5h0M1603.3,752.7h0M1374.1,758.9h0M1430.4,796.1h0M1521.3,753.1h0M1489,759.9h0M1611.7,755.2h0M1369.8,767.4h0M1511.9,752.3h0M1526.1,755h0M1427.6,792h0M1566.7,750.3h0M1464.7,750.4h0M1556.9,762.2h0M1461.9,759.2h0M1487.3,762.6h0M1516,759.1h0M1599.7,749.2h0M1513.3,755.2h0M1601.3,768.5h0M1481.5,745.9h0M1502.3,756.7h0M1373.7,798.8h0M1647.5,761.8h0M1470.1,753.7h0M1400.3,768.2h0M1382.7,775.7h0M1476,781.9h0M1536.9,765.3h0M1520.6,750.3h0M1558.6,754.5h0M1602.1,751.1h0M1488.9,759h0M1608,751.1h0M1526.9,760.3h0M1582.9,769.8h0M1520.4,751.7h0M1411.8,758.4h0M1502.5,744.7h0M1476.1,762.1h0M1454.8,769.8h0M1400.8,769h0M1575.1,764.3h0M1512.2,764.8h0M1565.1,761.3h0M1490.8,754.5h0M1585,757.8h0M1425.1,764.2h0M1514.1,766.3h0M1397.9,774.1h0M1659,748.6h0M1617.4,750h0M1497.2,753.6h0M1673.9,759.7h0M1469.7,761.9h0M1504.2,729.6h0M1467.5,754.9h0M1438.5,761.5h0M1543.5,758.4h0M1485.3,740.6h0M1625.1,760.3h0M1561,748.5h0M1569.8,765.7h0M1507.6,747.9h0M1511.8,756h0M1501,726.9h0M1509.9,768h0M1385.7,774.9h0M1492.9,759.9h0M1498.7,762.9h0M1375.6,778.8h0M1571.7,775.7h0M1376.9,790.1h0M1460.7,755.2h0M1404.4,762.5h0M1417.6,760.4h0M1550.9,753.5h0M1582.3,753.2h0M1384,756.2h0M1410.8,768.4h0M1654.6,752.3h0M1443.8,755.9h0M1420.8,795h0M1374.4,759.4h0M1557.4,763h0M1575,756.7h0M1418,769.4h0M1399.7,760.9h0M1404.7,756.1h0M1648.8,748.6h0M1506.4,744.6h0M1456,752.5h0M1425.8,765.2h0M1450.1,756.9h0M1531.3,745.4h0M1424.6,760.7h0M1443.2,732.9h0M1566.2,749.7h0M1511.2,756.6h0M1436.5,749.2h0M1372.3,764.5h0M1569.4,761.8h0M1388.2,731.1h0M1394.8,746.8h0M1630.1,750.3h0M1438.2,770.6h0M1488.6,746.9h0M1459.9,765.9h0M1370.9,773.7h0M1386.4,754.9h0M1563.9,760.5h0M1431.4,763h0M1537.5,746.6h0M1537,753.3h0M1490.6,748.2h0M1539.4,758.5h0M1530.2,760.7h0M1538,763.9h0M1388.5,764.8h0M1496.9,758.2h0M1481.2,755.7h0M1480.2,756.3h0M1390,744.7h0M1568.4,751.8h0M1439.7,768.1h0M1562,762.7h0M1462.6,743.7h0M1611.2,757.2h0M1505,741.9h0M1520.9,768.1h0M1447.5,763.2h0M1493,757h0M1402.6,759.2h0M1482.4,756h0M1557.3,764.4h0M1566.6,750.2h0M1371.2,774.3h0M1432.7,743.5h0M1390.5,757.4h0M1562.3,752.5h0M1387.5,763.1h0M1481.8,763.5h0M1489.2,749h0M1548.2,756.6h0M1454.5,756.7h0M1541.2,734.4h0M1529.5,775.9h0M1582.4,754h0M1561.6,754.2h0M1495.2,745.5h0M1382.1,772.9h0M1452,756.6h0M1606,759.7h0M1482.5,762.9h0M1567.8,758h0M1643.1,755.6h0M1396.7,764.7h0M1523.8,756.7h0M1611.5,756.1h0M1431.1,757.3h0M1598.6,754h0M1453.8,753.5h0M1557.1,761.6h0M1563.2,750.2h0M1618.8,760.4h0M1419.5,759.5h0M1604.7,761h0M1549.9,746.4h0M1619.5,748.6h0M1499.5,749.1h0M1573.5,757.3h0M1556.4,761.7h0M1540,761.5h0M1565,759.3h0M1471.5,764.3h0M1503.4,758.1h0M1565.1,748.8h0M1519.6,761.8h0M1422.5,760.6h0M1503.1,740.1h0M1439.7,757.4h0M1573.1,756.7h0M1496.6,756h0M1482.4,759.5h0M1565.7,753.4h0M1534.6,751.1h0M1408.7,763.8h0M1494.3,749.4h0M1662.8,747.4h0M1388.3,750.4h0M1467.2,759.7h0M1557.2,746.9h0M1557.2,784.1h0M1531.4,755.6h0M1482.8,762.7h0M1526,762.4h0M1516.8,755.7h0M1464.3,752.8h0M1507.7,760.8h0M1435,764.7h0M1568.1,764.1h0M1585.6,756.7h0M1493,744.7h0M1392.2,757.8h0M1530.1,745.1h0M1576,749.4h0M1607.7,756.3h0M1407.8,752.7h0M1560.7,748.5h0M1392,773.5h0M1491.4,767.1h0M1523.3,746.1h0M1474.9,750.9h0M1605.1,753h0M1420.2,758.5h0M1532.3,767.3h0M1520.9,787.2h0M1432.9,753.7h0M1577.3,760.2h0M1478.3,760.5h0M1495.2,754.3h0M1470.8,762.2h0M1559.6,753.5h0M1474.9,761.4h0M1585,764.9h0M1592.1,753.9h0M1469.8,781.8h0M1480.1,753.1h0M1466.4,741.9h0M1427.2,781h0M1534.8,751.5h0M1392.2,763.3h0M1438.3,763.3h0M1386.8,757.5h0M1453.8,761h0M1567.1,749.8h0M1407.7,754.2h0M1503.9,753.5h0M1396.1,777.3h0M1471.6,749.1h0M1635.7,754.8h0M1472.4,775.7h0M1504.8,750h0M1458.7,757.4h0M1507.8,755.1h0M1611,752.6h0M1603.9,732.1h0M1636.9,742.5h0M1488.6,750.9h0M1438,756.1h0M1456,763.5h0M1510.1,748.4h0M1463.3,756.1h0M1381.2,766.1h0M1479.3,760.3h0M1541.5,755.7h0M1517.5,746.8h0M1407.5,771.5h0M1404.8,768.6h0M1457.7,766.1h0M1480.4,754.1h0M1577.5,739.5h0M1617.5,747.5h0M1379.1,740.2h0M1387.3,755.1h0M1617.1,750.3h0M1556.9,724h0M1539.9,744.4h0M1394,751.3h0M1625.4,747.6h0M1496.7,750.8h0M1602.7,753.5h0M1556.1,762.5h0M1572.1,759.7h0M1486.1,758.2h0M1419.7,740.2h0M1495.3,768.9h0M1384.2,764.1h0M1639,752.9h0M1565.4,780.6h0M1496.4,741.9h0M1573.7,756.1h0M1563.4,746.3h0M1484,757h0M1420.8,762.5h0M1409.6,767.6h0M1581.3,757.2h0M1561.7,755.9h0M1392,793.1h0M1525.2,762.8h0M1608.2,749.2h0M1577,747.1h0M1534.3,757.4h0M1399.5,759.5h0M1441.8,764.5h0M1373.6,758.5h0M1598.3,747.3h0M1501.8,751.5h0M1609.4,770.7h0M1456.9,749.3h0M1446.7,733.6h0M1509.5,752.9h0M1531.7,754.8h0M1563.5,748.3h0M1561.8,746.5h0M1408.3,758.2h0M1565,764.2h0M1562.5,753.4h0M1471.3,760.7h0M1607.7,750.8h0M1487.5,758.4h0M1440.7,767.6h0M1584.7,754h0M1500.1,750.4h0M1619.2,751.1h0M1491.7,756.2h0M1488.8,748.1h0M1646.8,758.8h0M1471.1,758.4h0M1662.3,755.3h0M1607.7,760h0M1423.2,765.1h0M1379.4,793.3h0M1630.5,758.4h0M1510.8,761.3h0M1410.3,771.6h0M1381,760.5h0M1553.8,757.3h0M1521.8,760.1h0M1645,747.2h0M1476.7,758.9h0M1532.9,752.9h0M1474.8,720.7h0M1559,729.2h0M1502.3,758.2h0M1606.6,769.8h0M1556.8,759.2h0M1436,775.3h0M1515.9,754.1h0M1478,747.5h0M1577.9,740.8h0M1479.2,762.7h0M1651.1,774.9h0M1477.7,749.7h0M1405.2,767.1h0M1535.3,755.5h0M1647.2,755.1h0M1484.4,766.9h0M1449.9,785.9h0M1561.4,750.8h0M1394,774.4h0M1378.4,746.7h0M1458.1,756.9h0M1567.6,758.3h0M1380.6,767.6h0M1591.9,759h0M1539.8,750.2h0M1386.1,763.4h0M1528.9,754.9h0M1478.4,748.4h0M1564.7,764.4h0M1425.2,761.9h0M1374.1,757.1h0M1513.4,753.5h0M1560.2,757.4h0M1526.9,765.3h0M1516.3,745.2h0M1489.6,745h0M1444.7,759.2h0M1505.4,750.2h0M1385.3,794.3h0M1606.5,767.8h0M1591.8,759.1h0M1656.5,755.3h0M1591,751.7h0M1522.8,758.6h0M1535.7,759.2h0M1471.5,758.3h0M1522.2,753h0M1531.5,753.3h0M1444.8,766.2h0M1376.8,765.1h0M1572.7,758.5h0M1564.4,757.7h0M1551.4,751.7h0M1450,760.9h0M1506.8,762.8h0M1473.9,750.4h0M1570.4,759.8h0M1562.9,782.7h0M1564.4,763.9h0M1538.2,763.2h0M1378.5,777.9h0M1601.3,748.1h0M1436.3,770.7h0M1514.3,748.3h0M1530.3,764.1h0M1593.8,752.4h0M1456.9,756.5h0M1400.1,769.7h0M1403.4,758.4h0M1433.4,755.9h0M1595.1,761.6h0M1431.5,759.8h0M1454.8,766.6h0M1435,747.9h0M1485.5,751.5h0M1439.4,768.1h0M1377.8,744.2h0M1477.2,758.5h0M1562.5,769.1h0M1426.2,760.8h0M1478,758.9h0M1609.8,750.6h0M1501.6,760.3h0M1503.1,758.6h0M1390,765.5h0M1540.1,760.7h0M1424.6,749.9h0M1620.1,776.2h0M1489.3,768.1h0M1393,788.8h0M1397.5,756.9h0M1539.7,753h0M1446.4,750.1h0M1504.9,751.3h0M1561.1,756.8h0M1428.6,766.1h0M1525.3,755.6h0M1600.1,752.8h0M1372.3,745.9h0M1547,752.4h0M1605.3,757.4h0M1471.7,763.5h0M1587,766.6h0M1460.6,751.6h0M1381.6,800h0M1643.5,759.3h0M1597.7,768.5h0M1387.6,768.7h0M1520.4,745.1h0M1376.8,736.6h0M1603.9,760.2h0M1499.8,767h0M1671.1,751.5h0M1574.2,756.6h0M1558.5,756.2h0M1579.8,755.1h0M1629.1,748.6h0M1587.8,743.1h0M1522.8,733.3h0M1560.4,750.9h0M1567.3,764.9h0M1585.5,766.3h0M1446.5,756.7h0M1577.2,751.3h0M1628,755.3h0M1481.3,752.6h0M1519.4,752.2h0M1561.7,750.1h0M1384.1,773.7h0M1588.6,763.6h0M1592.5,765.7h0M1483.2,768.9h0M1459.4,730.7h0M1535.4,757.8h0M1554.3,758.8h0M1480.8,755.9h0M1563.6,748.5h0M1503.7,750.9h0M1559.4,761.2h0M1455.6,747.9h0M1486.8,762.3h0M1635.1,755.5h0M1431.3,767.8h0M1460.8,762.6h0M1578.2,762h0M1509.8,782.8h0M1429.1,768.1h0M1485.6,750.6h0M1659.4,754.8h0M1561.7,762.4h0M1496.5,761.2h0M1517.1,746.7h0M1491.9,754.8h0M1454.8,757.8h0M1473,761.4h0M1443.2,755.7h0M1494.9,754.1h0M1472.4,752.9h0M1620.8,753h0M1483.3,753.6h0M1612,752h0M1525.7,757.4h0M1487.6,760.4h0M1544.5,742.7h0M1560.3,753.8h0M1514,753.8h0M1425,793.4h0M1536.4,768.1h0M1495.1,762.5h0M1432.7,753.4h0M1641.2,753.3h0M1387.1,768.6h0M1585.7,751.3h0M1461.5,760.6h0M1587.5,757h0M1410,747h0M1602.3,764.7h0M1482.5,758.6h0M1411.5,768.7h0M1483.7,755.7h0M1442.3,767.7h0M1530.4,742.2h0M1528.6,756.9h0M1465.4,753.2h0M1458.6,760.7h0M1503.9,761.6h0M1416.9,763.6h0M1446.8,760h0M1608.8,760.6h0M1483.8,763.1h0M1582.4,745.9h0M1433.8,772.8h0M1452.6,747.9h0M1643.6,747.2h0M1469.2,758.4h0M1416.5,771.8h0M1590,746.8h0M1432.5,766h0M1571.4,753.4h0M1541.4,751.7h0M1590.5,754.9h0M1584.8,758.9h0M1588.2,752.2h0M1374.3,762.6h0M1519.9,757.8h0M1497.2,759.3h0M1573.5,771.6h0M1498.6,755.9h0M1479.2,751.1h0M1461.8,760.6h0M1410.8,761.5h0M1433.5,753.5h0M1498.9,769h0M1455.2,768.9h0M1674.8,754.8h0M1588,762.5h0M1521.3,765.6h0M1495.4,751.9h0M1590.6,742.1h0M1391.4,763.9h0M1579.7,755.6h0M1471.2,759.1h0M1490.4,753h0M1375.3,769.7h0M1583.1,753.6h0M1566.3,762.6h0M1512.8,756.4h0M1482.2,755.7h0M1574,767.8h0M1378.9,763.1h0M1542,754.9h0M1406,772.2h0M1428.5,757.6h0M1445.6,750.7h0M1412.7,777.4h0M1600.8,763.7h0M1580.5,753.6h0M1466.3,757.4h0M1373.5,761.3h0M1509.6,755.9h0M1537.1,748.3h0M1487.6,749.1h0M1468.5,751.1h0M1480.1,756.4h0M1457.9,759.8h0M1557,760h0M1516.6,752.5h0M1505.6,746.6h0M1374.7,764.8h0M1467.6,760.4h0M1418.7,765.3h0M1515.9,758.3h0M1491.3,748.3h0M1462,774.7h0M1488.7,743.7h0M1627.4,751.6h0M1511.8,764.4h0M1520.8,747.8h0M1435.7,755.8h0M1535.2,759.8h0M1534.2,763.8h0M1514.3,762.9h0M1437.9,775.9h0M1369,760.3h0M1372.2,769h0M1388.6,758.9h0M1471.6,764.8h0M1490.2,752.3h0M1464.8,759.1h0M1521.3,757.2h0M1371.7,765.7h0M1539.8,750.2h0M1382.8,764.5h0M1434.1,757.7h0M1435.8,769.4h0M1618.2,755h0M1569.5,748.5h0M1564.2,759.5h0M1591.2,730.4h0M1560.3,767.3h0M1489.1,756.5h0M1565,750.3h0M1391.4,782.6h0M1459.8,762.4h0M1569.8,762.9h0M1611.1,741.7h0M1531.6,752.1h0M1565.2,750.3h0M1660.1,758h0M1450.5,760h0M1573.2,753.6h0M1497.2,751.9h0M1475.9,764.8h0M1612.5,757.1h0M1470.8,756.9h0M1551.1,736.4h0M1570.7,763.4h0M1430.2,763.8h0M1481.1,757h0M1480.1,744.2h0M1383.7,757.8h0M1485.1,757.8h0M1374.2,750.8h0M1561.2,752.8h0M1498.4,749.7h0M1524.2,751.3h0M1563,787.6h0M1449.1,757.4h0M1404.5,776.8h0M1475,754.4h0M1575.6,766.5h0M1445.1,772.9h0M1503.8,762.5h0M1622.1,748h0M1389.7,766.5h0M1474.4,756.8h0M1483.5,768.6h0M1571,762.4h0M1601.1,747.9h0M1639.4,753.3h0M1587.6,755.1h0M1548.9,752.9h0M1535.2,763.5h0M1600.5,760.9h0M1408,772.1h0M1528.2,756.3h0M1527.9,761.5h0M1524.5,762.4h0M1550.4,765.9h0M1449,751.6h0M1481.1,769.6h0M1397.8,791.7h0M1531.3,759.5h0M1414,767.1h0M1542.9,769.8h0M1557.8,748.7h0M1603.4,752.8h0M1651.1,763.1h0M1456.1,755.8h0M1483.5,753.5h0M1577.9,756.1h0M1484.8,756.5h0M1529,764.6h0M1423.4,762.5h0M1483.5,769.6h0M1504,763.7h0M1635.8,754.5h0M1458.4,754.9h0M1499.3,756.4h0M1579.5,758.2h0M1576.6,759.8h0M1444.7,761.5h0M1450.2,766.6h0M1584.2,756.5h0M1506.7,754h0M1584.7,754h0M1635.4,751.9h0M1502.4,757.3h0M1563.6,758.6h0M1531.4,754.5h0M1593.1,757.6h0M1518.5,748h0M1585.5,744.7h0M1522.8,762.3h0M1564.6,760.2h0M1372,779.5h0M1376,762.4h0M1401.1,756.2h0M1389,763.6h0M1597.8,764.6h0M1410.4,746.2h0M1559,755.6h0M1419.8,762.5h0M1618.5,761.8h0M1375.3,773.5h0M1410.1,800.8h0M1521.6,749.8h0M1474.6,746.4h0M1552,750.5h0M1500.4,761.7h0M1567.9,756.4h0M1418.7,762.9h0M1464.6,759.1h0M1611.8,760.2h0M1559.9,747h0M1374.9,752.7h0M1500.5,757.4h0M1558.2,755.5h0M1562.5,753.7h0M1608.4,758.1h0M1437.5,750.3h0M1575.7,752.9h0M1492.1,744.1h0M1481,762h0M1599,744.9h0M1546.5,761.6h0M1493.3,756.1h0M1432.7,740.7h0M1454.2,766.2h0M1442.9,758.7h0M1409.9,770.9h0M1529.6,757.2h0M1392.3,769h0M1461,759.6h0M1430.8,788.8h0M1449.4,752.8h0M1591.9,759.1h0M1411,795.1h0M1386.8,762.8h0M1402.3,762h0M1444.1,759.7h0M1531.5,746.1h0M1385.7,765.5h0M1518.6,741.4h0M1440.4,756.2h0M1476.5,753.8h0M1569,758.2h0M1449.9,744.3h0M1369.4,783.1h0M1574.4,759.3h0M1369.3,771.1h0M1414.9,771h0M1456.3,770.5h0M1384.9,762.9h0M1575.8,748.3h0M1458,742.9h0M1449.8,757.7h0M1570.7,757.2h0M1442,738.7h0M1477.9,748.7h0M1567.9,768.1h0M1418.5,759.2h0M1480.3,751.6h0M1514.7,749.9h0M1492.3,760.5h0M1464.9,758.3h0M1564.5,755.3h0M1460.3,768.2h0M1605,750.4h0M1375.3,812.8h0M1440.5,787.4h0M1558.3,771h0M1474.5,747.7h0M1371,761.5h0M1423.4,766.9h0M1490.1,752.7h0M1565.4,744.3h0M1540.7,755.6h0M1427.2,766.3h0M1605.3,761.3h0M1455.4,761.2h0M1413.9,807.4h0M1543.8,748.8h0M1436,759.5h0M1385.4,772.2h0M1483.6,760.4h0M1576.6,756h0M1528.8,773.1h0M1574.7,760h0M1599.5,775h0M1490.4,755.9h0M1464.6,775.5h0M1605.6,742.3h0M1487.5,755.1h0M1405.9,760.7h0M1490.4,751.8h0M1586.4,749.9h0M1502.6,764.2h0M1587.8,769h0M1602.1,762.2h0M1550.6,759.3h0M1588.7,754.4h0M1446.7,748.9h0M1476.8,761.9h0M1382.8,763.9h0M1499.8,768.9h0M1528,763.4h0M1438.8,739.3h0M1570.9,760.9h0M1390.3,790.4h0M1469.3,755h0M1517.8,767.9h0M1558.1,761.2h0M1578.6,762.2h0M1471.9,763.6h0M1433.8,762.1h0M1484.1,761.2h0M1498.8,759.1h0M1478.4,776.9h0M1576.7,775.2h0M1596.3,766h0M1429,764.3h0M1502.4,754.4h0M1628.5,761.7h0M1564.4,778.4h0M1384.2,749.4h0M1591.5,756h0M1401.4,763.2h0M1584.2,774h0M1467.4,727.7h0M1453.6,755.4h0M1429.1,762.1h0M1511.4,761.6h0M1571.6,755h0M1374.1,750h0M1384.5,764.3h0M1611.7,756.8h0M1479.8,762.5h0M1421.7,807.3h0M1581,752.1h0M1559.1,746.3h0M1560.7,763.6h0M1644.9,739.6h0M1384.9,740.7h0M1597.2,744h0M1633.2,762.3h0M1385.4,759h0M1577.7,768.9h0M1605.4,757.5h0M1392,761.7h0M1564.6,756.8h0M1556.8,756h0M1499.2,766h0M1441.6,756h0M1565,739.5h0M1507.9,759h0M1629.5,732.1h0M1497.6,758.3h0M1520.8,755.4h0M1433,762.8h0M1586.4,751h0M1564.4,773.8h0M1492.1,749.5h0M1537.2,759.6h0M1583.6,759.2h0M1495.5,754h0M1485.7,755.5h0M1623,746.8h0M1503,765.2h0M1469.4,752.6h0M1490.4,754.5h0M1505,746.1h0M1590.5,751.3h0M1563.7,753.5h0M1574.1,752.8h0M1563.1,761.6h0M1536.6,751.7h0M1399.6,769.6h0M1483.8,755.9h0M1556.4,757.5h0M1370.7,763.2h0M1436.3,762.5h0M1558.1,754.4h0M1493.7,760.5h0M1418.2,752.9h0M1611.3,753.7h0M1433.9,756.5h0M1535.7,756h0M1644.7,748.9h0M1665.6,748.8h0M1453.4,755h0M1372.4,757.4h0M1614.8,752.2h0M1471.5,764.8h0M1603,756.4h0M1503.6,775.9h0M1561.1,768.3h0M1413.2,759.8h0M1508.3,755.4h0M1485.9,746.2h0M1493.3,760.8h0M1474.5,758h0M1570.3,748.8h0M1470.5,751.2h0M1437.5,769h0M1526.3,764.2h0M1522.5,750.5h0M1557.2,743h0M1445.8,759.7h0M1441,765.1h0M1492.3,758.8h0M1480.6,758.9h0M1427.4,765.8h0M1368.4,755.3h0M1395,773.4h0M1596.1,735.6h0M1606.7,756.4h0M1449.2,760.9h0M1430.8,760.6h0M1380.1,769h0M1445.1,756.3h0M1407.8,757h0M1449.3,761.3h0M1517.5,747.8h0M1468.7,754.5h0M1610.8,773.9h0M1646.5,753.1h0M1424.3,783.4h0M1483.2,759.1h0M1591,750.3h0M1538.1,753.3h0M1560.2,748.8h0M1490.5,756.1h0M1490.6,744.4h0M1390.2,769.5h0M1619.8,754.1h0M1510.8,761.1h0M1486.8,754.9h0M1430.9,765.3h0M1426.9,759.4h0M1508.8,757.2h0M1373.2,747.7h0M1534.3,758.1h0M1476.6,761.1h0M1540.7,753.6h0M1497.1,754.7h0M1382.8,769.4h0M1440,754.6h0M1595.3,770.9h0M1437.9,763.9h0M1563.2,758.3h0M1526.2,755.1h0M1413.6,746.2h0M1395.5,790.9h0M1466.6,755.8h0M1436.8,760.7h0M1544.1,751.6h0M1557.4,741.4h0M1557.6,764.2h0M1510,763.6h0M1579.7,755.3h0M1467.1,761.3h0M1603.5,724.2h0M1505.4,762.9h0M1385.1,753.4h0M1403.2,779.8h0M1503.6,758.1h0M1379.5,754.7h0M1368.3,757.9h0M1433,759.9h0M1540.3,761.1h0M1523.8,757.1h0M1441.8,750.4h0M1559.7,750.9h0M1488.4,751.3h0M1561.8,754.5h0M1528.2,726.5h0M1487,748.3h0M1548.3,748.8h0M1454.6,755.8h0M1370.9,763h0M1442.3,756h0M1524.5,761.3h0M1612.6,753.4h0M1569.4,777.4h0M1414.3,765.9h0M1564.4,753.4h0M1540.3,765.6h0M1557.8,765.4h0M1646.9,756.5h0M1494,761.2h0M1607.6,752.5h0M1619.8,768.6h0M1389.9,760.7h0M1416.5,754.8h0M1536.3,750.6h0M1473.4,758.1h0M1579.9,756.8h0M1576.1,753.3h0M1400.8,749.3h0M1537.1,772.5h0M1643.5,761.8h0M1489.8,760.7h0M1466.4,759.9h0M1378.5,745h0M1426.1,759.2h0M1482.4,788.7h0M1580.2,757.7h0M1408.4,793.5h0M1611.6,749.3h0M1374,759.1h0M1572,743.6h0M1471,742.9h0M1519.9,752.7h0M1589.6,743.4h0M1482.9,749.4h0M1584.4,761.5h0M1445.3,762.3h0M1568.7,774.3h0M1579.6,792.9h0M1521,766.4h0M1591.6,748.6h0M1533.5,760.7h0M1482.7,758.7h0M1617.7,751h0M1495.3,755.9h0M1438.1,763.3h0M1413.4,782h0M1477.2,753h0M1420,765.3h0M1485.6,766.5h0M1488.9,755.1h0M1535.9,758.3h0M1485.3,755.4h0M1542.6,761.6h0M1481.7,746.9h0M1561,790.8h0M1482.5,764.4h0M1552.7,757.7h0M1585,765.6h0M1507,754.9h0M1516.3,751.7h0M1379.4,746.9h0M1483.3,746.1h0M1414.6,765.3h0M1493.6,761.6h0M1492.9,753.7h0M1387.3,769.3h0M1528,743h0M1508.1,755.8h0M1517.9,756.7h0M1576.1,758h0M1553.1,766.6h0M1462.6,758.5h0M1381.4,765.2h0M1433,766.4h0M1379.2,788h0M1400.5,775.1h0M1596.4,752.7h0M1642.5,757.5h0M1481.1,766.2h0M1433.9,747.2h0M1428.5,756.3h0M1383.1,776.2h0M1474,753.8h0M1383.9,759.2h0M1463.9,753.6h0M1424.4,758.6h0M1467.9,759h0M1368.1,779.8h0M1623.8,767.4h0M1491.6,753.2h0M1431.7,763.2h0M1482.7,759.9h0M1446.6,746.2h0M1455.3,760h0M1562.8,750.5h0M1466.6,750.7h0M1673.5,760.5h0M1391.5,770.1h0M1479.8,758.3h0M1393.1,754.2h0M1373.3,784.3h0M1588.9,752.9h0M1496.6,751.7h0M1453,767.2h0M1643.6,761.5h0M1589,750.5h0M1487.1,759h0M1406.5,767.5h0M1370.3,775.4h0M1655.6,761.1h0M1435.6,761.1h0M1466.2,787.8h0M1504.8,746.6h0M1482,760.3h0M1481.7,755.9h0M1615.7,752.3h0M1387.5,795h0M1603.7,759.4h0M1568.2,755.5h0M1484.8,755h0M1377.9,745.5h0M1530.5,766.7h0M1564.3,751.1h0M1538.7,748h0M1620.1,747.4h0M1448.7,759h0M1467,755h0M1488.7,761.1h0M1479.3,756.4h0M1456.9,759.5h0M1586.4,758.7h0M1427.1,767.4h0M1559.6,753.1h0M1565.4,751.4h0M1546.4,754.9h0M1536.1,756.3h0M1525.4,755.2h0M1387.7,754.2h0M1442.6,766.1h0M1381.5,766.1h0M1387.8,755.1h0M1527.1,752.7h0M1409.4,782.3h0M1380.9,768.5h0M1548.1,752.9h0M1491.2,766.3h0M1508.8,747.5h0M1560.5,754h0M1385,778.3h0M1380.7,761.9h0M1469.8,753.5h0M1599.4,765h0M1551.1,759.4h0M1602.4,747.9h0M1384.2,765.8h0M1578.4,752.6h0M1568.1,755.4h0M1520,744.4h0M1583.4,749.6h0M1628.8,748h0M1567.5,785h0M1491.5,747.6h0M1423.2,761.1h0M1556.1,768.8h0M1570.7,738.4h0M1456.7,760.9h0M1484,755h0M1452.3,762.3h0M1637.1,764.5h0M1433.6,770.8h0M1465.6,774.2h0M1390.1,791.1h0M1498,750.1h0M1396.9,751.9h0M1372.4,764.3h0M1576.7,748.8h0M1548.1,776h0M1492.7,755.4h0M1608.1,756.1h0M1534.7,765.1h0M1624.6,760.2h0M1437.7,758.4h0M1512.4,758.5h0M1530.8,763.1h0M1378.8,771.3h0M1564.7,751h0M1653,755.4h0M1563.7,774.7h0M1579.3,754.2h0M1677.2,747.5h0M1478.9,754.6h0M1524.7,763.2h0M1463.4,751.6h0M1547.5,759.6h0M1618,745h0M1597.7,750.4h0M1505.3,766.5h0M1441.3,742h0M1484.8,754.6h0M1480.8,745.1h0M1551.5,762.2h0M1627,763.6h0M1447.3,758.3h0M1402.5,759.5h0M1610.6,746.5h0M1489.7,759.5h0M1523,762.6h0M1546.7,763.1h0M1456.8,789.8h0M1479.1,749.7h0M1395.7,758.9h0M1494.3,749h0M1531.4,756.1h0M1386,770.9h0M1622.7,762.3h0M1557.3,753.2h0M1471.9,754.4h0M1577.6,757.6h0M1381.4,761.5h0M1536.1,759.4h0M1579.9,766.2h0M1464.2,752.7h0M1471.5,762.5h0M1625.8,757.7h0M1489.5,752.6h0M1392.8,755.1h0M1466.8,759.8h0M1435.8,765.9h0M1515.7,753.5h0M1490.4,753.6h0M1637.2,761h0M1443.9,771.6h0M1593.6,751.9h0M1385.2,763.2h0M1435,758h0M1411.2,763.2h0M1572.3,743.9h0M1587.1,759.2h0M1536.8,752h0M1573.1,760.6h0M1529.1,753.3h0M1575.3,763.2h0M1470.2,761.4h0M1496.8,751.7h0M1585.4,776.9h0M1551,756.1h0M1415.4,781.7h0M1484.1,747.3h0M1580.4,762h0M1580.6,763.2h0M1443.5,758.4h0M1503.7,759.5h0M1566.7,752.6h0M1426.2,751.3h0M1567.2,752.6h0M1483.1,728h0M1597.3,754h0M1427.7,767.4h0M1607.1,763.7h0M1439.4,768.5h0M1481.4,777.7h0M1569.4,756.4h0M1428.6,771.1h0M1541.8,765.7h0M1606.6,733.6h0M1418.3,758.9h0M1463.7,765.5h0M1494.4,752.3h0M1627.9,750.5h0M1493.1,752.7h0M1518.7,753.4h0M1637.2,762.7h0M1447,757.6h0M1604.2,751h0M1445,749.5h0M1458.9,778.4h0M1535,747.5h0M1372.5,786.5h0M1508.1,756.6h0M1369.2,772.5h0M1380.4,781.2h0M1666,743.4h0M1585.6,753.6h0M1434.3,768.3h0M1441.5,762.6h0M1586.4,744.1h0M1504.5,754.2h0M1668.1,742.2h0M1381.6,765.7h0M1575.4,753.2h0M1467.8,751.3h0M1384.9,769.9h0M1372.8,747.4h0M1495.9,756.7h0M1527.2,765.9h0M1579.1,749.5h0M1506.1,760h0M1480.2,759.8h0M1632.5,739.5h0M1493.7,748.9h0M1493,755.2h0M1436.4,766.2h0M1540.7,757.7h0M1502.4,755.5h0M1391.9,766.1h0M1390.1,785.6h0M1537.4,762.4h0M1568.6,725.9h0M1490.7,756.7h0M1571.6,768.1h0M1537.4,751.8h0M1485,758.4h0M1392.7,790.4h0M1557.2,753.3h0M1461.2,773.9h0M1488.3,761.3h0M1372.5,769.4h0M1533.5,744.8h0M1467.8,763.9h0M1584.2,751.4h0M1596.8,764.8h0M1486.7,759.9h0M1428.2,762.3h0M1427.9,751.2h0M1664.1,745.7h0M1497.9,757.8h0M1536,746.8h0M1466,756.9h0M1512.7,758.2h0M1375.7,766.5h0M1445.5,760.8h0M1523.4,756.3h0M1469.9,755.1h0M1637.8,751.4h0M1408.2,765.4h0M1371.9,766.9h0M1391.8,790h0M1600.4,759.9h0M1516,768.5h0M1404.8,770.5h0M1370,765.1h0M1461.8,757.9h0M1564.4,755.6h0M1397.9,772.3h0M1428.5,765.1h0M1501.8,756.4h0M1490.6,751.1h0M1414.7,768.5h0M1551.5,755.5h0M1481.7,747h0M1372.9,767.5h0M1615.6,761.5h0M1383.5,761.7h0M1423.3,764.7h0M1466,751.4h0M1481.8,762.1h0M1625.3,759h0M1394.6,747.8h0M1378.8,756.4h0M1553.8,752.4h0M1622.9,754.3h0M1569.2,748.3h0M1648.4,754.4h0M1491.2,755h0M1625.6,760.1h0M1383.4,769.5h0M1475,757.7h0M1470.1,757.7h0M1511.5,756.6h0M1654.3,758.5h0M1511.8,753.7h0M1454.6,765.3h0M1502.8,735.6h0M1381.4,766.8h0M1420.7,757.9h0M1495,724.3h0M1447.1,745.3h0M1656.2,790.4h0M1408.3,764.7h0M1461.9,765.2h0M1592.1,754.2h0M1483.1,754.8h0M1477.4,753.5h0M1560.9,752.3h0M1616.1,754.5h0M1555.2,757.3h0M1544.2,753.7h0M1571.1,755.7h0M1495,752.1h0M1452.1,755.1h0M1519,753.3h0M1559.4,746.3h0M1517.1,760.7h0M1649.9,752.4h0M1442.1,768.6h0M1387.4,764.4h0M1557.7,751h0M1424.3,783.7h0M1521.9,754.4h0M1561.1,746.6h0M1634.2,769.1h0M1572.8,773.8h0M1535.2,752.9h0M1489.1,763.3h0M1552.5,757h0M1424.1,746h0M1577,759.3h0M1504,764.8h0M1382,773.8h0M1615.5,761.8h0M1548.1,776.3h0M1519.8,754.6h0M1469.6,762.3h0M1583.7,748.9h0M1433,754.4h0M1574.2,737.9h0M1443.4,755.3h0M1568.3,761.1h0M1368.3,767h0M1605.3,752.1h0M1498.2,759h0M1566,758.8h0M1525.8,746.8h0M1461.2,756.6h0M1420.2,764.3h0M1409,766.9h0M1558.9,753.3h0M1568.7,758.7h0M1638.6,754.9h0M1378,755.3h0M1374.6,743.7h0M1532.9,755.1h0M1576.1,759.4h0M1598.2,772.1h0M1561.4,761h0M1411,764.5h0M1519.9,756.5h0M1564.5,761.5h0M1388.1,772.6h0M1385.1,759.5h0M1392.1,756.7h0M1606.2,759.1h0M1425.3,760.2h0M1567.1,770.8h0M1534.5,761.9h0M1630.5,747.9h0M1613.1,746.6h0M1605.1,751.2h0M1462,744.9h0M1487.9,747.1h0M1427.3,766.1h0M1418.1,754.2h0M1448.6,756.8h0M1595.3,752.6h0M1376.7,764.9h0M1543.9,746.4h0M1434.9,767h0M1625.8,757.2h0M1462.4,761.3h0M1405.8,757.2h0M1424.7,763h0M1490.5,751.4h0M1553.6,772.6h0M1549.9,747.4h0M1507.6,757.5h0M1462.1,748.7h0M1396.1,749.7h0M1443.1,746.5h0M1502.1,753.6h0M1443,755.4h0M1397.4,765.2h0M1542.1,759.2h0M1519.5,768.5h0M1505.9,758.3h0M1449.9,777.7h0M1530.7,762.9h0M1558.2,745h0M1590.2,757.9h0M1499,753.7h0M1618.6,749.2h0M1436.4,757.8h0M1470.1,746.7h0M1413.4,769.9h0M1426.8,760.7h0M1392,716h0M1530.8,717h0M1607.7,809.2h0M1646.7,799h0M1569.8,797h0M1661.6,720.1h0" stroke="#808080" stroke-opacity="0.72" stroke-width="1.4" stroke-linecap="round" fill="none"/>
<path d="M1354.7,758H1711.7" stroke="#bbb" stroke-width="0.6" stroke-dasharray="2.2,1.4" stroke-opacity="0.7"/>
<polygon points="1367.9,762.6 1401.2,763.3 1456.3,757.4 1515.9,755.2 1596.2,754.4 1642.1,752.7 1685.7,749.8 1685.7,756 1642.1,756 1596.2,756.5 1515.9,756.7 1456.3,758.6 1401.2,765 1367.9,765.7" fill="#00f" fill-opacity="0.3"/>
<polyline points="1367.9,764.1 1401.2,764.1 1424.1,761.6 1456.3,758 1487.2,755.3 1515.9,756 1550.3,756.7 1596.2,755.4 1642.1,754.3 1685.7,752.9" fill="none" stroke="#00f" stroke-width="1.6" stroke-linejoin="round"/>
<circle cx="1456.3" cy="758" r="3" fill="#f00"/>
</g>
<rect x="1354.7" y="655.5" width="357" height="164" fill="none" stroke="#000" stroke-width="0.9"/>
<path d="M1366.8,819.5v3.2M1424.1,819.5v3.2M1481.5,819.5v3.2M1538.8,819.5v3.2M1596.2,819.5v3.2M1653.5,819.5v3.2M1710.9,819.5v3.2M1354.7,819.5h-3.2M1354.7,799h-3.2M1354.7,778.5h-3.2M1354.7,758h-3.2M1354.7,737.5h-3.2M1354.7,717h-3.2M1354.7,696.5h-3.2M1354.7,676h-3.2M1354.7,655.5h-3.2" stroke="#000" stroke-width="0.8"/>
<g class="r" font-size="14.3">
<text transform="translate(1366.8,834.6) rotate(0.03) scale(1.1,1)" text-anchor="middle">0</text>
<text transform="translate(1424.15,834.6) rotate(0.03) scale(1.1,1)" text-anchor="middle">50</text>
<text transform="translate(1481.5,834.6) rotate(0.03) scale(1.1,1)" text-anchor="middle">100</text>
<text transform="translate(1538.85,834.6) rotate(0.03) scale(1.1,1)" text-anchor="middle">150</text>
<text transform="translate(1596.2,834.6) rotate(0.03) scale(1.1,1)" text-anchor="middle">200</text>
<text transform="translate(1653.55,834.6) rotate(0.03) scale(1.1,1)" text-anchor="middle">250</text>
<text transform="translate(1710.9,834.6) rotate(0.03) scale(1.1,1)" text-anchor="middle">300</text>
<text transform="translate(1350.9,825.5) rotate(0.03) scale(1.1,1)" text-anchor="end">−0.6</text>
<text transform="translate(1350.9,805) rotate(0.03) scale(1.1,1)" text-anchor="end">−0.4</text>
<text transform="translate(1350.9,784.5) rotate(0.03) scale(1.1,1)" text-anchor="end">−0.2</text>
<text transform="translate(1350.9,764) rotate(0.03) scale(1.1,1)" text-anchor="end">0.0</text>
<text transform="translate(1350.9,743.5) rotate(0.03) scale(1.1,1)" text-anchor="end">0.2</text>
<text transform="translate(1350.9,723) rotate(0.03) scale(1.1,1)" text-anchor="end">0.4</text>
<text transform="translate(1350.9,702.5) rotate(0.03) scale(1.1,1)" text-anchor="end">0.6</text>
<text transform="translate(1350.9,682) rotate(0.03) scale(1.1,1)" text-anchor="end">0.8</text>
<text transform="translate(1350.9,661.5) rotate(0.03) scale(1.1,1)" text-anchor="end">1.0</text>
<text transform="translate(1314.5,737.6) scale(1.1,1) rotate(-90)" text-anchor="middle" font-size="14.6">SHAP Values</text>
<text transform="translate(1495,852.2) rotate(0.03) scale(1.13,1)" class="r" font-size="14.3">O</text>
<text transform="translate(1508,854.4) rotate(0.03) scale(1.13,1)" class="d" font-size="10.0">3</text>
<text transform="translate(1519.8,852.2) rotate(0.03) scale(1.13,1)" class="r" font-size="14.3">(µg/m</text>
<text transform="translate(1562.7,846.9) rotate(0.03) scale(1.13,1)" class="d" font-size="10.0">3</text>
<text transform="translate(1569.4,852.2) rotate(0.03) scale(1.13,1)" class="r" font-size="14.3">)</text>
</g>
<rect x="1555.5" y="659.8" width="151.2" height="56.4" rx="1.6" fill="#fff" fill-opacity="0.8" stroke="#ccc" stroke-width="0.8"/>
<circle cx="1569.2" cy="667.2" r="0.7" fill="#808080" fill-opacity="0.7"/>
<path d="M1559.3,680.3h19.8" stroke="#00f" stroke-width="1.3"/>
<rect x="1559.3" y="690.8" width="19.8" height="5.6" fill="#00f" fill-opacity="0.3"/>
<ellipse cx="1569.2" cy="708.2" rx="2.8" ry="2.5" fill="#f00"/>
<g class="d" font-size="8.5">
<text transform="translate(1586.4,670.3) rotate(0.03) scale(1.13,1)" text-anchor="start">SHAP Values</text>
<text transform="translate(1586.4,683.6) rotate(0.03) scale(1.13,1)" text-anchor="start">LOESS Curve</text>
<text transform="translate(1586.4,696.9) rotate(0.03) scale(1.13,1)" text-anchor="start">95% CI</text>
<text transform="translate(1586.4,711.4) rotate(0.03) scale(1.13,1)" text-anchor="start">Intersection at 78 µg/m<tspan font-size="6.4" dy="-3.4">3</tspan></text>
</g>
</g>
</svg></body></html>
